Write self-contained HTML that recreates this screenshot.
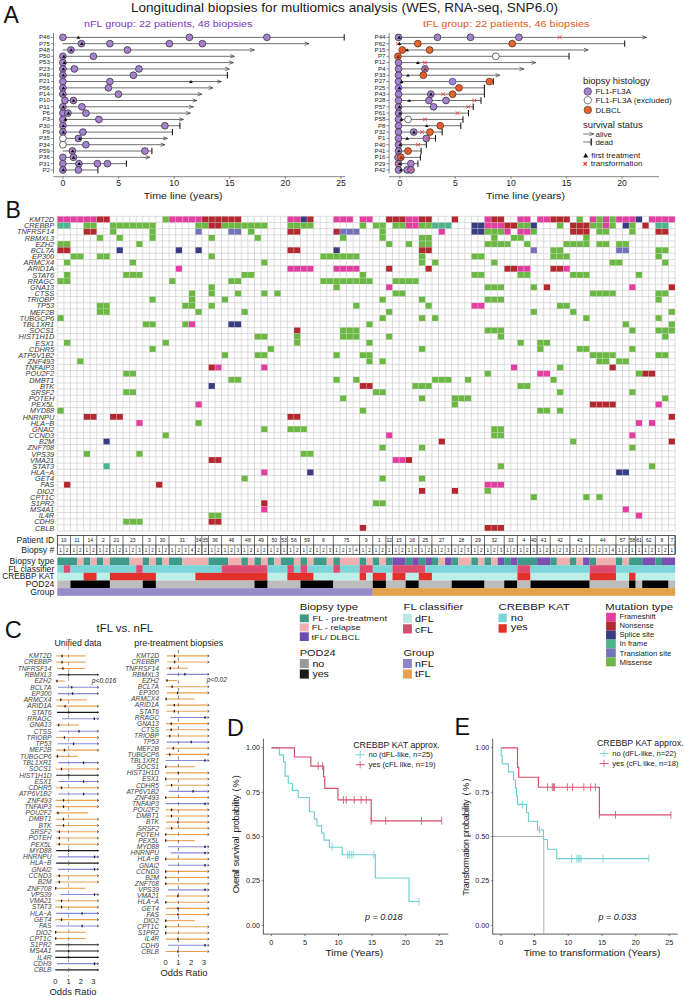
<!DOCTYPE html>
<html><head><meta charset="utf-8"><title>Figure</title>
<style>
html,body{margin:0;padding:0;background:#fff;}
body{width:685px;height:996px;overflow:hidden;font-family:"Liberation Sans",sans-serif;}
svg{display:block;font-family:"Liberation Sans",sans-serif;}
</style></head><body>
<svg width="685" height="996" viewBox="0 0 685 996">
<rect width="685" height="996" fill="#fff"/>
<text x="131" y="12" font-size="13.2" fill="#1a1a1a" textLength="427" lengthAdjust="spacingAndGlyphs">Longitudinal biopsies for multiomics analysis (WES, RNA-seq, SNP6.0)</text>
<text x="3.6" y="22.8" font-size="23" fill="#111">A</text>
<text x="5.4" y="218.3" font-size="23" fill="#111">B</text>
<text x="4.8" y="637.8" font-size="23.6" fill="#111">C</text>
<text x="226.9" y="735.8" font-size="23.4" fill="#111">D</text>
<text x="454.6" y="735.2" font-size="23.4" fill="#111">E</text>
<text x="84" y="26.6" font-size="9.6" fill="#7f36c0" textLength="168.5" lengthAdjust="spacingAndGlyphs">nFL group: 22 patients, 48 biopsies</text>
<text x="423" y="26.6" font-size="9.6" fill="#e4571e" textLength="166.5" lengthAdjust="spacingAndGlyphs">tFL group: 22 patients, 46 biopsies</text>
<line x1="53.5" y1="33" x2="53.5" y2="173.5" stroke="#333" stroke-width="0.6"/>
<line x1="50.8" y1="37.35" x2="53.5" y2="37.35" stroke="#333" stroke-width="0.55"/>
<text x="49.9" y="39.2" font-size="5.3" text-anchor="end" fill="#222" textLength="10.9" lengthAdjust="spacingAndGlyphs">P46</text>
<line x1="62.5" y1="37.35" x2="344.2" y2="37.35" stroke="#3c3c3c" stroke-width="0.75"/>
<line x1="344.2" y1="34.15" x2="344.2" y2="40.55" stroke="#111" stroke-width="1.05"/>
<line x1="50.8" y1="43.66" x2="53.5" y2="43.66" stroke="#333" stroke-width="0.55"/>
<text x="49.9" y="45.52" font-size="5.3" text-anchor="end" fill="#222" textLength="10.9" lengthAdjust="spacingAndGlyphs">P75</text>
<line x1="62.5" y1="43.66" x2="308.9" y2="43.66" stroke="#3c3c3c" stroke-width="0.75"/>
<path d="M304.6 41.96 L308.9 43.66 L304.6 45.37" fill="none" stroke="#3c3c3c" stroke-width="0.7"/>
<line x1="50.8" y1="49.98" x2="53.5" y2="49.98" stroke="#333" stroke-width="0.55"/>
<text x="49.9" y="51.83" font-size="5.3" text-anchor="end" fill="#222" textLength="10.9" lengthAdjust="spacingAndGlyphs">P48</text>
<line x1="62.5" y1="49.98" x2="254.4" y2="49.98" stroke="#3c3c3c" stroke-width="0.75"/>
<path d="M250.1 48.28 L254.4 49.98 L250.1 51.68" fill="none" stroke="#3c3c3c" stroke-width="0.7"/>
<line x1="50.8" y1="56.3" x2="53.5" y2="56.3" stroke="#333" stroke-width="0.55"/>
<text x="49.9" y="58.15" font-size="5.3" text-anchor="end" fill="#222" textLength="10.9" lengthAdjust="spacingAndGlyphs">P50</text>
<line x1="62.5" y1="56.3" x2="234.4" y2="56.3" stroke="#3c3c3c" stroke-width="0.75"/>
<path d="M230.1 54.59 L234.4 56.3 L230.1 58" fill="none" stroke="#3c3c3c" stroke-width="0.7"/>
<line x1="50.8" y1="62.61" x2="53.5" y2="62.61" stroke="#333" stroke-width="0.55"/>
<text x="49.9" y="64.46" font-size="5.3" text-anchor="end" fill="#222" textLength="10.9" lengthAdjust="spacingAndGlyphs">P53</text>
<line x1="62.5" y1="62.61" x2="233.4" y2="62.61" stroke="#3c3c3c" stroke-width="0.75"/>
<path d="M229.1 60.91 L233.4 62.61 L229.1 64.31" fill="none" stroke="#3c3c3c" stroke-width="0.7"/>
<line x1="50.8" y1="68.93" x2="53.5" y2="68.93" stroke="#333" stroke-width="0.55"/>
<text x="49.9" y="70.78" font-size="5.3" text-anchor="end" fill="#222" textLength="10.9" lengthAdjust="spacingAndGlyphs">P23</text>
<line x1="62.5" y1="68.93" x2="229.4" y2="68.93" stroke="#3c3c3c" stroke-width="0.75"/>
<path d="M225.1 67.23 L229.4 68.93 L225.1 70.63" fill="none" stroke="#3c3c3c" stroke-width="0.7"/>
<line x1="50.8" y1="75.24" x2="53.5" y2="75.24" stroke="#333" stroke-width="0.55"/>
<text x="49.9" y="77.09" font-size="5.3" text-anchor="end" fill="#222" textLength="10.9" lengthAdjust="spacingAndGlyphs">P49</text>
<line x1="62.5" y1="75.24" x2="227.4" y2="75.24" stroke="#3c3c3c" stroke-width="0.75"/>
<line x1="227.4" y1="72.04" x2="227.4" y2="78.44" stroke="#111" stroke-width="1.05"/>
<line x1="50.8" y1="81.56" x2="53.5" y2="81.56" stroke="#333" stroke-width="0.55"/>
<text x="49.9" y="83.41" font-size="5.3" text-anchor="end" fill="#222" textLength="10.9" lengthAdjust="spacingAndGlyphs">P21</text>
<line x1="62.5" y1="81.56" x2="221.4" y2="81.56" stroke="#3c3c3c" stroke-width="0.75"/>
<path d="M217.1 79.86 L221.4 81.56 L217.1 83.26" fill="none" stroke="#3c3c3c" stroke-width="0.7"/>
<line x1="50.8" y1="87.87" x2="53.5" y2="87.87" stroke="#333" stroke-width="0.55"/>
<text x="49.9" y="89.72" font-size="5.3" text-anchor="end" fill="#222" textLength="10.9" lengthAdjust="spacingAndGlyphs">P56</text>
<line x1="62.5" y1="87.87" x2="212.9" y2="87.87" stroke="#3c3c3c" stroke-width="0.75"/>
<path d="M208.6 86.17 L212.9 87.87 L208.6 89.57" fill="none" stroke="#3c3c3c" stroke-width="0.7"/>
<line x1="50.8" y1="94.19" x2="53.5" y2="94.19" stroke="#333" stroke-width="0.55"/>
<text x="49.9" y="96.03" font-size="5.3" text-anchor="end" fill="#222" textLength="10.9" lengthAdjust="spacingAndGlyphs">P14</text>
<line x1="62.5" y1="94.19" x2="201.9" y2="94.19" stroke="#3c3c3c" stroke-width="0.75"/>
<path d="M197.6 92.48 L201.9 94.19 L197.6 95.89" fill="none" stroke="#3c3c3c" stroke-width="0.7"/>
<line x1="50.8" y1="100.5" x2="53.5" y2="100.5" stroke="#333" stroke-width="0.55"/>
<text x="49.9" y="102.35" font-size="5.3" text-anchor="end" fill="#222" textLength="10.9" lengthAdjust="spacingAndGlyphs">P10</text>
<line x1="62.5" y1="100.5" x2="196.9" y2="100.5" stroke="#3c3c3c" stroke-width="0.75"/>
<path d="M192.6 98.8 L196.9 100.5 L192.6 102.2" fill="none" stroke="#3c3c3c" stroke-width="0.7"/>
<line x1="50.8" y1="106.81" x2="53.5" y2="106.81" stroke="#333" stroke-width="0.55"/>
<text x="49.9" y="108.66" font-size="5.3" text-anchor="end" fill="#222" textLength="10.9" lengthAdjust="spacingAndGlyphs">P11</text>
<line x1="62.5" y1="106.81" x2="193.4" y2="106.81" stroke="#3c3c3c" stroke-width="0.75"/>
<path d="M189.1 105.11 L193.4 106.81 L189.1 108.52" fill="none" stroke="#3c3c3c" stroke-width="0.7"/>
<line x1="50.8" y1="113.13" x2="53.5" y2="113.13" stroke="#333" stroke-width="0.55"/>
<text x="49.9" y="114.98" font-size="5.3" text-anchor="end" fill="#222" textLength="7.5" lengthAdjust="spacingAndGlyphs">P6</text>
<line x1="62.5" y1="113.13" x2="190.4" y2="113.13" stroke="#3c3c3c" stroke-width="0.75"/>
<path d="M186.1 111.43 L190.4 113.13 L186.1 114.83" fill="none" stroke="#3c3c3c" stroke-width="0.7"/>
<line x1="50.8" y1="119.44" x2="53.5" y2="119.44" stroke="#333" stroke-width="0.55"/>
<text x="49.9" y="121.29" font-size="5.3" text-anchor="end" fill="#222" textLength="7.5" lengthAdjust="spacingAndGlyphs">P3</text>
<line x1="62.5" y1="119.44" x2="183.4" y2="119.44" stroke="#3c3c3c" stroke-width="0.75"/>
<path d="M179.1 117.74 L183.4 119.44 L179.1 121.14" fill="none" stroke="#3c3c3c" stroke-width="0.7"/>
<line x1="50.8" y1="125.76" x2="53.5" y2="125.76" stroke="#333" stroke-width="0.55"/>
<text x="49.9" y="127.61" font-size="5.3" text-anchor="end" fill="#222" textLength="10.9" lengthAdjust="spacingAndGlyphs">P30</text>
<line x1="62.5" y1="125.76" x2="179.9" y2="125.76" stroke="#3c3c3c" stroke-width="0.75"/>
<line x1="179.9" y1="122.56" x2="179.9" y2="128.96" stroke="#111" stroke-width="1.05"/>
<line x1="50.8" y1="132.08" x2="53.5" y2="132.08" stroke="#333" stroke-width="0.55"/>
<text x="49.9" y="133.93" font-size="5.3" text-anchor="end" fill="#222" textLength="7.5" lengthAdjust="spacingAndGlyphs">P9</text>
<line x1="62.5" y1="132.08" x2="172.4" y2="132.08" stroke="#3c3c3c" stroke-width="0.75"/>
<line x1="172.4" y1="128.88" x2="172.4" y2="135.28" stroke="#111" stroke-width="1.05"/>
<line x1="50.8" y1="138.39" x2="53.5" y2="138.39" stroke="#333" stroke-width="0.55"/>
<text x="49.9" y="140.24" font-size="5.3" text-anchor="end" fill="#222" textLength="10.9" lengthAdjust="spacingAndGlyphs">P35</text>
<line x1="62.5" y1="138.39" x2="167.4" y2="138.39" stroke="#3c3c3c" stroke-width="0.75"/>
<path d="M163.1 136.69 L167.4 138.39 L163.1 140.09" fill="none" stroke="#3c3c3c" stroke-width="0.7"/>
<line x1="50.8" y1="144.71" x2="53.5" y2="144.71" stroke="#333" stroke-width="0.55"/>
<text x="49.9" y="146.56" font-size="5.3" text-anchor="end" fill="#222" textLength="10.9" lengthAdjust="spacingAndGlyphs">P34</text>
<line x1="62.5" y1="144.71" x2="164.9" y2="144.71" stroke="#3c3c3c" stroke-width="0.75"/>
<path d="M160.6 143.01 L164.9 144.71 L160.6 146.41" fill="none" stroke="#3c3c3c" stroke-width="0.7"/>
<line x1="50.8" y1="151.02" x2="53.5" y2="151.02" stroke="#333" stroke-width="0.55"/>
<text x="49.9" y="152.87" font-size="5.3" text-anchor="end" fill="#222" textLength="10.9" lengthAdjust="spacingAndGlyphs">P59</text>
<line x1="62.5" y1="151.02" x2="151.9" y2="151.02" stroke="#3c3c3c" stroke-width="0.75"/>
<line x1="151.9" y1="147.82" x2="151.9" y2="154.22" stroke="#111" stroke-width="1.05"/>
<line x1="50.8" y1="157.34" x2="53.5" y2="157.34" stroke="#333" stroke-width="0.55"/>
<text x="49.9" y="159.19" font-size="5.3" text-anchor="end" fill="#222" textLength="10.9" lengthAdjust="spacingAndGlyphs">P36</text>
<line x1="62.5" y1="157.34" x2="149.9" y2="157.34" stroke="#3c3c3c" stroke-width="0.75"/>
<path d="M145.6 155.64 L149.9 157.34 L145.6 159.03" fill="none" stroke="#3c3c3c" stroke-width="0.7"/>
<line x1="50.8" y1="163.65" x2="53.5" y2="163.65" stroke="#333" stroke-width="0.55"/>
<text x="49.9" y="165.5" font-size="5.3" text-anchor="end" fill="#222" textLength="10.9" lengthAdjust="spacingAndGlyphs">P31</text>
<line x1="62.5" y1="163.65" x2="126.4" y2="163.65" stroke="#3c3c3c" stroke-width="0.75"/>
<line x1="126.4" y1="160.45" x2="126.4" y2="166.85" stroke="#111" stroke-width="1.05"/>
<line x1="50.8" y1="169.97" x2="53.5" y2="169.97" stroke="#333" stroke-width="0.55"/>
<text x="49.9" y="171.81" font-size="5.3" text-anchor="end" fill="#222" textLength="7.5" lengthAdjust="spacingAndGlyphs">P2</text>
<line x1="62.5" y1="169.97" x2="97.9" y2="169.97" stroke="#3c3c3c" stroke-width="0.75"/>
<line x1="97.9" y1="166.77" x2="97.9" y2="173.16" stroke="#111" stroke-width="1.05"/>
<circle cx="62.9" cy="37.35" r="3.4" fill="#a781d1" stroke="#2a2a2a" stroke-width="0.7"/>
<circle cx="189.4" cy="37.35" r="3.4" fill="#a781d1" stroke="#2a2a2a" stroke-width="0.7"/>
<circle cx="266.9" cy="37.35" r="3.4" fill="#a781d1" stroke="#2a2a2a" stroke-width="0.7"/>
<path d="M76.45 38.7 L80.35 38.7 L78.4 35.75Z" fill="#111"/>
<circle cx="81.4" cy="43.66" r="3.4" fill="#a781d1" stroke="#2a2a2a" stroke-width="0.7"/>
<circle cx="109.9" cy="43.66" r="3.4" fill="#a781d1" stroke="#2a2a2a" stroke-width="0.7"/>
<circle cx="169.4" cy="43.66" r="3.4" fill="#a781d1" stroke="#2a2a2a" stroke-width="0.7"/>
<circle cx="202.4" cy="43.66" r="3.4" fill="#a781d1" stroke="#2a2a2a" stroke-width="0.7"/>
<path d="M79.95 45.02 L83.85 45.02 L81.9 42.06Z" fill="#111"/>
<circle cx="70.9" cy="49.98" r="3.4" fill="#a781d1" stroke="#2a2a2a" stroke-width="0.7"/>
<circle cx="127.4" cy="49.98" r="3.4" fill="#a781d1" stroke="#2a2a2a" stroke-width="0.7"/>
<path d="M69.25 51.33 L73.15 51.33 L71.2 48.38Z" fill="#111"/>
<circle cx="62.9" cy="56.3" r="3.4" fill="#a781d1" stroke="#2a2a2a" stroke-width="0.7"/>
<circle cx="93.4" cy="56.3" r="3.4" fill="#a781d1" stroke="#2a2a2a" stroke-width="0.7"/>
<path d="M61.95 57.65 L65.85 57.65 L63.9 54.7Z" fill="#111"/>
<circle cx="62.9" cy="62.61" r="3.4" fill="#a781d1" stroke="#2a2a2a" stroke-width="0.7"/>
<path d="M62.45 63.96 L66.35 63.96 L64.4 61.01Z" fill="#111"/>
<circle cx="62.9" cy="68.93" r="3.4" fill="#a781d1" stroke="#2a2a2a" stroke-width="0.7"/>
<circle cx="74.4" cy="68.93" r="3.4" fill="#a781d1" stroke="#2a2a2a" stroke-width="0.7"/>
<circle cx="138.9" cy="68.93" r="3.4" fill="#a781d1" stroke="#2a2a2a" stroke-width="0.7"/>
<path d="M61.45 70.28 L65.35 70.28 L63.4 67.33Z" fill="#111"/>
<circle cx="62.9" cy="75.24" r="3.4" fill="#a781d1" stroke="#2a2a2a" stroke-width="0.7"/>
<circle cx="133.4" cy="75.24" r="3.4" fill="#a781d1" stroke="#2a2a2a" stroke-width="0.7"/>
<path d="M61.45 76.59 L65.35 76.59 L63.4 73.64Z" fill="#111"/>
<circle cx="62.9" cy="81.56" r="3.4" fill="#a781d1" stroke="#2a2a2a" stroke-width="0.7"/>
<circle cx="109.9" cy="81.56" r="3.4" fill="#a781d1" stroke="#2a2a2a" stroke-width="0.7"/>
<path d="M188.95 82.91 L192.85 82.91 L190.9 79.96Z" fill="#111"/>
<circle cx="62.9" cy="87.87" r="3.4" fill="#a781d1" stroke="#2a2a2a" stroke-width="0.7"/>
<circle cx="108.4" cy="87.87" r="3.4" fill="#a781d1" stroke="#2a2a2a" stroke-width="0.7"/>
<path d="M61.45 89.22 L65.35 89.22 L63.4 86.27Z" fill="#111"/>
<circle cx="62.9" cy="94.19" r="3.4" fill="#a781d1" stroke="#2a2a2a" stroke-width="0.7"/>
<circle cx="118.4" cy="94.19" r="3.4" fill="#a781d1" stroke="#2a2a2a" stroke-width="0.7"/>
<path d="M61.45 95.53 L65.35 95.53 L63.4 92.59Z" fill="#111"/>
<circle cx="64.9" cy="100.5" r="3.4" fill="#a781d1" stroke="#2a2a2a" stroke-width="0.7"/>
<circle cx="73.4" cy="100.5" r="3.4" fill="#a781d1" stroke="#2a2a2a" stroke-width="0.7"/>
<path d="M71.65 101.85 L75.55 101.85 L73.6 98.9Z" fill="#111"/>
<circle cx="62.9" cy="106.81" r="3.4" fill="#a781d1" stroke="#2a2a2a" stroke-width="0.7"/>
<circle cx="81.9" cy="106.81" r="3.4" fill="#a781d1" stroke="#2a2a2a" stroke-width="0.7"/>
<path d="M61.45 108.16 L65.35 108.16 L63.4 105.22Z" fill="#111"/>
<circle cx="62.9" cy="113.13" r="3.4" fill="#a781d1" stroke="#2a2a2a" stroke-width="0.7"/>
<circle cx="67.9" cy="113.13" r="3.4" fill="#a781d1" stroke="#2a2a2a" stroke-width="0.7"/>
<circle cx="85.9" cy="113.13" r="3.4" fill="#a781d1" stroke="#2a2a2a" stroke-width="0.7"/>
<path d="M66.45 114.48 L70.35 114.48 L68.4 111.53Z" fill="#111"/>
<circle cx="62.9" cy="119.44" r="3.4" fill="#a781d1" stroke="#2a2a2a" stroke-width="0.7"/>
<circle cx="98.9" cy="119.44" r="3.4" fill="#a781d1" stroke="#2a2a2a" stroke-width="0.7"/>
<path d="M63.45 120.79 L67.35 120.79 L65.4 117.84Z" fill="#111"/>
<circle cx="62.9" cy="125.76" r="3.4" fill="#a781d1" stroke="#2a2a2a" stroke-width="0.7"/>
<circle cx="164.9" cy="125.76" r="3.4" fill="#a781d1" stroke="#2a2a2a" stroke-width="0.7"/>
<path d="M61.45 127.11 L65.35 127.11 L63.4 124.16Z" fill="#111"/>
<circle cx="62.9" cy="132.08" r="3.4" fill="#a781d1" stroke="#2a2a2a" stroke-width="0.7"/>
<circle cx="82.9" cy="132.08" r="3.4" fill="#a781d1" stroke="#2a2a2a" stroke-width="0.7"/>
<path d="M61.45 133.43 L65.35 133.43 L63.4 130.48Z" fill="#111"/>
<circle cx="62.9" cy="138.39" r="3.4" fill="#fff" stroke="#2a2a2a" stroke-width="0.7"/>
<circle cx="78.4" cy="138.39" r="3.4" fill="#a781d1" stroke="#2a2a2a" stroke-width="0.7"/>
<path d="M77.95 139.74 L81.85 139.74 L79.9 136.79Z" fill="#111"/>
<circle cx="62.9" cy="144.71" r="3.4" fill="#fff" stroke="#2a2a2a" stroke-width="0.7"/>
<circle cx="85.9" cy="144.71" r="3.4" fill="#a781d1" stroke="#2a2a2a" stroke-width="0.7"/>
<circle cx="72.4" cy="151.02" r="3.4" fill="#a781d1" stroke="#2a2a2a" stroke-width="0.7"/>
<circle cx="144.9" cy="151.02" r="3.4" fill="#a781d1" stroke="#2a2a2a" stroke-width="0.7"/>
<path d="M70.75 152.37 L74.65 152.37 L72.7 149.42Z" fill="#111"/>
<circle cx="62.9" cy="157.34" r="3.4" fill="#a781d1" stroke="#2a2a2a" stroke-width="0.7"/>
<circle cx="73.4" cy="157.34" r="3.4" fill="#a781d1" stroke="#2a2a2a" stroke-width="0.7"/>
<path d="M71.65 158.69 L75.55 158.69 L73.6 155.74Z" fill="#111"/>
<circle cx="62.9" cy="163.65" r="3.4" fill="#a781d1" stroke="#2a2a2a" stroke-width="0.7"/>
<circle cx="78.9" cy="163.65" r="3.4" fill="#a781d1" stroke="#2a2a2a" stroke-width="0.7"/>
<circle cx="97.4" cy="163.65" r="3.4" fill="#a781d1" stroke="#2a2a2a" stroke-width="0.7"/>
<circle cx="107.4" cy="163.65" r="3.4" fill="#a781d1" stroke="#2a2a2a" stroke-width="0.7"/>
<path d="M77.25 165 L81.15 165 L79.2 162.05Z" fill="#111"/>
<circle cx="62.9" cy="169.97" r="3.4" fill="#a781d1" stroke="#2a2a2a" stroke-width="0.7"/>
<circle cx="78.4" cy="169.97" r="3.4" fill="#a781d1" stroke="#2a2a2a" stroke-width="0.7"/>
<path d="M61.45 171.31 L65.35 171.31 L63.4 168.37Z" fill="#111"/>
<line x1="53.4" y1="176.7" x2="345" y2="176.7" stroke="#333" stroke-width="0.6"/>
<line x1="63" y1="176.7" x2="63" y2="178.6" stroke="#333" stroke-width="0.6"/>
<text x="63" y="186.4" font-size="8.7" text-anchor="middle" fill="#222">0</text>
<line x1="118.6" y1="176.7" x2="118.6" y2="178.6" stroke="#333" stroke-width="0.6"/>
<text x="118.6" y="186.4" font-size="8.7" text-anchor="middle" fill="#222">5</text>
<line x1="174.2" y1="176.7" x2="174.2" y2="178.6" stroke="#333" stroke-width="0.6"/>
<text x="174.2" y="186.4" font-size="8.7" text-anchor="middle" fill="#222">10</text>
<line x1="229.8" y1="176.7" x2="229.8" y2="178.6" stroke="#333" stroke-width="0.6"/>
<text x="229.8" y="186.4" font-size="8.7" text-anchor="middle" fill="#222">15</text>
<line x1="285.4" y1="176.7" x2="285.4" y2="178.6" stroke="#333" stroke-width="0.6"/>
<text x="285.4" y="186.4" font-size="8.7" text-anchor="middle" fill="#222">20</text>
<line x1="341" y1="176.7" x2="341" y2="178.6" stroke="#333" stroke-width="0.6"/>
<text x="341" y="186.4" font-size="8.7" text-anchor="middle" fill="#222">25</text>
<line x1="389.1" y1="33" x2="389.1" y2="173.5" stroke="#333" stroke-width="0.6"/>
<line x1="386.4" y1="37.35" x2="389.1" y2="37.35" stroke="#333" stroke-width="0.55"/>
<text x="385.5" y="39.2" font-size="5.3" text-anchor="end" fill="#222" textLength="10.9" lengthAdjust="spacingAndGlyphs">P44</text>
<line x1="398.5" y1="37.35" x2="646.5" y2="37.35" stroke="#3c3c3c" stroke-width="0.75"/>
<path d="M642.2 35.65 L646.5 37.35 L642.2 39.05" fill="none" stroke="#3c3c3c" stroke-width="0.7"/>
<line x1="386.4" y1="43.66" x2="389.1" y2="43.66" stroke="#333" stroke-width="0.55"/>
<text x="385.5" y="45.52" font-size="5.3" text-anchor="end" fill="#222" textLength="10.9" lengthAdjust="spacingAndGlyphs">P62</text>
<line x1="400.3" y1="43.66" x2="624.7" y2="43.66" stroke="#3c3c3c" stroke-width="0.75"/>
<line x1="624.7" y1="40.46" x2="624.7" y2="46.87" stroke="#111" stroke-width="1.05"/>
<line x1="386.4" y1="49.98" x2="389.1" y2="49.98" stroke="#333" stroke-width="0.55"/>
<text x="385.5" y="51.83" font-size="5.3" text-anchor="end" fill="#222" textLength="10.9" lengthAdjust="spacingAndGlyphs">P15</text>
<line x1="400.3" y1="49.98" x2="588.2" y2="49.98" stroke="#3c3c3c" stroke-width="0.75"/>
<path d="M583.9 48.28 L588.2 49.98 L583.9 51.68" fill="none" stroke="#3c3c3c" stroke-width="0.7"/>
<line x1="386.4" y1="56.3" x2="389.1" y2="56.3" stroke="#333" stroke-width="0.55"/>
<text x="385.5" y="58.15" font-size="5.3" text-anchor="end" fill="#222" textLength="7.5" lengthAdjust="spacingAndGlyphs">P7</text>
<line x1="398" y1="56.3" x2="569" y2="56.3" stroke="#3c3c3c" stroke-width="0.75"/>
<line x1="569" y1="53.09" x2="569" y2="59.5" stroke="#111" stroke-width="1.05"/>
<line x1="386.4" y1="62.61" x2="389.1" y2="62.61" stroke="#333" stroke-width="0.55"/>
<text x="385.5" y="64.46" font-size="5.3" text-anchor="end" fill="#222" textLength="10.9" lengthAdjust="spacingAndGlyphs">P12</text>
<line x1="398.5" y1="62.61" x2="535.8" y2="62.61" stroke="#3c3c3c" stroke-width="0.75"/>
<path d="M531.5 60.91 L535.8 62.61 L531.5 64.31" fill="none" stroke="#3c3c3c" stroke-width="0.7"/>
<line x1="386.4" y1="68.93" x2="389.1" y2="68.93" stroke="#333" stroke-width="0.55"/>
<text x="385.5" y="70.78" font-size="5.3" text-anchor="end" fill="#222" textLength="7.5" lengthAdjust="spacingAndGlyphs">P4</text>
<line x1="398.5" y1="68.93" x2="523.8" y2="68.93" stroke="#3c3c3c" stroke-width="0.75"/>
<path d="M519.5 67.23 L523.8 68.93 L519.5 70.63" fill="none" stroke="#3c3c3c" stroke-width="0.7"/>
<line x1="386.4" y1="75.24" x2="389.1" y2="75.24" stroke="#333" stroke-width="0.55"/>
<text x="385.5" y="77.09" font-size="5.3" text-anchor="end" fill="#222" textLength="10.9" lengthAdjust="spacingAndGlyphs">P33</text>
<line x1="398.5" y1="75.24" x2="499.8" y2="75.24" stroke="#3c3c3c" stroke-width="0.75"/>
<path d="M495.5 73.54 L499.8 75.24 L495.5 76.94" fill="none" stroke="#3c3c3c" stroke-width="0.7"/>
<line x1="386.4" y1="81.56" x2="389.1" y2="81.56" stroke="#333" stroke-width="0.55"/>
<text x="385.5" y="83.41" font-size="5.3" text-anchor="end" fill="#222" textLength="10.9" lengthAdjust="spacingAndGlyphs">P27</text>
<line x1="398.5" y1="81.56" x2="493.3" y2="81.56" stroke="#3c3c3c" stroke-width="0.75"/>
<line x1="493.3" y1="78.36" x2="493.3" y2="84.76" stroke="#111" stroke-width="1.05"/>
<line x1="386.4" y1="87.87" x2="389.1" y2="87.87" stroke="#333" stroke-width="0.55"/>
<text x="385.5" y="89.72" font-size="5.3" text-anchor="end" fill="#222" textLength="10.9" lengthAdjust="spacingAndGlyphs">P25</text>
<line x1="398.5" y1="87.87" x2="484.4" y2="87.87" stroke="#3c3c3c" stroke-width="0.75"/>
<line x1="484.4" y1="84.67" x2="484.4" y2="91.07" stroke="#111" stroke-width="1.05"/>
<line x1="386.4" y1="94.19" x2="389.1" y2="94.19" stroke="#333" stroke-width="0.55"/>
<text x="385.5" y="96.03" font-size="5.3" text-anchor="end" fill="#222" textLength="10.9" lengthAdjust="spacingAndGlyphs">P43</text>
<line x1="398.5" y1="94.19" x2="484.4" y2="94.19" stroke="#3c3c3c" stroke-width="0.75"/>
<line x1="484.4" y1="90.98" x2="484.4" y2="97.39" stroke="#111" stroke-width="1.05"/>
<line x1="386.4" y1="100.5" x2="389.1" y2="100.5" stroke="#333" stroke-width="0.55"/>
<text x="385.5" y="102.35" font-size="5.3" text-anchor="end" fill="#222" textLength="10.9" lengthAdjust="spacingAndGlyphs">P28</text>
<line x1="398.5" y1="100.5" x2="481" y2="100.5" stroke="#3c3c3c" stroke-width="0.75"/>
<line x1="481" y1="97.3" x2="481" y2="103.7" stroke="#111" stroke-width="1.05"/>
<line x1="386.4" y1="106.81" x2="389.1" y2="106.81" stroke="#333" stroke-width="0.55"/>
<text x="385.5" y="108.66" font-size="5.3" text-anchor="end" fill="#222" textLength="10.9" lengthAdjust="spacingAndGlyphs">P57</text>
<line x1="398.5" y1="106.81" x2="473.2" y2="106.81" stroke="#3c3c3c" stroke-width="0.75"/>
<line x1="473.2" y1="103.61" x2="473.2" y2="110.02" stroke="#111" stroke-width="1.05"/>
<line x1="386.4" y1="113.13" x2="389.1" y2="113.13" stroke="#333" stroke-width="0.55"/>
<text x="385.5" y="114.98" font-size="5.3" text-anchor="end" fill="#222" textLength="10.9" lengthAdjust="spacingAndGlyphs">P61</text>
<line x1="398.5" y1="113.13" x2="468.5" y2="113.13" stroke="#3c3c3c" stroke-width="0.75"/>
<line x1="468.5" y1="109.93" x2="468.5" y2="116.33" stroke="#111" stroke-width="1.05"/>
<line x1="386.4" y1="119.44" x2="389.1" y2="119.44" stroke="#333" stroke-width="0.55"/>
<text x="385.5" y="121.29" font-size="5.3" text-anchor="end" fill="#222" textLength="10.9" lengthAdjust="spacingAndGlyphs">P58</text>
<line x1="398.5" y1="119.44" x2="463" y2="119.44" stroke="#3c3c3c" stroke-width="0.75"/>
<line x1="463" y1="116.24" x2="463" y2="122.64" stroke="#111" stroke-width="1.05"/>
<line x1="386.4" y1="125.76" x2="389.1" y2="125.76" stroke="#333" stroke-width="0.55"/>
<text x="385.5" y="127.61" font-size="5.3" text-anchor="end" fill="#222" textLength="7.5" lengthAdjust="spacingAndGlyphs">P8</text>
<line x1="398.5" y1="125.76" x2="460.8" y2="125.76" stroke="#3c3c3c" stroke-width="0.75"/>
<line x1="460.8" y1="122.56" x2="460.8" y2="128.96" stroke="#111" stroke-width="1.05"/>
<line x1="386.4" y1="132.08" x2="389.1" y2="132.08" stroke="#333" stroke-width="0.55"/>
<text x="385.5" y="133.93" font-size="5.3" text-anchor="end" fill="#222" textLength="10.9" lengthAdjust="spacingAndGlyphs">P32</text>
<line x1="398.5" y1="132.08" x2="442.2" y2="132.08" stroke="#3c3c3c" stroke-width="0.75"/>
<line x1="442.2" y1="128.88" x2="442.2" y2="135.28" stroke="#111" stroke-width="1.05"/>
<line x1="386.4" y1="138.39" x2="389.1" y2="138.39" stroke="#333" stroke-width="0.55"/>
<text x="385.5" y="140.24" font-size="5.3" text-anchor="end" fill="#222" textLength="7.5" lengthAdjust="spacingAndGlyphs">P1</text>
<line x1="398.5" y1="138.39" x2="435.5" y2="138.39" stroke="#3c3c3c" stroke-width="0.75"/>
<line x1="435.5" y1="135.19" x2="435.5" y2="141.59" stroke="#111" stroke-width="1.05"/>
<line x1="386.4" y1="144.71" x2="389.1" y2="144.71" stroke="#333" stroke-width="0.55"/>
<text x="385.5" y="146.56" font-size="5.3" text-anchor="end" fill="#222" textLength="10.9" lengthAdjust="spacingAndGlyphs">P40</text>
<line x1="398.5" y1="144.71" x2="426.3" y2="144.71" stroke="#3c3c3c" stroke-width="0.75"/>
<line x1="426.3" y1="141.51" x2="426.3" y2="147.91" stroke="#111" stroke-width="1.05"/>
<line x1="386.4" y1="151.02" x2="389.1" y2="151.02" stroke="#333" stroke-width="0.55"/>
<text x="385.5" y="152.87" font-size="5.3" text-anchor="end" fill="#222" textLength="10.9" lengthAdjust="spacingAndGlyphs">P41</text>
<line x1="398.5" y1="151.02" x2="421.1" y2="151.02" stroke="#3c3c3c" stroke-width="0.75"/>
<line x1="421.1" y1="147.82" x2="421.1" y2="154.22" stroke="#111" stroke-width="1.05"/>
<line x1="386.4" y1="157.34" x2="389.1" y2="157.34" stroke="#333" stroke-width="0.55"/>
<text x="385.5" y="159.19" font-size="5.3" text-anchor="end" fill="#222" textLength="10.9" lengthAdjust="spacingAndGlyphs">P16</text>
<line x1="398" y1="157.34" x2="420.4" y2="157.34" stroke="#3c3c3c" stroke-width="0.75"/>
<line x1="420.4" y1="154.14" x2="420.4" y2="160.53" stroke="#111" stroke-width="1.05"/>
<line x1="386.4" y1="163.65" x2="389.1" y2="163.65" stroke="#333" stroke-width="0.55"/>
<text x="385.5" y="165.5" font-size="5.3" text-anchor="end" fill="#222" textLength="10.9" lengthAdjust="spacingAndGlyphs">P29</text>
<line x1="398.5" y1="163.65" x2="417.9" y2="163.65" stroke="#3c3c3c" stroke-width="0.75"/>
<line x1="417.9" y1="160.45" x2="417.9" y2="166.85" stroke="#111" stroke-width="1.05"/>
<line x1="386.4" y1="169.97" x2="389.1" y2="169.97" stroke="#333" stroke-width="0.55"/>
<text x="385.5" y="171.81" font-size="5.3" text-anchor="end" fill="#222" textLength="10.9" lengthAdjust="spacingAndGlyphs">P42</text>
<line x1="398.5" y1="169.97" x2="411" y2="169.97" stroke="#3c3c3c" stroke-width="0.75"/>
<line x1="411" y1="166.77" x2="411" y2="173.16" stroke="#111" stroke-width="1.05"/>
<circle cx="398.5" cy="37.35" r="3.4" fill="#a781d1" stroke="#2a2a2a" stroke-width="0.7"/>
<circle cx="437.5" cy="37.35" r="3.4" fill="#a781d1" stroke="#2a2a2a" stroke-width="0.7"/>
<circle cx="470.5" cy="37.35" r="3.4" fill="#a781d1" stroke="#2a2a2a" stroke-width="0.7"/>
<circle cx="518.9" cy="37.35" r="3.4" fill="#a781d1" stroke="#2a2a2a" stroke-width="0.7"/>
<path d="M397.35 38.7 L401.25 38.7 L399.3 35.75Z" fill="#111"/>
<path d="M557.7 35.6 L561.7 39.1 M557.7 39.1 L561.7 35.6" stroke="#ea4238" stroke-width="0.9" fill="none"/>
<circle cx="417.9" cy="43.66" r="3.4" fill="#e8672c" stroke="#4a2418" stroke-width="0.7"/>
<circle cx="512.2" cy="43.66" r="3.4" fill="#e8672c" stroke="#4a2418" stroke-width="0.7"/>
<path d="M396 41.91 L400 45.41 M396 45.41 L400 41.91" stroke="#ea4238" stroke-width="0.9" fill="none"/>
<path d="M397.55 45.02 L401.45 45.02 L399.5 42.06Z" fill="#111"/>
<circle cx="402.3" cy="49.98" r="3.4" fill="#e8672c" stroke="#4a2418" stroke-width="0.7"/>
<circle cx="429.6" cy="49.98" r="3.4" fill="#e8672c" stroke="#4a2418" stroke-width="0.7"/>
<path d="M400.3 48.23 L404.3 51.73 M400.3 51.73 L404.3 48.23" stroke="#ea4238" stroke-width="0.9" fill="none"/>
<path d="M405.25 51.33 L409.15 51.33 L407.2 48.38Z" fill="#111"/>
<circle cx="398" cy="56.3" r="3.4" fill="#e8672c" stroke="#4a2418" stroke-width="0.7"/>
<circle cx="495.8" cy="56.3" r="3.4" fill="#fff" stroke="#2a2a2a" stroke-width="0.7"/>
<path d="M396.35 57.65 L400.25 57.65 L398.3 54.7Z" fill="#111"/>
<path d="M396.3 54.55 L400.3 58.05 M396.3 58.05 L400.3 54.55" stroke="#ea4238" stroke-width="0.9" fill="none"/>
<circle cx="398.5" cy="62.61" r="3.4" fill="#a781d1" stroke="#2a2a2a" stroke-width="0.7"/>
<path d="M415.95 63.96 L419.85 63.96 L417.9 61.01Z" fill="#111"/>
<path d="M423 60.86 L427 64.36 M423 64.36 L427 60.86" stroke="#ea4238" stroke-width="0.9" fill="none"/>
<circle cx="398.5" cy="68.93" r="3.4" fill="#a781d1" stroke="#2a2a2a" stroke-width="0.7"/>
<circle cx="425" cy="68.93" r="3.4" fill="#a781d1" stroke="#2a2a2a" stroke-width="0.7"/>
<path d="M423.35 70.28 L427.25 70.28 L425.3 67.33Z" fill="#111"/>
<path d="M423.6 67.18 L427.6 70.68 M423.6 70.68 L427.6 67.18" stroke="#ea4238" stroke-width="0.9" fill="none"/>
<circle cx="398.5" cy="75.24" r="3.4" fill="#a781d1" stroke="#2a2a2a" stroke-width="0.7"/>
<circle cx="423.3" cy="75.24" r="3.4" fill="#e8672c" stroke="#4a2418" stroke-width="0.7"/>
<path d="M406.05 76.59 L409.95 76.59 L408 73.64Z" fill="#111"/>
<path d="M421.4 73.49 L425.4 76.99 M421.4 76.99 L425.4 73.49" stroke="#ea4238" stroke-width="0.9" fill="none"/>
<circle cx="398.5" cy="81.56" r="3.4" fill="#a781d1" stroke="#2a2a2a" stroke-width="0.7"/>
<circle cx="452.6" cy="81.56" r="3.4" fill="#a781d1" stroke="#3c3cb4" stroke-width="0.7"/>
<circle cx="489.4" cy="81.56" r="3.4" fill="#e8672c" stroke="#4a2418" stroke-width="0.7"/>
<path d="M399.55 82.91 L403.45 82.91 L401.5 79.96Z" fill="#111"/>
<path d="M487.6 79.81 L491.6 83.31 M487.6 83.31 L491.6 79.81" stroke="#ea4238" stroke-width="0.9" fill="none"/>
<circle cx="398.5" cy="87.87" r="3.4" fill="#a781d1" stroke="#3c3cb4" stroke-width="0.7"/>
<circle cx="459" cy="87.87" r="3.4" fill="#e8672c" stroke="#4a2418" stroke-width="0.7"/>
<path d="M397.55 89.22 L401.45 89.22 L399.5 86.27Z" fill="#111"/>
<path d="M457.2 86.12 L461.2 89.62 M457.2 89.62 L461.2 86.12" stroke="#ea4238" stroke-width="0.9" fill="none"/>
<circle cx="398.5" cy="94.19" r="3.4" fill="#a781d1" stroke="#2a2a2a" stroke-width="0.7"/>
<circle cx="430.8" cy="94.19" r="3.4" fill="#a781d1" stroke="#2a2a2a" stroke-width="0.7"/>
<circle cx="452.6" cy="94.19" r="3.4" fill="#e8672c" stroke="#4a2418" stroke-width="0.7"/>
<path d="M429.05 95.53 L432.95 95.53 L431 92.59Z" fill="#111"/>
<path d="M441.2 92.44 L445.2 95.94 M441.2 95.94 L445.2 92.44" stroke="#ea4238" stroke-width="0.9" fill="none"/>
<circle cx="398.5" cy="100.5" r="3.4" fill="#a781d1" stroke="#2a2a2a" stroke-width="0.7"/>
<circle cx="429" cy="100.5" r="3.4" fill="#a781d1" stroke="#2a2a2a" stroke-width="0.7"/>
<circle cx="446" cy="100.5" r="3.4" fill="#a781d1" stroke="#2a2a2a" stroke-width="0.7"/>
<path d="M407.25 101.85 L411.15 101.85 L409.2 98.9Z" fill="#111"/>
<path d="M472.2 98.75 L476.2 102.25 M472.2 102.25 L476.2 98.75" stroke="#ea4238" stroke-width="0.9" fill="none"/>
<circle cx="398.5" cy="106.81" r="3.4" fill="#a781d1" stroke="#2a2a2a" stroke-width="0.7"/>
<circle cx="433.5" cy="106.81" r="3.4" fill="#a781d1" stroke="#2a2a2a" stroke-width="0.7"/>
<path d="M397.55 108.16 L401.45 108.16 L399.5 105.22Z" fill="#111"/>
<path d="M466.3 105.06 L470.3 108.56 M466.3 108.56 L470.3 105.06" stroke="#ea4238" stroke-width="0.9" fill="none"/>
<circle cx="398.5" cy="113.13" r="3.4" fill="#a781d1" stroke="#2a2a2a" stroke-width="0.7"/>
<path d="M398.05 114.48 L401.95 114.48 L400 111.53Z" fill="#111"/>
<path d="M455.6 111.38 L459.6 114.88 M455.6 114.88 L459.6 111.38" stroke="#ea4238" stroke-width="0.9" fill="none"/>
<circle cx="398.5" cy="119.44" r="3.4" fill="#a781d1" stroke="#2a2a2a" stroke-width="0.7"/>
<circle cx="408" cy="119.44" r="3.4" fill="#fff" stroke="#2a2a2a" stroke-width="0.7"/>
<path d="M399.55 120.79 L403.45 120.79 L401.5 117.84Z" fill="#111"/>
<path d="M423 117.69 L427 121.19 M423 121.19 L427 117.69" stroke="#ea4238" stroke-width="0.9" fill="none"/>
<circle cx="398.5" cy="125.76" r="3.4" fill="#a781d1" stroke="#2a2a2a" stroke-width="0.7"/>
<circle cx="440.2" cy="125.76" r="3.4" fill="#e8672c" stroke="#4a2418" stroke-width="0.7"/>
<path d="M424.85 127.11 L428.75 127.11 L426.8 124.16Z" fill="#111"/>
<path d="M438.3 124.01 L442.3 127.51 M438.3 127.51 L442.3 124.01" stroke="#ea4238" stroke-width="0.9" fill="none"/>
<circle cx="398.5" cy="132.08" r="3.4" fill="#a781d1" stroke="#2a2a2a" stroke-width="0.7"/>
<circle cx="413.7" cy="132.08" r="3.4" fill="#a781d1" stroke="#2a2a2a" stroke-width="0.7"/>
<circle cx="430" cy="132.08" r="3.4" fill="#e8672c" stroke="#4a2418" stroke-width="0.7"/>
<path d="M412.05 133.43 L415.95 133.43 L414 130.48Z" fill="#111"/>
<path d="M419.9 130.33 L423.9 133.83 M419.9 133.83 L423.9 130.33" stroke="#ea4238" stroke-width="0.9" fill="none"/>
<circle cx="398.5" cy="138.39" r="3.4" fill="#a781d1" stroke="#2a2a2a" stroke-width="0.7"/>
<circle cx="426.3" cy="138.39" r="3.4" fill="#a781d1" stroke="#2a2a2a" stroke-width="0.7"/>
<path d="M405.25 139.74 L409.15 139.74 L407.2 136.79Z" fill="#111"/>
<path d="M425.8 136.64 L429.8 140.14 M425.8 140.14 L429.8 136.64" stroke="#ea4238" stroke-width="0.9" fill="none"/>
<circle cx="398.5" cy="144.71" r="3.4" fill="#a781d1" stroke="#2a2a2a" stroke-width="0.7"/>
<path d="M398.35 146.06 L402.25 146.06 L400.3 143.11Z" fill="#111"/>
<path d="M416.1 142.96 L420.1 146.46 M416.1 146.46 L420.1 142.96" stroke="#ea4238" stroke-width="0.9" fill="none"/>
<circle cx="398.5" cy="151.02" r="3.4" fill="#a781d1" stroke="#2a2a2a" stroke-width="0.7"/>
<circle cx="408" cy="151.02" r="3.4" fill="#e8672c" stroke="#4a2418" stroke-width="0.7"/>
<path d="M397.05 152.37 L400.95 152.37 L399 149.42Z" fill="#111"/>
<path d="M406.1 149.27 L410.1 152.77 M406.1 152.77 L410.1 149.27" stroke="#ea4238" stroke-width="0.9" fill="none"/>
<circle cx="398" cy="157.34" r="3.4" fill="#a781d1" stroke="#2a2a2a" stroke-width="0.7"/>
<circle cx="400.8" cy="157.34" r="3.4" fill="#e8672c" stroke="#4a2418" stroke-width="0.7"/>
<path d="M399.25 158.69 L403.15 158.69 L401.2 155.74Z" fill="#111"/>
<path d="M398.8 155.59 L402.8 159.09 M398.8 159.09 L402.8 155.59" stroke="#ea4238" stroke-width="0.9" fill="none"/>
<circle cx="398.5" cy="163.65" r="3.4" fill="#a781d1" stroke="#2a2a2a" stroke-width="0.7"/>
<circle cx="410.9" cy="163.65" r="3.4" fill="#a781d1" stroke="#2a2a2a" stroke-width="0.7"/>
<path d="M396.5 161.9 L400.5 165.4 M396.5 165.4 L400.5 161.9" stroke="#ea4238" stroke-width="0.9" fill="none"/>
<path d="M398.05 165 L401.95 165 L400 162.05Z" fill="#111"/>
<circle cx="398.5" cy="169.97" r="3.4" fill="#a781d1" stroke="#2a2a2a" stroke-width="0.7"/>
<circle cx="407.2" cy="169.97" r="3.4" fill="#a781d1" stroke="#2a2a2a" stroke-width="0.7"/>
<circle cx="411" cy="169.97" r="3.4" fill="#a781d1" stroke="#2a2a2a" stroke-width="0.7"/>
<path d="M399.05 171.31 L402.95 171.31 L401 168.37Z" fill="#111"/>
<path d="M409.2 168.22 L413.2 171.72 M409.2 171.72 L413.2 168.22" stroke="#ea4238" stroke-width="0.9" fill="none"/>
<line x1="389" y1="176.7" x2="659" y2="176.7" stroke="#333" stroke-width="0.6"/>
<line x1="399.9" y1="176.7" x2="399.9" y2="178.6" stroke="#333" stroke-width="0.6"/>
<text x="399.9" y="186.4" font-size="8.7" text-anchor="middle" fill="#222">0</text>
<line x1="455.4" y1="176.7" x2="455.4" y2="178.6" stroke="#333" stroke-width="0.6"/>
<text x="455.4" y="186.4" font-size="8.7" text-anchor="middle" fill="#222">5</text>
<line x1="511" y1="176.7" x2="511" y2="178.6" stroke="#333" stroke-width="0.6"/>
<text x="511" y="186.4" font-size="8.7" text-anchor="middle" fill="#222">10</text>
<line x1="566.5" y1="176.7" x2="566.5" y2="178.6" stroke="#333" stroke-width="0.6"/>
<text x="566.5" y="186.4" font-size="8.7" text-anchor="middle" fill="#222">15</text>
<line x1="622.1" y1="176.7" x2="622.1" y2="178.6" stroke="#333" stroke-width="0.6"/>
<text x="622.1" y="186.4" font-size="8.7" text-anchor="middle" fill="#222">20</text>
<text x="143.7" y="198.5" font-size="9.7" fill="#222" textLength="79" lengthAdjust="spacingAndGlyphs">Time line (years)</text>
<text x="486" y="198.5" font-size="9.7" fill="#222" textLength="79" lengthAdjust="spacingAndGlyphs">Time line (years)</text>
<text x="583" y="84.4" font-size="8.8" fill="#222" textLength="67" lengthAdjust="spacingAndGlyphs">biopsy histology</text>
<circle cx="587.8" cy="91.5" r="3.75" fill="#a781d1" stroke="#333" stroke-width="0.6"/>
<text x="595.6" y="94.1" font-size="7.5" fill="#222" textLength="35.5" lengthAdjust="spacingAndGlyphs">FL1-FL3A</text>
<circle cx="587.8" cy="100.2" r="3.75" fill="#fff" stroke="#333" stroke-width="0.6"/>
<text x="595.6" y="102.8" font-size="7.5" fill="#222" textLength="76.2" lengthAdjust="spacingAndGlyphs">FL1-FL3A (excluded)</text>
<circle cx="587.8" cy="109.9" r="3.75" fill="#e8672c" stroke="#333" stroke-width="0.6"/>
<text x="595.6" y="112.5" font-size="7.5" fill="#222" textLength="25.6" lengthAdjust="spacingAndGlyphs">DLBCL</text>
<text x="583" y="128.4" font-size="8.8" fill="#222" textLength="59.6" lengthAdjust="spacingAndGlyphs">survival status</text>
<line x1="583.2" y1="134" x2="593.6" y2="134" stroke="#444" stroke-width="0.7"/>
<path d="M589.4 132.2 L593.9 134.0 L589.4 135.8" fill="none" stroke="#444" stroke-width="0.65"/>
<text x="595.6" y="136.5" font-size="7.5" fill="#222" textLength="16.2" lengthAdjust="spacingAndGlyphs">alive</text>
<line x1="583.2" y1="142" x2="590.8" y2="142" stroke="#444" stroke-width="0.7"/>
<line x1="591.2" y1="138.4" x2="591.2" y2="145.6" stroke="#111" stroke-width="1.3"/>
<text x="595.4" y="144.5" font-size="7.5" fill="#222" textLength="17.6" lengthAdjust="spacingAndGlyphs">dead</text>
<path d="M583.2 157.6 L588.2 157.6 L585.7 153.0Z" fill="#111"/>
<text x="591.2" y="158.2" font-size="7.5" fill="#222" textLength="49" lengthAdjust="spacingAndGlyphs">first treatment</text>
<path d="M583.5 162.0 L586.9 165.6 M583.5 165.6 L586.9 162.0" stroke="#e8392f" stroke-width="1.2" fill="none"/>
<text x="590.8" y="166.2" font-size="7.5" fill="#222" textLength="51.6" lengthAdjust="spacingAndGlyphs">transformation</text>
<path d="M57.3 216.3V531M63.87 216.3V531M70.44 216.3V531M77.02 216.3V531M83.59 216.3V531M90.16 216.3V531M96.73 216.3V531M103.31 216.3V531M109.88 216.3V531M116.45 216.3V531M123.02 216.3V531M129.6 216.3V531M136.17 216.3V531M142.74 216.3V531M149.31 216.3V531M155.89 216.3V531M162.46 216.3V531M169.03 216.3V531M175.6 216.3V531M182.17 216.3V531M188.75 216.3V531M195.32 216.3V531M201.89 216.3V531M208.46 216.3V531M215.04 216.3V531M221.61 216.3V531M228.18 216.3V531M234.75 216.3V531M241.33 216.3V531M247.9 216.3V531M254.47 216.3V531M261.04 216.3V531M267.61 216.3V531M274.19 216.3V531M280.76 216.3V531M287.33 216.3V531M293.9 216.3V531M300.48 216.3V531M307.05 216.3V531M313.62 216.3V531M320.19 216.3V531M326.77 216.3V531M333.34 216.3V531M339.91 216.3V531M346.48 216.3V531M353.06 216.3V531M359.63 216.3V531M366.2 216.3V531M372.77 216.3V531M379.34 216.3V531M385.92 216.3V531M392.49 216.3V531M399.06 216.3V531M405.63 216.3V531M412.21 216.3V531M418.78 216.3V531M425.35 216.3V531M431.92 216.3V531M438.5 216.3V531M445.07 216.3V531M451.64 216.3V531M458.21 216.3V531M464.79 216.3V531M471.36 216.3V531M477.93 216.3V531M484.5 216.3V531M491.07 216.3V531M497.65 216.3V531M504.22 216.3V531M510.79 216.3V531M517.36 216.3V531M523.94 216.3V531M530.51 216.3V531M537.08 216.3V531M543.65 216.3V531M550.23 216.3V531M556.8 216.3V531M563.37 216.3V531M569.94 216.3V531M576.51 216.3V531M583.09 216.3V531M589.66 216.3V531M596.23 216.3V531M602.8 216.3V531M609.38 216.3V531M615.95 216.3V531M622.52 216.3V531M629.09 216.3V531M635.67 216.3V531M642.24 216.3V531M648.81 216.3V531M655.38 216.3V531M661.96 216.3V531M668.53 216.3V531M675.1 216.3V531M57.3 216.3H675.1M57.3 222.47H675.1M57.3 228.64H675.1M57.3 234.81H675.1M57.3 240.98H675.1M57.3 247.15H675.1M57.3 253.32H675.1M57.3 259.49H675.1M57.3 265.66H675.1M57.3 271.84H675.1M57.3 278.01H675.1M57.3 284.18H675.1M57.3 290.35H675.1M57.3 296.52H675.1M57.3 302.69H675.1M57.3 308.86H675.1M57.3 315.03H675.1M57.3 321.2H675.1M57.3 327.37H675.1M57.3 333.54H675.1M57.3 339.71H675.1M57.3 345.88H675.1M57.3 352.05H675.1M57.3 358.22H675.1M57.3 364.39H675.1M57.3 370.56H675.1M57.3 376.74H675.1M57.3 382.91H675.1M57.3 389.08H675.1M57.3 395.25H675.1M57.3 401.42H675.1M57.3 407.59H675.1M57.3 413.76H675.1M57.3 419.93H675.1M57.3 426.1H675.1M57.3 432.27H675.1M57.3 438.44H675.1M57.3 444.61H675.1M57.3 450.78H675.1M57.3 456.95H675.1M57.3 463.12H675.1M57.3 469.29H675.1M57.3 475.46H675.1M57.3 481.64H675.1M57.3 487.81H675.1M57.3 493.98H675.1M57.3 500.15H675.1M57.3 506.32H675.1M57.3 512.49H675.1M57.3 518.66H675.1M57.3 524.83H675.1M57.3 531H675.1" stroke="#c6c6c6" stroke-width="0.6" fill="none"/>
<rect x="57.48" y="216.48" width="6.21" height="5.81" fill="#e23fa0"/>
<rect x="64.05" y="216.48" width="6.21" height="5.81" fill="#e23fa0"/>
<rect x="70.62" y="216.48" width="6.21" height="5.81" fill="#e23fa0"/>
<rect x="77.2" y="216.48" width="6.21" height="5.81" fill="#e23fa0"/>
<rect x="83.77" y="216.48" width="6.21" height="5.81" fill="#e23fa0"/>
<rect x="90.34" y="216.48" width="6.21" height="5.81" fill="#e23fa0"/>
<rect x="96.91" y="216.48" width="6.21" height="5.81" fill="#b4282f"/>
<rect x="103.49" y="216.48" width="6.21" height="5.81" fill="#b4282f"/>
<rect x="162.64" y="216.48" width="6.21" height="5.81" fill="#6cb844"/>
<rect x="169.21" y="216.48" width="6.21" height="5.81" fill="#e23fa0"/>
<rect x="175.78" y="216.48" width="6.21" height="5.81" fill="#e23fa0"/>
<rect x="182.35" y="216.48" width="6.21" height="5.81" fill="#e23fa0"/>
<rect x="188.93" y="216.48" width="6.21" height="5.81" fill="#e23fa0"/>
<rect x="195.5" y="216.48" width="6.21" height="5.81" fill="#e23fa0"/>
<rect x="202.07" y="216.48" width="6.21" height="5.81" fill="#b4282f"/>
<rect x="208.64" y="216.48" width="6.21" height="5.81" fill="#b4282f"/>
<rect x="215.22" y="216.48" width="6.21" height="5.81" fill="#b4282f"/>
<rect x="221.79" y="216.48" width="6.21" height="5.81" fill="#b4282f"/>
<rect x="228.36" y="216.48" width="6.21" height="5.81" fill="#b4282f"/>
<rect x="234.93" y="216.48" width="6.21" height="5.81" fill="#b4282f"/>
<rect x="287.51" y="216.48" width="6.21" height="5.81" fill="#e23fa0"/>
<rect x="294.08" y="216.48" width="6.21" height="5.81" fill="#e23fa0"/>
<rect x="300.66" y="216.48" width="6.21" height="5.81" fill="#373d80"/>
<rect x="307.23" y="216.48" width="6.21" height="5.81" fill="#b4282f"/>
<rect x="333.52" y="216.48" width="6.21" height="5.81" fill="#e23fa0"/>
<rect x="340.09" y="216.48" width="6.21" height="5.81" fill="#e23fa0"/>
<rect x="346.66" y="216.48" width="6.21" height="5.81" fill="#e23fa0"/>
<rect x="359.81" y="216.48" width="6.21" height="5.81" fill="#e23fa0"/>
<rect x="366.38" y="216.48" width="6.21" height="5.81" fill="#e23fa0"/>
<rect x="386.1" y="216.48" width="6.21" height="5.81" fill="#b4282f"/>
<rect x="392.67" y="216.48" width="6.21" height="5.81" fill="#b4282f"/>
<rect x="399.24" y="216.48" width="6.21" height="5.81" fill="#b4282f"/>
<rect x="405.81" y="216.48" width="6.21" height="5.81" fill="#e23fa0"/>
<rect x="412.39" y="216.48" width="6.21" height="5.81" fill="#e23fa0"/>
<rect x="418.96" y="216.48" width="6.21" height="5.81" fill="#b4282f"/>
<rect x="425.53" y="216.48" width="6.21" height="5.81" fill="#b4282f"/>
<rect x="451.82" y="216.48" width="6.21" height="5.81" fill="#b4282f"/>
<rect x="484.68" y="216.48" width="6.21" height="5.81" fill="#e23fa0"/>
<rect x="491.25" y="216.48" width="6.21" height="5.81" fill="#b4282f"/>
<rect x="497.83" y="216.48" width="6.21" height="5.81" fill="#b4282f"/>
<rect x="517.54" y="216.48" width="6.21" height="5.81" fill="#e23fa0"/>
<rect x="524.12" y="216.48" width="6.21" height="5.81" fill="#e23fa0"/>
<rect x="537.26" y="216.48" width="6.21" height="5.81" fill="#e23fa0"/>
<rect x="543.83" y="216.48" width="6.21" height="5.81" fill="#e23fa0"/>
<rect x="550.41" y="216.48" width="6.21" height="5.81" fill="#b4282f"/>
<rect x="556.98" y="216.48" width="6.21" height="5.81" fill="#b4282f"/>
<rect x="563.55" y="216.48" width="6.21" height="5.81" fill="#b4282f"/>
<rect x="576.69" y="216.48" width="6.21" height="5.81" fill="#6cb844"/>
<rect x="589.84" y="216.48" width="6.21" height="5.81" fill="#e23fa0"/>
<rect x="596.41" y="216.48" width="6.21" height="5.81" fill="#6cb844"/>
<rect x="602.98" y="216.48" width="6.21" height="5.81" fill="#e23fa0"/>
<rect x="609.56" y="216.48" width="6.21" height="5.81" fill="#6cb844"/>
<rect x="616.13" y="216.48" width="6.21" height="5.81" fill="#e23fa0"/>
<rect x="622.7" y="216.48" width="6.21" height="5.81" fill="#e23fa0"/>
<rect x="629.27" y="216.48" width="6.21" height="5.81" fill="#e23fa0"/>
<rect x="635.85" y="216.48" width="6.21" height="5.81" fill="#373d80"/>
<rect x="648.99" y="216.48" width="6.21" height="5.81" fill="#e23fa0"/>
<rect x="655.56" y="216.48" width="6.21" height="5.81" fill="#e23fa0"/>
<rect x="662.14" y="216.48" width="6.21" height="5.81" fill="#e23fa0"/>
<rect x="668.71" y="216.48" width="6.21" height="5.81" fill="#e23fa0"/>
<rect x="57.48" y="222.65" width="6.21" height="5.81" fill="#4db48b"/>
<rect x="64.05" y="222.65" width="6.21" height="5.81" fill="#4db48b"/>
<rect x="83.77" y="222.65" width="6.21" height="5.81" fill="#6cb844"/>
<rect x="90.34" y="222.65" width="6.21" height="5.81" fill="#6cb844"/>
<rect x="110.06" y="222.65" width="6.21" height="5.81" fill="#6cb844"/>
<rect x="116.63" y="222.65" width="6.21" height="5.81" fill="#6cb844"/>
<rect x="123.2" y="222.65" width="6.21" height="5.81" fill="#6cb844"/>
<rect x="129.78" y="222.65" width="6.21" height="5.81" fill="#6cb844"/>
<rect x="136.35" y="222.65" width="6.21" height="5.81" fill="#6cb844"/>
<rect x="142.92" y="222.65" width="6.21" height="5.81" fill="#6cb844"/>
<rect x="149.49" y="222.65" width="6.21" height="5.81" fill="#6cb844"/>
<rect x="195.5" y="222.65" width="6.21" height="5.81" fill="#6cb844"/>
<rect x="202.07" y="222.65" width="6.21" height="5.81" fill="#6cb844"/>
<rect x="208.64" y="222.65" width="6.21" height="5.81" fill="#b4282f"/>
<rect x="215.22" y="222.65" width="6.21" height="5.81" fill="#b4282f"/>
<rect x="221.79" y="222.65" width="6.21" height="5.81" fill="#6cb844"/>
<rect x="228.36" y="222.65" width="6.21" height="5.81" fill="#6cb844"/>
<rect x="234.93" y="222.65" width="6.21" height="5.81" fill="#6cb844"/>
<rect x="241.51" y="222.65" width="6.21" height="5.81" fill="#6cb844"/>
<rect x="248.08" y="222.65" width="6.21" height="5.81" fill="#6cb844"/>
<rect x="254.65" y="222.65" width="6.21" height="5.81" fill="#6cb844"/>
<rect x="261.22" y="222.65" width="6.21" height="5.81" fill="#6cb844"/>
<rect x="287.51" y="222.65" width="6.21" height="5.81" fill="#6cb844"/>
<rect x="294.08" y="222.65" width="6.21" height="5.81" fill="#6cb844"/>
<rect x="300.66" y="222.65" width="6.21" height="5.81" fill="#6cb844"/>
<rect x="307.23" y="222.65" width="6.21" height="5.81" fill="#6cb844"/>
<rect x="359.81" y="222.65" width="6.21" height="5.81" fill="#6cb844"/>
<rect x="372.95" y="222.65" width="6.21" height="5.81" fill="#6cb844"/>
<rect x="379.52" y="222.65" width="6.21" height="5.81" fill="#6cb844"/>
<rect x="392.67" y="222.65" width="6.21" height="5.81" fill="#6cb844"/>
<rect x="399.24" y="222.65" width="6.21" height="5.81" fill="#6cb844"/>
<rect x="405.81" y="222.65" width="6.21" height="5.81" fill="#e23fa0"/>
<rect x="412.39" y="222.65" width="6.21" height="5.81" fill="#e23fa0"/>
<rect x="418.96" y="222.65" width="6.21" height="5.81" fill="#6cb844"/>
<rect x="425.53" y="222.65" width="6.21" height="5.81" fill="#6cb844"/>
<rect x="432.1" y="222.65" width="6.21" height="5.81" fill="#4db48b"/>
<rect x="438.68" y="222.65" width="6.21" height="5.81" fill="#4db48b"/>
<rect x="445.25" y="222.65" width="6.21" height="5.81" fill="#4db48b"/>
<rect x="471.54" y="222.65" width="6.21" height="5.81" fill="#373d80"/>
<rect x="478.11" y="222.65" width="6.21" height="5.81" fill="#373d80"/>
<rect x="484.68" y="222.65" width="6.21" height="5.81" fill="#e23fa0"/>
<rect x="491.25" y="222.65" width="6.21" height="5.81" fill="#e23fa0"/>
<rect x="497.83" y="222.65" width="6.21" height="5.81" fill="#e23fa0"/>
<rect x="504.4" y="222.65" width="6.21" height="5.81" fill="#b4282f"/>
<rect x="510.97" y="222.65" width="6.21" height="5.81" fill="#b4282f"/>
<rect x="517.54" y="222.65" width="6.21" height="5.81" fill="#6cb844"/>
<rect x="524.12" y="222.65" width="6.21" height="5.81" fill="#6cb844"/>
<rect x="530.69" y="222.65" width="6.21" height="5.81" fill="#373d80"/>
<rect x="556.98" y="222.65" width="6.21" height="5.81" fill="#6cb844"/>
<rect x="570.12" y="222.65" width="6.21" height="5.81" fill="#b4282f"/>
<rect x="576.69" y="222.65" width="6.21" height="5.81" fill="#b4282f"/>
<rect x="583.27" y="222.65" width="6.21" height="5.81" fill="#b4282f"/>
<rect x="589.84" y="222.65" width="6.21" height="5.81" fill="#6cb844"/>
<rect x="596.41" y="222.65" width="6.21" height="5.81" fill="#6cb844"/>
<rect x="602.98" y="222.65" width="6.21" height="5.81" fill="#e23fa0"/>
<rect x="609.56" y="222.65" width="6.21" height="5.81" fill="#6cb844"/>
<rect x="622.7" y="222.65" width="6.21" height="5.81" fill="#373d80"/>
<rect x="629.27" y="222.65" width="6.21" height="5.81" fill="#6cb844"/>
<rect x="642.42" y="222.65" width="6.21" height="5.81" fill="#b4282f"/>
<rect x="655.56" y="222.65" width="6.21" height="5.81" fill="#4db48b"/>
<rect x="662.14" y="222.65" width="6.21" height="5.81" fill="#4db48b"/>
<rect x="83.77" y="228.82" width="6.21" height="5.81" fill="#b4282f"/>
<rect x="90.34" y="228.82" width="6.21" height="5.81" fill="#b4282f"/>
<rect x="110.06" y="228.82" width="6.21" height="5.81" fill="#6cb844"/>
<rect x="149.49" y="228.82" width="6.21" height="5.81" fill="#6cb844"/>
<rect x="195.5" y="228.82" width="6.21" height="5.81" fill="#7373bb"/>
<rect x="228.36" y="228.82" width="6.21" height="5.81" fill="#7373bb"/>
<rect x="234.93" y="228.82" width="6.21" height="5.81" fill="#7373bb"/>
<rect x="248.08" y="228.82" width="6.21" height="5.81" fill="#6cb844"/>
<rect x="287.51" y="228.82" width="6.21" height="5.81" fill="#b4282f"/>
<rect x="294.08" y="228.82" width="6.21" height="5.81" fill="#b4282f"/>
<rect x="333.52" y="228.82" width="6.21" height="5.81" fill="#b4282f"/>
<rect x="340.09" y="228.82" width="6.21" height="5.81" fill="#7373bb"/>
<rect x="346.66" y="228.82" width="6.21" height="5.81" fill="#7373bb"/>
<rect x="353.24" y="228.82" width="6.21" height="5.81" fill="#7373bb"/>
<rect x="379.52" y="228.82" width="6.21" height="5.81" fill="#6cb844"/>
<rect x="438.68" y="228.82" width="6.21" height="5.81" fill="#e23fa0"/>
<rect x="471.54" y="228.82" width="6.21" height="5.81" fill="#373d80"/>
<rect x="478.11" y="228.82" width="6.21" height="5.81" fill="#373d80"/>
<rect x="484.68" y="228.82" width="6.21" height="5.81" fill="#6cb844"/>
<rect x="491.25" y="228.82" width="6.21" height="5.81" fill="#6cb844"/>
<rect x="497.83" y="228.82" width="6.21" height="5.81" fill="#6cb844"/>
<rect x="504.4" y="228.82" width="6.21" height="5.81" fill="#e23fa0"/>
<rect x="517.54" y="228.82" width="6.21" height="5.81" fill="#e23fa0"/>
<rect x="524.12" y="228.82" width="6.21" height="5.81" fill="#e23fa0"/>
<rect x="530.69" y="228.82" width="6.21" height="5.81" fill="#6cb844"/>
<rect x="570.12" y="228.82" width="6.21" height="5.81" fill="#b4282f"/>
<rect x="576.69" y="228.82" width="6.21" height="5.81" fill="#b4282f"/>
<rect x="583.27" y="228.82" width="6.21" height="5.81" fill="#b4282f"/>
<rect x="596.41" y="228.82" width="6.21" height="5.81" fill="#6cb844"/>
<rect x="602.98" y="228.82" width="6.21" height="5.81" fill="#6cb844"/>
<rect x="629.27" y="228.82" width="6.21" height="5.81" fill="#6cb844"/>
<rect x="655.56" y="228.82" width="6.21" height="5.81" fill="#b4282f"/>
<rect x="662.14" y="228.82" width="6.21" height="5.81" fill="#b4282f"/>
<rect x="96.91" y="234.99" width="6.21" height="5.81" fill="#6cb844"/>
<rect x="116.63" y="234.99" width="6.21" height="5.81" fill="#6cb844"/>
<rect x="149.49" y="234.99" width="6.21" height="5.81" fill="#6cb844"/>
<rect x="208.64" y="234.99" width="6.21" height="5.81" fill="#6cb844"/>
<rect x="254.65" y="234.99" width="6.21" height="5.81" fill="#6cb844"/>
<rect x="340.09" y="234.99" width="6.21" height="5.81" fill="#6cb844"/>
<rect x="379.52" y="234.99" width="6.21" height="5.81" fill="#6cb844"/>
<rect x="418.96" y="234.99" width="6.21" height="5.81" fill="#6cb844"/>
<rect x="425.53" y="234.99" width="6.21" height="5.81" fill="#6cb844"/>
<rect x="491.25" y="234.99" width="6.21" height="5.81" fill="#6cb844"/>
<rect x="510.97" y="234.99" width="6.21" height="5.81" fill="#6cb844"/>
<rect x="517.54" y="234.99" width="6.21" height="5.81" fill="#6cb844"/>
<rect x="583.27" y="234.99" width="6.21" height="5.81" fill="#6cb844"/>
<rect x="57.48" y="241.16" width="6.21" height="5.81" fill="#6cb844"/>
<rect x="64.05" y="241.16" width="6.21" height="5.81" fill="#6cb844"/>
<rect x="136.35" y="241.16" width="6.21" height="5.81" fill="#6cb844"/>
<rect x="386.1" y="241.16" width="6.21" height="5.81" fill="#6cb844"/>
<rect x="405.81" y="241.16" width="6.21" height="5.81" fill="#6cb844"/>
<rect x="418.96" y="241.16" width="6.21" height="5.81" fill="#6cb844"/>
<rect x="425.53" y="241.16" width="6.21" height="5.81" fill="#6cb844"/>
<rect x="484.68" y="241.16" width="6.21" height="5.81" fill="#6cb844"/>
<rect x="491.25" y="241.16" width="6.21" height="5.81" fill="#6cb844"/>
<rect x="497.83" y="241.16" width="6.21" height="5.81" fill="#6cb844"/>
<rect x="504.4" y="241.16" width="6.21" height="5.81" fill="#6cb844"/>
<rect x="524.12" y="241.16" width="6.21" height="5.81" fill="#6cb844"/>
<rect x="563.55" y="241.16" width="6.21" height="5.81" fill="#6cb844"/>
<rect x="570.12" y="241.16" width="6.21" height="5.81" fill="#6cb844"/>
<rect x="576.69" y="241.16" width="6.21" height="5.81" fill="#6cb844"/>
<rect x="583.27" y="241.16" width="6.21" height="5.81" fill="#6cb844"/>
<rect x="596.41" y="241.16" width="6.21" height="5.81" fill="#6cb844"/>
<rect x="602.98" y="241.16" width="6.21" height="5.81" fill="#6cb844"/>
<rect x="616.13" y="241.16" width="6.21" height="5.81" fill="#6cb844"/>
<rect x="622.7" y="241.16" width="6.21" height="5.81" fill="#6cb844"/>
<rect x="57.48" y="247.33" width="6.21" height="5.81" fill="#b4282f"/>
<rect x="64.05" y="247.33" width="6.21" height="5.81" fill="#b4282f"/>
<rect x="116.63" y="247.33" width="6.21" height="5.81" fill="#373d80"/>
<rect x="175.78" y="247.33" width="6.21" height="5.81" fill="#373d80"/>
<rect x="195.5" y="247.33" width="6.21" height="5.81" fill="#373d80"/>
<rect x="287.51" y="247.33" width="6.21" height="5.81" fill="#b4282f"/>
<rect x="294.08" y="247.33" width="6.21" height="5.81" fill="#b4282f"/>
<rect x="333.52" y="247.33" width="6.21" height="5.81" fill="#373d80"/>
<rect x="418.96" y="247.33" width="6.21" height="5.81" fill="#b4282f"/>
<rect x="425.53" y="247.33" width="6.21" height="5.81" fill="#b4282f"/>
<rect x="530.69" y="247.33" width="6.21" height="5.81" fill="#7373bb"/>
<rect x="550.41" y="247.33" width="6.21" height="5.81" fill="#6cb844"/>
<rect x="556.98" y="247.33" width="6.21" height="5.81" fill="#6cb844"/>
<rect x="616.13" y="247.33" width="6.21" height="5.81" fill="#7373bb"/>
<rect x="622.7" y="247.33" width="6.21" height="5.81" fill="#7373bb"/>
<rect x="655.56" y="247.33" width="6.21" height="5.81" fill="#6cb844"/>
<rect x="662.14" y="247.33" width="6.21" height="5.81" fill="#6cb844"/>
<rect x="70.62" y="253.5" width="6.21" height="5.81" fill="#6cb844"/>
<rect x="77.2" y="253.5" width="6.21" height="5.81" fill="#6cb844"/>
<rect x="96.91" y="253.5" width="6.21" height="5.81" fill="#6cb844"/>
<rect x="103.49" y="253.5" width="6.21" height="5.81" fill="#6cb844"/>
<rect x="208.64" y="253.5" width="6.21" height="5.81" fill="#6cb844"/>
<rect x="320.37" y="253.5" width="6.21" height="5.81" fill="#6cb844"/>
<rect x="326.95" y="253.5" width="6.21" height="5.81" fill="#6cb844"/>
<rect x="333.52" y="253.5" width="6.21" height="5.81" fill="#6cb844"/>
<rect x="340.09" y="253.5" width="6.21" height="5.81" fill="#6cb844"/>
<rect x="346.66" y="253.5" width="6.21" height="5.81" fill="#6cb844"/>
<rect x="353.24" y="253.5" width="6.21" height="5.81" fill="#6cb844"/>
<rect x="418.96" y="253.5" width="6.21" height="5.81" fill="#6cb844"/>
<rect x="471.54" y="253.5" width="6.21" height="5.81" fill="#6cb844"/>
<rect x="478.11" y="253.5" width="6.21" height="5.81" fill="#6cb844"/>
<rect x="550.41" y="253.5" width="6.21" height="5.81" fill="#6cb844"/>
<rect x="556.98" y="253.5" width="6.21" height="5.81" fill="#6cb844"/>
<rect x="563.55" y="253.5" width="6.21" height="5.81" fill="#6cb844"/>
<rect x="655.56" y="253.5" width="6.21" height="5.81" fill="#6cb844"/>
<rect x="64.05" y="259.67" width="6.21" height="5.81" fill="#6cb844"/>
<rect x="129.78" y="259.67" width="6.21" height="5.81" fill="#6cb844"/>
<rect x="261.22" y="259.67" width="6.21" height="5.81" fill="#6cb844"/>
<rect x="418.96" y="259.67" width="6.21" height="5.81" fill="#6cb844"/>
<rect x="432.1" y="259.67" width="6.21" height="5.81" fill="#6cb844"/>
<rect x="491.25" y="259.67" width="6.21" height="5.81" fill="#6cb844"/>
<rect x="609.56" y="259.67" width="6.21" height="5.81" fill="#6cb844"/>
<rect x="616.13" y="259.67" width="6.21" height="5.81" fill="#6cb844"/>
<rect x="662.14" y="259.67" width="6.21" height="5.81" fill="#6cb844"/>
<rect x="175.78" y="265.84" width="6.21" height="5.81" fill="#e23fa0"/>
<rect x="287.51" y="265.84" width="6.21" height="5.81" fill="#e23fa0"/>
<rect x="294.08" y="265.84" width="6.21" height="5.81" fill="#e23fa0"/>
<rect x="300.66" y="265.84" width="6.21" height="5.81" fill="#e23fa0"/>
<rect x="307.23" y="265.84" width="6.21" height="5.81" fill="#e23fa0"/>
<rect x="333.52" y="265.84" width="6.21" height="5.81" fill="#e23fa0"/>
<rect x="340.09" y="265.84" width="6.21" height="5.81" fill="#e23fa0"/>
<rect x="346.66" y="265.84" width="6.21" height="5.81" fill="#e23fa0"/>
<rect x="353.24" y="265.84" width="6.21" height="5.81" fill="#e23fa0"/>
<rect x="386.1" y="265.84" width="6.21" height="5.81" fill="#b4282f"/>
<rect x="425.53" y="265.84" width="6.21" height="5.81" fill="#b4282f"/>
<rect x="504.4" y="265.84" width="6.21" height="5.81" fill="#b4282f"/>
<rect x="510.97" y="265.84" width="6.21" height="5.81" fill="#b4282f"/>
<rect x="517.54" y="265.84" width="6.21" height="5.81" fill="#e23fa0"/>
<rect x="524.12" y="265.84" width="6.21" height="5.81" fill="#e23fa0"/>
<rect x="550.41" y="265.84" width="6.21" height="5.81" fill="#b4282f"/>
<rect x="556.98" y="265.84" width="6.21" height="5.81" fill="#b4282f"/>
<rect x="563.55" y="265.84" width="6.21" height="5.81" fill="#e23fa0"/>
<rect x="64.05" y="272.02" width="6.21" height="5.81" fill="#6cb844"/>
<rect x="123.2" y="272.02" width="6.21" height="5.81" fill="#6cb844"/>
<rect x="129.78" y="272.02" width="6.21" height="5.81" fill="#6cb844"/>
<rect x="136.35" y="272.02" width="6.21" height="5.81" fill="#6cb844"/>
<rect x="241.51" y="272.02" width="6.21" height="5.81" fill="#6cb844"/>
<rect x="248.08" y="272.02" width="6.21" height="5.81" fill="#6cb844"/>
<rect x="359.81" y="272.02" width="6.21" height="5.81" fill="#6cb844"/>
<rect x="471.54" y="272.02" width="6.21" height="5.81" fill="#6cb844"/>
<rect x="478.11" y="272.02" width="6.21" height="5.81" fill="#6cb844"/>
<rect x="517.54" y="272.02" width="6.21" height="5.81" fill="#6cb844"/>
<rect x="524.12" y="272.02" width="6.21" height="5.81" fill="#6cb844"/>
<rect x="570.12" y="272.02" width="6.21" height="5.81" fill="#6cb844"/>
<rect x="576.69" y="272.02" width="6.21" height="5.81" fill="#6cb844"/>
<rect x="583.27" y="272.02" width="6.21" height="5.81" fill="#6cb844"/>
<rect x="635.85" y="272.02" width="6.21" height="5.81" fill="#6cb844"/>
<rect x="57.48" y="278.19" width="6.21" height="5.81" fill="#6cb844"/>
<rect x="64.05" y="278.19" width="6.21" height="5.81" fill="#6cb844"/>
<rect x="169.21" y="278.19" width="6.21" height="5.81" fill="#6cb844"/>
<rect x="228.36" y="278.19" width="6.21" height="5.81" fill="#6cb844"/>
<rect x="234.93" y="278.19" width="6.21" height="5.81" fill="#6cb844"/>
<rect x="320.37" y="278.19" width="6.21" height="5.81" fill="#6cb844"/>
<rect x="326.95" y="278.19" width="6.21" height="5.81" fill="#6cb844"/>
<rect x="333.52" y="278.19" width="6.21" height="5.81" fill="#6cb844"/>
<rect x="340.09" y="278.19" width="6.21" height="5.81" fill="#6cb844"/>
<rect x="346.66" y="278.19" width="6.21" height="5.81" fill="#6cb844"/>
<rect x="353.24" y="278.19" width="6.21" height="5.81" fill="#6cb844"/>
<rect x="359.81" y="278.19" width="6.21" height="5.81" fill="#6cb844"/>
<rect x="366.38" y="278.19" width="6.21" height="5.81" fill="#6cb844"/>
<rect x="392.67" y="278.19" width="6.21" height="5.81" fill="#6cb844"/>
<rect x="399.24" y="278.19" width="6.21" height="5.81" fill="#6cb844"/>
<rect x="405.81" y="278.19" width="6.21" height="5.81" fill="#6cb844"/>
<rect x="412.39" y="278.19" width="6.21" height="5.81" fill="#6cb844"/>
<rect x="208.64" y="284.36" width="6.21" height="5.81" fill="#6cb844"/>
<rect x="333.52" y="284.36" width="6.21" height="5.81" fill="#6cb844"/>
<rect x="386.1" y="284.36" width="6.21" height="5.81" fill="#e23fa0"/>
<rect x="484.68" y="284.36" width="6.21" height="5.81" fill="#6cb844"/>
<rect x="491.25" y="284.36" width="6.21" height="5.81" fill="#6cb844"/>
<rect x="497.83" y="284.36" width="6.21" height="5.81" fill="#6cb844"/>
<rect x="530.69" y="284.36" width="6.21" height="5.81" fill="#6cb844"/>
<rect x="543.83" y="284.36" width="6.21" height="5.81" fill="#b4282f"/>
<rect x="629.27" y="284.36" width="6.21" height="5.81" fill="#e23fa0"/>
<rect x="668.71" y="284.36" width="6.21" height="5.81" fill="#b4282f"/>
<rect x="188.93" y="290.53" width="6.21" height="5.81" fill="#6cb844"/>
<rect x="208.64" y="290.53" width="6.21" height="5.81" fill="#6cb844"/>
<rect x="234.93" y="290.53" width="6.21" height="5.81" fill="#6cb844"/>
<rect x="261.22" y="290.53" width="6.21" height="5.81" fill="#6cb844"/>
<rect x="274.37" y="290.53" width="6.21" height="5.81" fill="#6cb844"/>
<rect x="392.67" y="290.53" width="6.21" height="5.81" fill="#6cb844"/>
<rect x="399.24" y="290.53" width="6.21" height="5.81" fill="#6cb844"/>
<rect x="589.84" y="290.53" width="6.21" height="5.81" fill="#6cb844"/>
<rect x="596.41" y="290.53" width="6.21" height="5.81" fill="#6cb844"/>
<rect x="602.98" y="290.53" width="6.21" height="5.81" fill="#6cb844"/>
<rect x="609.56" y="290.53" width="6.21" height="5.81" fill="#6cb844"/>
<rect x="655.56" y="290.53" width="6.21" height="5.81" fill="#6cb844"/>
<rect x="662.14" y="290.53" width="6.21" height="5.81" fill="#6cb844"/>
<rect x="149.49" y="296.7" width="6.21" height="5.81" fill="#6cb844"/>
<rect x="188.93" y="296.7" width="6.21" height="5.81" fill="#6cb844"/>
<rect x="221.79" y="296.7" width="6.21" height="5.81" fill="#6cb844"/>
<rect x="379.52" y="296.7" width="6.21" height="5.81" fill="#6cb844"/>
<rect x="418.96" y="296.7" width="6.21" height="5.81" fill="#6cb844"/>
<rect x="484.68" y="296.7" width="6.21" height="5.81" fill="#6cb844"/>
<rect x="491.25" y="296.7" width="6.21" height="5.81" fill="#6cb844"/>
<rect x="497.83" y="296.7" width="6.21" height="5.81" fill="#6cb844"/>
<rect x="655.56" y="296.7" width="6.21" height="5.81" fill="#6cb844"/>
<rect x="96.91" y="302.87" width="6.21" height="5.81" fill="#6cb844"/>
<rect x="103.49" y="302.87" width="6.21" height="5.81" fill="#6cb844"/>
<rect x="182.35" y="302.87" width="6.21" height="5.81" fill="#6cb844"/>
<rect x="188.93" y="302.87" width="6.21" height="5.81" fill="#6cb844"/>
<rect x="208.64" y="302.87" width="6.21" height="5.81" fill="#6cb844"/>
<rect x="353.24" y="302.87" width="6.21" height="5.81" fill="#6cb844"/>
<rect x="425.53" y="302.87" width="6.21" height="5.81" fill="#6cb844"/>
<rect x="471.54" y="302.87" width="6.21" height="5.81" fill="#e23fa0"/>
<rect x="478.11" y="302.87" width="6.21" height="5.81" fill="#e23fa0"/>
<rect x="556.98" y="302.87" width="6.21" height="5.81" fill="#6cb844"/>
<rect x="563.55" y="302.87" width="6.21" height="5.81" fill="#6cb844"/>
<rect x="96.91" y="309.04" width="6.21" height="5.81" fill="#6cb844"/>
<rect x="103.49" y="309.04" width="6.21" height="5.81" fill="#6cb844"/>
<rect x="195.5" y="309.04" width="6.21" height="5.81" fill="#6cb844"/>
<rect x="241.51" y="309.04" width="6.21" height="5.81" fill="#6cb844"/>
<rect x="386.1" y="309.04" width="6.21" height="5.81" fill="#6cb844"/>
<rect x="530.69" y="309.04" width="6.21" height="5.81" fill="#6cb844"/>
<rect x="570.12" y="309.04" width="6.21" height="5.81" fill="#6cb844"/>
<rect x="668.71" y="309.04" width="6.21" height="5.81" fill="#6cb844"/>
<rect x="57.48" y="315.21" width="6.21" height="5.81" fill="#6cb844"/>
<rect x="379.52" y="315.21" width="6.21" height="5.81" fill="#6cb844"/>
<rect x="418.96" y="315.21" width="6.21" height="5.81" fill="#6cb844"/>
<rect x="432.1" y="315.21" width="6.21" height="5.81" fill="#6cb844"/>
<rect x="583.27" y="315.21" width="6.21" height="5.81" fill="#6cb844"/>
<rect x="655.56" y="315.21" width="6.21" height="5.81" fill="#6cb844"/>
<rect x="142.92" y="321.38" width="6.21" height="5.81" fill="#6cb844"/>
<rect x="149.49" y="321.38" width="6.21" height="5.81" fill="#6cb844"/>
<rect x="182.35" y="321.38" width="6.21" height="5.81" fill="#6cb844"/>
<rect x="188.93" y="321.38" width="6.21" height="5.81" fill="#e23fa0"/>
<rect x="228.36" y="321.38" width="6.21" height="5.81" fill="#373d80"/>
<rect x="234.93" y="321.38" width="6.21" height="5.81" fill="#373d80"/>
<rect x="366.38" y="321.38" width="6.21" height="5.81" fill="#6cb844"/>
<rect x="622.7" y="321.38" width="6.21" height="5.81" fill="#6cb844"/>
<rect x="668.71" y="321.38" width="6.21" height="5.81" fill="#6cb844"/>
<rect x="294.08" y="327.55" width="6.21" height="5.81" fill="#b4282f"/>
<rect x="340.09" y="327.55" width="6.21" height="5.81" fill="#6cb844"/>
<rect x="346.66" y="327.55" width="6.21" height="5.81" fill="#6cb844"/>
<rect x="353.24" y="327.55" width="6.21" height="5.81" fill="#6cb844"/>
<rect x="484.68" y="327.55" width="6.21" height="5.81" fill="#6cb844"/>
<rect x="491.25" y="327.55" width="6.21" height="5.81" fill="#6cb844"/>
<rect x="497.83" y="327.55" width="6.21" height="5.81" fill="#6cb844"/>
<rect x="629.27" y="327.55" width="6.21" height="5.81" fill="#6cb844"/>
<rect x="655.56" y="327.55" width="6.21" height="5.81" fill="#6cb844"/>
<rect x="662.14" y="327.55" width="6.21" height="5.81" fill="#6cb844"/>
<rect x="668.71" y="327.55" width="6.21" height="5.81" fill="#6cb844"/>
<rect x="254.65" y="333.72" width="6.21" height="5.81" fill="#6cb844"/>
<rect x="261.22" y="333.72" width="6.21" height="5.81" fill="#6cb844"/>
<rect x="294.08" y="333.72" width="6.21" height="5.81" fill="#6cb844"/>
<rect x="340.09" y="333.72" width="6.21" height="5.81" fill="#6cb844"/>
<rect x="346.66" y="333.72" width="6.21" height="5.81" fill="#6cb844"/>
<rect x="353.24" y="333.72" width="6.21" height="5.81" fill="#6cb844"/>
<rect x="386.1" y="333.72" width="6.21" height="5.81" fill="#6cb844"/>
<rect x="497.83" y="333.72" width="6.21" height="5.81" fill="#6cb844"/>
<rect x="662.14" y="333.72" width="6.21" height="5.81" fill="#6cb844"/>
<rect x="64.05" y="339.89" width="6.21" height="5.81" fill="#6cb844"/>
<rect x="162.64" y="339.89" width="6.21" height="5.81" fill="#6cb844"/>
<rect x="294.08" y="339.89" width="6.21" height="5.81" fill="#6cb844"/>
<rect x="366.38" y="339.89" width="6.21" height="5.81" fill="#6cb844"/>
<rect x="517.54" y="339.89" width="6.21" height="5.81" fill="#6cb844"/>
<rect x="537.26" y="339.89" width="6.21" height="5.81" fill="#6cb844"/>
<rect x="543.83" y="339.89" width="6.21" height="5.81" fill="#6cb844"/>
<rect x="149.49" y="346.06" width="6.21" height="5.81" fill="#6cb844"/>
<rect x="267.79" y="346.06" width="6.21" height="5.81" fill="#6cb844"/>
<rect x="418.96" y="346.06" width="6.21" height="5.81" fill="#6cb844"/>
<rect x="537.26" y="346.06" width="6.21" height="5.81" fill="#6cb844"/>
<rect x="576.69" y="346.06" width="6.21" height="5.81" fill="#6cb844"/>
<rect x="583.27" y="346.06" width="6.21" height="5.81" fill="#6cb844"/>
<rect x="629.27" y="346.06" width="6.21" height="5.81" fill="#6cb844"/>
<rect x="221.79" y="352.23" width="6.21" height="5.81" fill="#6cb844"/>
<rect x="254.65" y="352.23" width="6.21" height="5.81" fill="#6cb844"/>
<rect x="261.22" y="352.23" width="6.21" height="5.81" fill="#6cb844"/>
<rect x="333.52" y="352.23" width="6.21" height="5.81" fill="#6cb844"/>
<rect x="359.81" y="352.23" width="6.21" height="5.81" fill="#6cb844"/>
<rect x="366.38" y="352.23" width="6.21" height="5.81" fill="#6cb844"/>
<rect x="589.84" y="352.23" width="6.21" height="5.81" fill="#6cb844"/>
<rect x="596.41" y="352.23" width="6.21" height="5.81" fill="#6cb844"/>
<rect x="602.98" y="352.23" width="6.21" height="5.81" fill="#6cb844"/>
<rect x="609.56" y="352.23" width="6.21" height="5.81" fill="#6cb844"/>
<rect x="655.56" y="352.23" width="6.21" height="5.81" fill="#6cb844"/>
<rect x="662.14" y="352.23" width="6.21" height="5.81" fill="#6cb844"/>
<rect x="77.2" y="358.4" width="6.21" height="5.81" fill="#6cb844"/>
<rect x="366.38" y="358.4" width="6.21" height="5.81" fill="#6cb844"/>
<rect x="379.52" y="358.4" width="6.21" height="5.81" fill="#6cb844"/>
<rect x="596.41" y="358.4" width="6.21" height="5.81" fill="#6cb844"/>
<rect x="602.98" y="358.4" width="6.21" height="5.81" fill="#6cb844"/>
<rect x="616.13" y="358.4" width="6.21" height="5.81" fill="#6cb844"/>
<rect x="622.7" y="358.4" width="6.21" height="5.81" fill="#6cb844"/>
<rect x="208.64" y="364.57" width="6.21" height="5.81" fill="#b4282f"/>
<rect x="215.22" y="364.57" width="6.21" height="5.81" fill="#e23fa0"/>
<rect x="261.22" y="364.57" width="6.21" height="5.81" fill="#e23fa0"/>
<rect x="510.97" y="364.57" width="6.21" height="5.81" fill="#e23fa0"/>
<rect x="556.98" y="364.57" width="6.21" height="5.81" fill="#6cb844"/>
<rect x="609.56" y="364.57" width="6.21" height="5.81" fill="#b4282f"/>
<rect x="123.2" y="370.74" width="6.21" height="5.81" fill="#6cb844"/>
<rect x="129.78" y="370.74" width="6.21" height="5.81" fill="#6cb844"/>
<rect x="484.68" y="370.74" width="6.21" height="5.81" fill="#6cb844"/>
<rect x="537.26" y="370.74" width="6.21" height="5.81" fill="#e23fa0"/>
<rect x="543.83" y="370.74" width="6.21" height="5.81" fill="#e23fa0"/>
<rect x="635.85" y="370.74" width="6.21" height="5.81" fill="#6cb844"/>
<rect x="642.42" y="370.74" width="6.21" height="5.81" fill="#b4282f"/>
<rect x="648.99" y="370.74" width="6.21" height="5.81" fill="#b4282f"/>
<rect x="228.36" y="376.92" width="6.21" height="5.81" fill="#6cb844"/>
<rect x="234.93" y="376.92" width="6.21" height="5.81" fill="#6cb844"/>
<rect x="333.52" y="376.92" width="6.21" height="5.81" fill="#6cb844"/>
<rect x="353.24" y="376.92" width="6.21" height="5.81" fill="#6cb844"/>
<rect x="432.1" y="376.92" width="6.21" height="5.81" fill="#6cb844"/>
<rect x="438.68" y="376.92" width="6.21" height="5.81" fill="#6cb844"/>
<rect x="445.25" y="376.92" width="6.21" height="5.81" fill="#6cb844"/>
<rect x="464.97" y="376.92" width="6.21" height="5.81" fill="#6cb844"/>
<rect x="550.41" y="376.92" width="6.21" height="5.81" fill="#6cb844"/>
<rect x="208.64" y="383.09" width="6.21" height="5.81" fill="#373d80"/>
<rect x="359.81" y="383.09" width="6.21" height="5.81" fill="#b4282f"/>
<rect x="366.38" y="383.09" width="6.21" height="5.81" fill="#b4282f"/>
<rect x="412.39" y="383.09" width="6.21" height="5.81" fill="#6cb844"/>
<rect x="418.96" y="383.09" width="6.21" height="5.81" fill="#6cb844"/>
<rect x="425.53" y="383.09" width="6.21" height="5.81" fill="#6cb844"/>
<rect x="517.54" y="383.09" width="6.21" height="5.81" fill="#6cb844"/>
<rect x="524.12" y="383.09" width="6.21" height="5.81" fill="#6cb844"/>
<rect x="123.2" y="389.26" width="6.21" height="5.81" fill="#6cb844"/>
<rect x="129.78" y="389.26" width="6.21" height="5.81" fill="#6cb844"/>
<rect x="372.95" y="389.26" width="6.21" height="5.81" fill="#6cb844"/>
<rect x="379.52" y="389.26" width="6.21" height="5.81" fill="#6cb844"/>
<rect x="556.98" y="389.26" width="6.21" height="5.81" fill="#6cb844"/>
<rect x="629.27" y="389.26" width="6.21" height="5.81" fill="#6cb844"/>
<rect x="340.09" y="395.43" width="6.21" height="5.81" fill="#6cb844"/>
<rect x="418.96" y="395.43" width="6.21" height="5.81" fill="#6cb844"/>
<rect x="451.82" y="395.43" width="6.21" height="5.81" fill="#6cb844"/>
<rect x="458.39" y="395.43" width="6.21" height="5.81" fill="#6cb844"/>
<rect x="464.97" y="395.43" width="6.21" height="5.81" fill="#6cb844"/>
<rect x="662.14" y="395.43" width="6.21" height="5.81" fill="#6cb844"/>
<rect x="195.5" y="401.6" width="6.21" height="5.81" fill="#e23fa0"/>
<rect x="451.82" y="401.6" width="6.21" height="5.81" fill="#6cb844"/>
<rect x="589.84" y="401.6" width="6.21" height="5.81" fill="#b4282f"/>
<rect x="596.41" y="401.6" width="6.21" height="5.81" fill="#b4282f"/>
<rect x="602.98" y="401.6" width="6.21" height="5.81" fill="#b4282f"/>
<rect x="609.56" y="401.6" width="6.21" height="5.81" fill="#b4282f"/>
<rect x="655.56" y="401.6" width="6.21" height="5.81" fill="#e23fa0"/>
<rect x="57.48" y="407.77" width="6.21" height="5.81" fill="#6cb844"/>
<rect x="359.81" y="407.77" width="6.21" height="5.81" fill="#6cb844"/>
<rect x="537.26" y="407.77" width="6.21" height="5.81" fill="#6cb844"/>
<rect x="543.83" y="407.77" width="6.21" height="5.81" fill="#6cb844"/>
<rect x="556.98" y="407.77" width="6.21" height="5.81" fill="#6cb844"/>
<rect x="83.77" y="413.94" width="6.21" height="5.81" fill="#b4282f"/>
<rect x="90.34" y="413.94" width="6.21" height="5.81" fill="#b4282f"/>
<rect x="110.06" y="413.94" width="6.21" height="5.81" fill="#b4282f"/>
<rect x="116.63" y="413.94" width="6.21" height="5.81" fill="#b4282f"/>
<rect x="287.51" y="413.94" width="6.21" height="5.81" fill="#b4282f"/>
<rect x="294.08" y="413.94" width="6.21" height="5.81" fill="#b4282f"/>
<rect x="668.71" y="413.94" width="6.21" height="5.81" fill="#b4282f"/>
<rect x="136.35" y="420.11" width="6.21" height="5.81" fill="#e23fa0"/>
<rect x="195.5" y="420.11" width="6.21" height="5.81" fill="#6cb844"/>
<rect x="635.85" y="420.11" width="6.21" height="5.81" fill="#e23fa0"/>
<rect x="648.99" y="420.11" width="6.21" height="5.81" fill="#e23fa0"/>
<rect x="261.22" y="426.28" width="6.21" height="5.81" fill="#6cb844"/>
<rect x="287.51" y="426.28" width="6.21" height="5.81" fill="#6cb844"/>
<rect x="294.08" y="426.28" width="6.21" height="5.81" fill="#6cb844"/>
<rect x="300.66" y="426.28" width="6.21" height="5.81" fill="#6cb844"/>
<rect x="491.25" y="426.28" width="6.21" height="5.81" fill="#6cb844"/>
<rect x="497.83" y="426.28" width="6.21" height="5.81" fill="#6cb844"/>
<rect x="162.64" y="432.45" width="6.21" height="5.81" fill="#6cb844"/>
<rect x="386.1" y="432.45" width="6.21" height="5.81" fill="#e23fa0"/>
<rect x="491.25" y="432.45" width="6.21" height="5.81" fill="#6cb844"/>
<rect x="497.83" y="432.45" width="6.21" height="5.81" fill="#6cb844"/>
<rect x="629.27" y="432.45" width="6.21" height="5.81" fill="#e23fa0"/>
<rect x="103.49" y="438.62" width="6.21" height="5.81" fill="#373d80"/>
<rect x="438.68" y="438.62" width="6.21" height="5.81" fill="#b4282f"/>
<rect x="570.12" y="438.62" width="6.21" height="5.81" fill="#6cb844"/>
<rect x="668.71" y="438.62" width="6.21" height="5.81" fill="#b4282f"/>
<rect x="379.52" y="444.79" width="6.21" height="5.81" fill="#6cb844"/>
<rect x="418.96" y="444.79" width="6.21" height="5.81" fill="#6cb844"/>
<rect x="629.27" y="444.79" width="6.21" height="5.81" fill="#6cb844"/>
<rect x="83.77" y="450.96" width="6.21" height="5.81" fill="#6cb844"/>
<rect x="136.35" y="450.96" width="6.21" height="5.81" fill="#6cb844"/>
<rect x="300.66" y="450.96" width="6.21" height="5.81" fill="#6cb844"/>
<rect x="307.23" y="450.96" width="6.21" height="5.81" fill="#6cb844"/>
<rect x="208.64" y="457.13" width="6.21" height="5.81" fill="#b4282f"/>
<rect x="215.22" y="457.13" width="6.21" height="5.81" fill="#b4282f"/>
<rect x="392.67" y="457.13" width="6.21" height="5.81" fill="#e23fa0"/>
<rect x="399.24" y="457.13" width="6.21" height="5.81" fill="#e23fa0"/>
<rect x="405.81" y="457.13" width="6.21" height="5.81" fill="#b4282f"/>
<rect x="103.49" y="463.3" width="6.21" height="5.81" fill="#4db48b"/>
<rect x="497.83" y="463.3" width="6.21" height="5.81" fill="#6cb844"/>
<rect x="648.99" y="463.3" width="6.21" height="5.81" fill="#6cb844"/>
<rect x="261.22" y="469.47" width="6.21" height="5.81" fill="#e23fa0"/>
<rect x="307.23" y="469.47" width="6.21" height="5.81" fill="#373d80"/>
<rect x="616.13" y="469.47" width="6.21" height="5.81" fill="#373d80"/>
<rect x="622.7" y="469.47" width="6.21" height="5.81" fill="#373d80"/>
<rect x="241.51" y="475.64" width="6.21" height="5.81" fill="#6cb844"/>
<rect x="379.52" y="475.64" width="6.21" height="5.81" fill="#6cb844"/>
<rect x="418.96" y="475.64" width="6.21" height="5.81" fill="#6cb844"/>
<rect x="64.05" y="481.82" width="6.21" height="5.81" fill="#b4282f"/>
<rect x="156.07" y="481.82" width="6.21" height="5.81" fill="#b4282f"/>
<rect x="484.68" y="481.82" width="6.21" height="5.81" fill="#e23fa0"/>
<rect x="491.25" y="481.82" width="6.21" height="5.81" fill="#e23fa0"/>
<rect x="497.83" y="481.82" width="6.21" height="5.81" fill="#e23fa0"/>
<rect x="418.96" y="487.99" width="6.21" height="5.81" fill="#b4282f"/>
<rect x="451.82" y="487.99" width="6.21" height="5.81" fill="#b4282f"/>
<rect x="484.68" y="487.99" width="6.21" height="5.81" fill="#6cb844"/>
<rect x="530.69" y="494.16" width="6.21" height="5.81" fill="#6cb844"/>
<rect x="583.27" y="494.16" width="6.21" height="5.81" fill="#6cb844"/>
<rect x="596.41" y="494.16" width="6.21" height="5.81" fill="#6cb844"/>
<rect x="261.22" y="500.33" width="6.21" height="5.81" fill="#b4282f"/>
<rect x="372.95" y="500.33" width="6.21" height="5.81" fill="#6cb844"/>
<rect x="379.52" y="500.33" width="6.21" height="5.81" fill="#6cb844"/>
<rect x="261.22" y="506.5" width="6.21" height="5.81" fill="#e23fa0"/>
<rect x="622.7" y="506.5" width="6.21" height="5.81" fill="#e23fa0"/>
<rect x="208.64" y="512.67" width="6.21" height="5.81" fill="#6cb844"/>
<rect x="215.22" y="512.67" width="6.21" height="5.81" fill="#6cb844"/>
<rect x="635.85" y="512.67" width="6.21" height="5.81" fill="#e23fa0"/>
<rect x="123.2" y="518.84" width="6.21" height="5.81" fill="#6cb844"/>
<rect x="129.78" y="518.84" width="6.21" height="5.81" fill="#6cb844"/>
<rect x="136.35" y="518.84" width="6.21" height="5.81" fill="#6cb844"/>
<rect x="208.64" y="518.84" width="6.21" height="5.81" fill="#b4282f"/>
<rect x="215.22" y="518.84" width="6.21" height="5.81" fill="#b4282f"/>
<rect x="359.81" y="525.01" width="6.21" height="5.81" fill="#b4282f"/>
<rect x="484.68" y="525.01" width="6.21" height="5.81" fill="#b4282f"/>
<rect x="491.25" y="525.01" width="6.21" height="5.81" fill="#b4282f"/>
<rect x="497.83" y="525.01" width="6.21" height="5.81" fill="#b4282f"/>
<text transform="translate(54.2 222.1) scale(1.07 1)" font-size="6.9" text-anchor="end" fill="#383838" font-style="italic">KMT2D</text>
<text transform="translate(54.2 228.27) scale(1.07 1)" font-size="6.9" text-anchor="end" fill="#383838" font-style="italic">CREBBP</text>
<text transform="translate(54.2 234.44) scale(1.07 1)" font-size="6.9" text-anchor="end" fill="#383838" font-style="italic">TNFRSF14</text>
<text transform="translate(54.2 240.61) scale(1.07 1)" font-size="6.9" text-anchor="end" fill="#383838" font-style="italic">RBMXL3</text>
<text transform="translate(54.2 246.78) scale(1.07 1)" font-size="6.9" text-anchor="end" fill="#383838" font-style="italic">EZH2</text>
<text transform="translate(54.2 252.95) scale(1.07 1)" font-size="6.9" text-anchor="end" fill="#383838" font-style="italic">BCL7A</text>
<text transform="translate(54.2 259.12) scale(1.07 1)" font-size="6.9" text-anchor="end" fill="#383838" font-style="italic">EP300</text>
<text transform="translate(54.2 265.29) scale(1.07 1)" font-size="6.9" text-anchor="end" fill="#383838" font-style="italic">ARMCX4</text>
<text transform="translate(54.2 271.46) scale(1.07 1)" font-size="6.9" text-anchor="end" fill="#383838" font-style="italic">ARID1A</text>
<text transform="translate(54.2 277.64) scale(1.07 1)" font-size="6.9" text-anchor="end" fill="#383838" font-style="italic">STAT6</text>
<text transform="translate(54.2 283.81) scale(1.07 1)" font-size="6.9" text-anchor="end" fill="#383838" font-style="italic">RRAGC</text>
<text transform="translate(54.2 289.98) scale(1.07 1)" font-size="6.9" text-anchor="end" fill="#383838" font-style="italic">GNA13</text>
<text transform="translate(54.2 296.15) scale(1.07 1)" font-size="6.9" text-anchor="end" fill="#383838" font-style="italic">CTSS</text>
<text transform="translate(54.2 302.32) scale(1.07 1)" font-size="6.9" text-anchor="end" fill="#383838" font-style="italic">TRIOBP</text>
<text transform="translate(54.2 308.49) scale(1.07 1)" font-size="6.9" text-anchor="end" fill="#383838" font-style="italic">TP53</text>
<text transform="translate(54.2 314.66) scale(1.07 1)" font-size="6.9" text-anchor="end" fill="#383838" font-style="italic">MEF2B</text>
<text transform="translate(54.2 320.83) scale(1.07 1)" font-size="6.9" text-anchor="end" fill="#383838" font-style="italic">TUBGCP6</text>
<text transform="translate(54.2 327) scale(1.07 1)" font-size="6.9" text-anchor="end" fill="#383838" font-style="italic">TBL1XR1</text>
<text transform="translate(54.2 333.17) scale(1.07 1)" font-size="6.9" text-anchor="end" fill="#383838" font-style="italic">SOCS1</text>
<text transform="translate(54.2 339.34) scale(1.07 1)" font-size="6.9" text-anchor="end" fill="#383838" font-style="italic">HIST1H1D</text>
<text transform="translate(54.2 345.51) scale(1.07 1)" font-size="6.9" text-anchor="end" fill="#383838" font-style="italic">ESX1</text>
<text transform="translate(54.2 351.68) scale(1.07 1)" font-size="6.9" text-anchor="end" fill="#383838" font-style="italic">CDHR5</text>
<text transform="translate(54.2 357.85) scale(1.07 1)" font-size="6.9" text-anchor="end" fill="#383838" font-style="italic">ATP6V1B2</text>
<text transform="translate(54.2 364.02) scale(1.07 1)" font-size="6.9" text-anchor="end" fill="#383838" font-style="italic">ZNF493</text>
<text transform="translate(54.2 370.19) scale(1.07 1)" font-size="6.9" text-anchor="end" fill="#383838" font-style="italic">TNFAIP3</text>
<text transform="translate(54.2 376.36) scale(1.07 1)" font-size="6.9" text-anchor="end" fill="#383838" font-style="italic">POU2F2</text>
<text transform="translate(54.2 382.54) scale(1.07 1)" font-size="6.9" text-anchor="end" fill="#383838" font-style="italic">DMBT1</text>
<text transform="translate(54.2 388.71) scale(1.07 1)" font-size="6.9" text-anchor="end" fill="#383838" font-style="italic">BTK</text>
<text transform="translate(54.2 394.88) scale(1.07 1)" font-size="6.9" text-anchor="end" fill="#383838" font-style="italic">SRSF2</text>
<text transform="translate(54.2 401.05) scale(1.07 1)" font-size="6.9" text-anchor="end" fill="#383838" font-style="italic">POTEH</text>
<text transform="translate(54.2 407.22) scale(1.07 1)" font-size="6.9" text-anchor="end" fill="#383838" font-style="italic">PEX5L</text>
<text transform="translate(54.2 413.39) scale(1.07 1)" font-size="6.9" text-anchor="end" fill="#383838" font-style="italic">MYD88</text>
<text transform="translate(54.2 419.56) scale(1.07 1)" font-size="6.9" text-anchor="end" fill="#383838" font-style="italic">HNRNPU</text>
<text transform="translate(54.2 425.73) scale(1.07 1)" font-size="6.9" text-anchor="end" fill="#383838" font-style="italic">HLA−B</text>
<text transform="translate(54.2 431.9) scale(1.07 1)" font-size="6.9" text-anchor="end" fill="#383838" font-style="italic">GNAI2</text>
<text transform="translate(54.2 438.07) scale(1.07 1)" font-size="6.9" text-anchor="end" fill="#383838" font-style="italic">CCND3</text>
<text transform="translate(54.2 444.24) scale(1.07 1)" font-size="6.9" text-anchor="end" fill="#383838" font-style="italic">B2M</text>
<text transform="translate(54.2 450.41) scale(1.07 1)" font-size="6.9" text-anchor="end" fill="#383838" font-style="italic">ZNF708</text>
<text transform="translate(54.2 456.58) scale(1.07 1)" font-size="6.9" text-anchor="end" fill="#383838" font-style="italic">VPS39</text>
<text transform="translate(54.2 462.75) scale(1.07 1)" font-size="6.9" text-anchor="end" fill="#383838" font-style="italic">VMA21</text>
<text transform="translate(54.2 468.92) scale(1.07 1)" font-size="6.9" text-anchor="end" fill="#383838" font-style="italic">STAT3</text>
<text transform="translate(54.2 475.09) scale(1.07 1)" font-size="6.9" text-anchor="end" fill="#383838" font-style="italic">HLA−A</text>
<text transform="translate(54.2 481.26) scale(1.07 1)" font-size="6.9" text-anchor="end" fill="#383838" font-style="italic">GET4</text>
<text transform="translate(54.2 487.44) scale(1.07 1)" font-size="6.9" text-anchor="end" fill="#383838" font-style="italic">FAS</text>
<text transform="translate(54.2 493.61) scale(1.07 1)" font-size="6.9" text-anchor="end" fill="#383838" font-style="italic">DIO2</text>
<text transform="translate(54.2 499.78) scale(1.07 1)" font-size="6.9" text-anchor="end" fill="#383838" font-style="italic">CPT1C</text>
<text transform="translate(54.2 505.95) scale(1.07 1)" font-size="6.9" text-anchor="end" fill="#383838" font-style="italic">S1PR2</text>
<text transform="translate(54.2 512.12) scale(1.07 1)" font-size="6.9" text-anchor="end" fill="#383838" font-style="italic">MS4A1</text>
<text transform="translate(54.2 518.29) scale(1.07 1)" font-size="6.9" text-anchor="end" fill="#383838" font-style="italic">IL4R</text>
<text transform="translate(54.2 524.46) scale(1.07 1)" font-size="6.9" text-anchor="end" fill="#383838" font-style="italic">CDH9</text>
<text transform="translate(54.2 530.63) scale(1.07 1)" font-size="6.9" text-anchor="end" fill="#383838" font-style="italic">CBLB</text>
<rect x="57.3" y="535.6" width="617.8" height="18.7" fill="#fff" stroke="#111" stroke-width="0.7"/>
<line x1="57.3" y1="545" x2="675.1" y2="545" stroke="#111" stroke-width="0.6"/>
<line x1="70.44" y1="535.6" x2="70.44" y2="554.3" stroke="#111" stroke-width="0.6"/>
<text x="63.87" y="542.4" font-size="5" text-anchor="middle" fill="#111">10</text>
<line x1="83.59" y1="535.6" x2="83.59" y2="554.3" stroke="#111" stroke-width="0.6"/>
<text x="77.02" y="542.4" font-size="5" text-anchor="middle" fill="#111">11</text>
<line x1="96.73" y1="535.6" x2="96.73" y2="554.3" stroke="#111" stroke-width="0.6"/>
<text x="90.16" y="542.4" font-size="5" text-anchor="middle" fill="#111">14</text>
<line x1="109.88" y1="535.6" x2="109.88" y2="554.3" stroke="#111" stroke-width="0.6"/>
<text x="103.31" y="542.4" font-size="5" text-anchor="middle" fill="#111">2</text>
<line x1="123.02" y1="535.6" x2="123.02" y2="554.3" stroke="#111" stroke-width="0.6"/>
<text x="116.45" y="542.4" font-size="5" text-anchor="middle" fill="#111">21</text>
<line x1="142.74" y1="535.6" x2="142.74" y2="554.3" stroke="#111" stroke-width="0.6"/>
<text x="132.88" y="542.4" font-size="5" text-anchor="middle" fill="#111">23</text>
<line x1="155.89" y1="535.6" x2="155.89" y2="554.3" stroke="#111" stroke-width="0.6"/>
<text x="149.31" y="542.4" font-size="5" text-anchor="middle" fill="#111">3</text>
<line x1="169.03" y1="535.6" x2="169.03" y2="554.3" stroke="#111" stroke-width="0.6"/>
<text x="162.46" y="542.4" font-size="5" text-anchor="middle" fill="#111">30</text>
<line x1="195.32" y1="535.6" x2="195.32" y2="554.3" stroke="#111" stroke-width="0.6"/>
<text x="182.17" y="542.4" font-size="5" text-anchor="middle" fill="#111">31</text>
<line x1="201.89" y1="535.6" x2="201.89" y2="554.3" stroke="#111" stroke-width="0.6"/>
<text x="198.61" y="542.4" font-size="5" text-anchor="middle" fill="#111">34</text>
<line x1="208.46" y1="535.6" x2="208.46" y2="554.3" stroke="#111" stroke-width="0.6"/>
<text x="205.18" y="542.4" font-size="5" text-anchor="middle" fill="#111">35</text>
<line x1="221.61" y1="535.6" x2="221.61" y2="554.3" stroke="#111" stroke-width="0.6"/>
<text x="215.04" y="542.4" font-size="5" text-anchor="middle" fill="#111">36</text>
<line x1="241.33" y1="535.6" x2="241.33" y2="554.3" stroke="#111" stroke-width="0.6"/>
<text x="231.47" y="542.4" font-size="5" text-anchor="middle" fill="#111">46</text>
<line x1="254.47" y1="535.6" x2="254.47" y2="554.3" stroke="#111" stroke-width="0.6"/>
<text x="247.9" y="542.4" font-size="5" text-anchor="middle" fill="#111">48</text>
<line x1="267.61" y1="535.6" x2="267.61" y2="554.3" stroke="#111" stroke-width="0.6"/>
<text x="261.04" y="542.4" font-size="5" text-anchor="middle" fill="#111">49</text>
<line x1="280.76" y1="535.6" x2="280.76" y2="554.3" stroke="#111" stroke-width="0.6"/>
<text x="274.19" y="542.4" font-size="5" text-anchor="middle" fill="#111">50</text>
<line x1="287.33" y1="535.6" x2="287.33" y2="554.3" stroke="#111" stroke-width="0.6"/>
<text x="284.05" y="542.4" font-size="5" text-anchor="middle" fill="#111">53</text>
<line x1="300.48" y1="535.6" x2="300.48" y2="554.3" stroke="#111" stroke-width="0.6"/>
<text x="293.9" y="542.4" font-size="5" text-anchor="middle" fill="#111">56</text>
<line x1="313.62" y1="535.6" x2="313.62" y2="554.3" stroke="#111" stroke-width="0.6"/>
<text x="307.05" y="542.4" font-size="5" text-anchor="middle" fill="#111">59</text>
<line x1="333.34" y1="535.6" x2="333.34" y2="554.3" stroke="#111" stroke-width="0.6"/>
<text x="323.48" y="542.4" font-size="5" text-anchor="middle" fill="#111">6</text>
<line x1="359.63" y1="535.6" x2="359.63" y2="554.3" stroke="#111" stroke-width="0.6"/>
<text x="346.48" y="542.4" font-size="5" text-anchor="middle" fill="#111">75</text>
<line x1="372.77" y1="535.6" x2="372.77" y2="554.3" stroke="#111" stroke-width="0.6"/>
<text x="366.2" y="542.4" font-size="5" text-anchor="middle" fill="#111">9</text>
<line x1="385.92" y1="535.6" x2="385.92" y2="554.3" stroke="#111" stroke-width="0.6"/>
<text x="379.34" y="542.4" font-size="5" text-anchor="middle" fill="#111">1</text>
<line x1="392.49" y1="535.6" x2="392.49" y2="554.3" stroke="#111" stroke-width="0.6"/>
<text x="389.2" y="542.4" font-size="5" text-anchor="middle" fill="#111">12</text>
<line x1="405.63" y1="535.6" x2="405.63" y2="554.3" stroke="#111" stroke-width="0.6"/>
<text x="399.06" y="542.4" font-size="5" text-anchor="middle" fill="#111">15</text>
<line x1="418.78" y1="535.6" x2="418.78" y2="554.3" stroke="#111" stroke-width="0.6"/>
<text x="412.21" y="542.4" font-size="5" text-anchor="middle" fill="#111">16</text>
<line x1="431.92" y1="535.6" x2="431.92" y2="554.3" stroke="#111" stroke-width="0.6"/>
<text x="425.35" y="542.4" font-size="5" text-anchor="middle" fill="#111">25</text>
<line x1="451.64" y1="535.6" x2="451.64" y2="554.3" stroke="#111" stroke-width="0.6"/>
<text x="441.78" y="542.4" font-size="5" text-anchor="middle" fill="#111">27</text>
<line x1="471.36" y1="535.6" x2="471.36" y2="554.3" stroke="#111" stroke-width="0.6"/>
<text x="461.5" y="542.4" font-size="5" text-anchor="middle" fill="#111">28</text>
<line x1="484.5" y1="535.6" x2="484.5" y2="554.3" stroke="#111" stroke-width="0.6"/>
<text x="477.93" y="542.4" font-size="5" text-anchor="middle" fill="#111">29</text>
<line x1="504.22" y1="535.6" x2="504.22" y2="554.3" stroke="#111" stroke-width="0.6"/>
<text x="494.36" y="542.4" font-size="5" text-anchor="middle" fill="#111">32</text>
<line x1="517.36" y1="535.6" x2="517.36" y2="554.3" stroke="#111" stroke-width="0.6"/>
<text x="510.79" y="542.4" font-size="5" text-anchor="middle" fill="#111">33</text>
<line x1="530.51" y1="535.6" x2="530.51" y2="554.3" stroke="#111" stroke-width="0.6"/>
<text x="523.94" y="542.4" font-size="5" text-anchor="middle" fill="#111">4</text>
<line x1="537.08" y1="535.6" x2="537.08" y2="554.3" stroke="#111" stroke-width="0.6"/>
<text x="533.79" y="542.4" font-size="5" text-anchor="middle" fill="#111">40</text>
<line x1="550.23" y1="535.6" x2="550.23" y2="554.3" stroke="#111" stroke-width="0.6"/>
<text x="543.65" y="542.4" font-size="5" text-anchor="middle" fill="#111">41</text>
<line x1="569.94" y1="535.6" x2="569.94" y2="554.3" stroke="#111" stroke-width="0.6"/>
<text x="560.08" y="542.4" font-size="5" text-anchor="middle" fill="#111">42</text>
<line x1="589.66" y1="535.6" x2="589.66" y2="554.3" stroke="#111" stroke-width="0.6"/>
<text x="579.8" y="542.4" font-size="5" text-anchor="middle" fill="#111">43</text>
<line x1="615.95" y1="535.6" x2="615.95" y2="554.3" stroke="#111" stroke-width="0.6"/>
<text x="602.8" y="542.4" font-size="5" text-anchor="middle" fill="#111">44</text>
<line x1="629.09" y1="535.6" x2="629.09" y2="554.3" stroke="#111" stroke-width="0.6"/>
<text x="622.52" y="542.4" font-size="5" text-anchor="middle" fill="#111">57</text>
<line x1="635.67" y1="535.6" x2="635.67" y2="554.3" stroke="#111" stroke-width="0.6"/>
<text x="632.38" y="542.4" font-size="5" text-anchor="middle" fill="#111">58</text>
<line x1="642.24" y1="535.6" x2="642.24" y2="554.3" stroke="#111" stroke-width="0.6"/>
<text x="638.95" y="542.4" font-size="5" text-anchor="middle" fill="#111">61</text>
<line x1="655.38" y1="535.6" x2="655.38" y2="554.3" stroke="#111" stroke-width="0.6"/>
<text x="648.81" y="542.4" font-size="5" text-anchor="middle" fill="#111">62</text>
<line x1="668.53" y1="535.6" x2="668.53" y2="554.3" stroke="#111" stroke-width="0.6"/>
<text x="661.96" y="542.4" font-size="5" text-anchor="middle" fill="#111">8</text>
<line x1="675.1" y1="535.6" x2="675.1" y2="554.3" stroke="#111" stroke-width="0.6"/>
<text x="671.81" y="542.4" font-size="5" text-anchor="middle" fill="#111">7</text>
<text x="60.59" y="551.5" font-size="4.5" text-anchor="middle" fill="#222">1</text>
<line x1="63.87" y1="545" x2="63.87" y2="554.3" stroke="#111" stroke-width="0.45"/>
<text x="67.16" y="551.5" font-size="4.5" text-anchor="middle" fill="#222">2</text>
<line x1="70.44" y1="545" x2="70.44" y2="554.3" stroke="#111" stroke-width="0.45"/>
<text x="73.73" y="551.5" font-size="4.5" text-anchor="middle" fill="#222">1</text>
<line x1="77.02" y1="545" x2="77.02" y2="554.3" stroke="#111" stroke-width="0.45"/>
<text x="80.3" y="551.5" font-size="4.5" text-anchor="middle" fill="#222">2</text>
<line x1="83.59" y1="545" x2="83.59" y2="554.3" stroke="#111" stroke-width="0.45"/>
<text x="86.88" y="551.5" font-size="4.5" text-anchor="middle" fill="#222">1</text>
<line x1="90.16" y1="545" x2="90.16" y2="554.3" stroke="#111" stroke-width="0.45"/>
<text x="93.45" y="551.5" font-size="4.5" text-anchor="middle" fill="#222">2</text>
<line x1="96.73" y1="545" x2="96.73" y2="554.3" stroke="#111" stroke-width="0.45"/>
<text x="100.02" y="551.5" font-size="4.5" text-anchor="middle" fill="#222">1</text>
<line x1="103.31" y1="545" x2="103.31" y2="554.3" stroke="#111" stroke-width="0.45"/>
<text x="106.59" y="551.5" font-size="4.5" text-anchor="middle" fill="#222">2</text>
<line x1="109.88" y1="545" x2="109.88" y2="554.3" stroke="#111" stroke-width="0.45"/>
<text x="113.16" y="551.5" font-size="4.5" text-anchor="middle" fill="#222">1</text>
<line x1="116.45" y1="545" x2="116.45" y2="554.3" stroke="#111" stroke-width="0.45"/>
<text x="119.74" y="551.5" font-size="4.5" text-anchor="middle" fill="#222">2</text>
<line x1="123.02" y1="545" x2="123.02" y2="554.3" stroke="#111" stroke-width="0.45"/>
<text x="126.31" y="551.5" font-size="4.5" text-anchor="middle" fill="#222">1</text>
<line x1="129.6" y1="545" x2="129.6" y2="554.3" stroke="#111" stroke-width="0.45"/>
<text x="132.88" y="551.5" font-size="4.5" text-anchor="middle" fill="#222">2</text>
<line x1="136.17" y1="545" x2="136.17" y2="554.3" stroke="#111" stroke-width="0.45"/>
<text x="139.45" y="551.5" font-size="4.5" text-anchor="middle" fill="#222">3</text>
<line x1="142.74" y1="545" x2="142.74" y2="554.3" stroke="#111" stroke-width="0.45"/>
<text x="146.03" y="551.5" font-size="4.5" text-anchor="middle" fill="#222">1</text>
<line x1="149.31" y1="545" x2="149.31" y2="554.3" stroke="#111" stroke-width="0.45"/>
<text x="152.6" y="551.5" font-size="4.5" text-anchor="middle" fill="#222">2</text>
<line x1="155.89" y1="545" x2="155.89" y2="554.3" stroke="#111" stroke-width="0.45"/>
<text x="159.17" y="551.5" font-size="4.5" text-anchor="middle" fill="#222">1</text>
<line x1="162.46" y1="545" x2="162.46" y2="554.3" stroke="#111" stroke-width="0.45"/>
<text x="165.74" y="551.5" font-size="4.5" text-anchor="middle" fill="#222">2</text>
<line x1="169.03" y1="545" x2="169.03" y2="554.3" stroke="#111" stroke-width="0.45"/>
<text x="172.32" y="551.5" font-size="4.5" text-anchor="middle" fill="#222">1</text>
<line x1="175.6" y1="545" x2="175.6" y2="554.3" stroke="#111" stroke-width="0.45"/>
<text x="178.89" y="551.5" font-size="4.5" text-anchor="middle" fill="#222">2</text>
<line x1="182.17" y1="545" x2="182.17" y2="554.3" stroke="#111" stroke-width="0.45"/>
<text x="185.46" y="551.5" font-size="4.5" text-anchor="middle" fill="#222">3</text>
<line x1="188.75" y1="545" x2="188.75" y2="554.3" stroke="#111" stroke-width="0.45"/>
<text x="192.03" y="551.5" font-size="4.5" text-anchor="middle" fill="#222">4</text>
<line x1="195.32" y1="545" x2="195.32" y2="554.3" stroke="#111" stroke-width="0.45"/>
<text x="198.61" y="551.5" font-size="4.5" text-anchor="middle" fill="#222">2</text>
<line x1="201.89" y1="545" x2="201.89" y2="554.3" stroke="#111" stroke-width="0.45"/>
<text x="205.18" y="551.5" font-size="4.5" text-anchor="middle" fill="#222">2</text>
<line x1="208.46" y1="545" x2="208.46" y2="554.3" stroke="#111" stroke-width="0.45"/>
<text x="211.75" y="551.5" font-size="4.5" text-anchor="middle" fill="#222">1</text>
<line x1="215.04" y1="545" x2="215.04" y2="554.3" stroke="#111" stroke-width="0.45"/>
<text x="218.32" y="551.5" font-size="4.5" text-anchor="middle" fill="#222">2</text>
<line x1="221.61" y1="545" x2="221.61" y2="554.3" stroke="#111" stroke-width="0.45"/>
<text x="224.89" y="551.5" font-size="4.5" text-anchor="middle" fill="#222">1</text>
<line x1="228.18" y1="545" x2="228.18" y2="554.3" stroke="#111" stroke-width="0.45"/>
<text x="231.47" y="551.5" font-size="4.5" text-anchor="middle" fill="#222">2</text>
<line x1="234.75" y1="545" x2="234.75" y2="554.3" stroke="#111" stroke-width="0.45"/>
<text x="238.04" y="551.5" font-size="4.5" text-anchor="middle" fill="#222">3</text>
<line x1="241.33" y1="545" x2="241.33" y2="554.3" stroke="#111" stroke-width="0.45"/>
<text x="244.61" y="551.5" font-size="4.5" text-anchor="middle" fill="#222">1</text>
<line x1="247.9" y1="545" x2="247.9" y2="554.3" stroke="#111" stroke-width="0.45"/>
<text x="251.18" y="551.5" font-size="4.5" text-anchor="middle" fill="#222">2</text>
<line x1="254.47" y1="545" x2="254.47" y2="554.3" stroke="#111" stroke-width="0.45"/>
<text x="257.76" y="551.5" font-size="4.5" text-anchor="middle" fill="#222">1</text>
<line x1="261.04" y1="545" x2="261.04" y2="554.3" stroke="#111" stroke-width="0.45"/>
<text x="264.33" y="551.5" font-size="4.5" text-anchor="middle" fill="#222">2</text>
<line x1="267.61" y1="545" x2="267.61" y2="554.3" stroke="#111" stroke-width="0.45"/>
<text x="270.9" y="551.5" font-size="4.5" text-anchor="middle" fill="#222">1</text>
<line x1="274.19" y1="545" x2="274.19" y2="554.3" stroke="#111" stroke-width="0.45"/>
<text x="277.47" y="551.5" font-size="4.5" text-anchor="middle" fill="#222">2</text>
<line x1="280.76" y1="545" x2="280.76" y2="554.3" stroke="#111" stroke-width="0.45"/>
<text x="284.05" y="551.5" font-size="4.5" text-anchor="middle" fill="#222">1</text>
<line x1="287.33" y1="545" x2="287.33" y2="554.3" stroke="#111" stroke-width="0.45"/>
<text x="290.62" y="551.5" font-size="4.5" text-anchor="middle" fill="#222">1</text>
<line x1="293.9" y1="545" x2="293.9" y2="554.3" stroke="#111" stroke-width="0.45"/>
<text x="297.19" y="551.5" font-size="4.5" text-anchor="middle" fill="#222">2</text>
<line x1="300.48" y1="545" x2="300.48" y2="554.3" stroke="#111" stroke-width="0.45"/>
<text x="303.76" y="551.5" font-size="4.5" text-anchor="middle" fill="#222">1</text>
<line x1="307.05" y1="545" x2="307.05" y2="554.3" stroke="#111" stroke-width="0.45"/>
<text x="310.34" y="551.5" font-size="4.5" text-anchor="middle" fill="#222">2</text>
<line x1="313.62" y1="545" x2="313.62" y2="554.3" stroke="#111" stroke-width="0.45"/>
<text x="316.91" y="551.5" font-size="4.5" text-anchor="middle" fill="#222">1</text>
<line x1="320.19" y1="545" x2="320.19" y2="554.3" stroke="#111" stroke-width="0.45"/>
<text x="323.48" y="551.5" font-size="4.5" text-anchor="middle" fill="#222">2</text>
<line x1="326.77" y1="545" x2="326.77" y2="554.3" stroke="#111" stroke-width="0.45"/>
<text x="330.05" y="551.5" font-size="4.5" text-anchor="middle" fill="#222">3</text>
<line x1="333.34" y1="545" x2="333.34" y2="554.3" stroke="#111" stroke-width="0.45"/>
<text x="336.62" y="551.5" font-size="4.5" text-anchor="middle" fill="#222">1</text>
<line x1="339.91" y1="545" x2="339.91" y2="554.3" stroke="#111" stroke-width="0.45"/>
<text x="343.2" y="551.5" font-size="4.5" text-anchor="middle" fill="#222">2</text>
<line x1="346.48" y1="545" x2="346.48" y2="554.3" stroke="#111" stroke-width="0.45"/>
<text x="349.77" y="551.5" font-size="4.5" text-anchor="middle" fill="#222">3</text>
<line x1="353.06" y1="545" x2="353.06" y2="554.3" stroke="#111" stroke-width="0.45"/>
<text x="356.34" y="551.5" font-size="4.5" text-anchor="middle" fill="#222">4</text>
<line x1="359.63" y1="545" x2="359.63" y2="554.3" stroke="#111" stroke-width="0.45"/>
<text x="362.91" y="551.5" font-size="4.5" text-anchor="middle" fill="#222">1</text>
<line x1="366.2" y1="545" x2="366.2" y2="554.3" stroke="#111" stroke-width="0.45"/>
<text x="369.49" y="551.5" font-size="4.5" text-anchor="middle" fill="#222">2</text>
<line x1="372.77" y1="545" x2="372.77" y2="554.3" stroke="#111" stroke-width="0.45"/>
<text x="376.06" y="551.5" font-size="4.5" text-anchor="middle" fill="#222">1</text>
<line x1="379.34" y1="545" x2="379.34" y2="554.3" stroke="#111" stroke-width="0.45"/>
<text x="382.63" y="551.5" font-size="4.5" text-anchor="middle" fill="#222">2</text>
<line x1="385.92" y1="545" x2="385.92" y2="554.3" stroke="#111" stroke-width="0.45"/>
<text x="389.2" y="551.5" font-size="4.5" text-anchor="middle" fill="#222">1</text>
<line x1="392.49" y1="545" x2="392.49" y2="554.3" stroke="#111" stroke-width="0.45"/>
<text x="395.78" y="551.5" font-size="4.5" text-anchor="middle" fill="#222">1</text>
<line x1="399.06" y1="545" x2="399.06" y2="554.3" stroke="#111" stroke-width="0.45"/>
<text x="402.35" y="551.5" font-size="4.5" text-anchor="middle" fill="#222">2</text>
<line x1="405.63" y1="545" x2="405.63" y2="554.3" stroke="#111" stroke-width="0.45"/>
<text x="408.92" y="551.5" font-size="4.5" text-anchor="middle" fill="#222">1</text>
<line x1="412.21" y1="545" x2="412.21" y2="554.3" stroke="#111" stroke-width="0.45"/>
<text x="415.49" y="551.5" font-size="4.5" text-anchor="middle" fill="#222">2</text>
<line x1="418.78" y1="545" x2="418.78" y2="554.3" stroke="#111" stroke-width="0.45"/>
<text x="422.06" y="551.5" font-size="4.5" text-anchor="middle" fill="#222">1</text>
<line x1="425.35" y1="545" x2="425.35" y2="554.3" stroke="#111" stroke-width="0.45"/>
<text x="428.64" y="551.5" font-size="4.5" text-anchor="middle" fill="#222">2</text>
<line x1="431.92" y1="545" x2="431.92" y2="554.3" stroke="#111" stroke-width="0.45"/>
<text x="435.21" y="551.5" font-size="4.5" text-anchor="middle" fill="#222">1</text>
<line x1="438.5" y1="545" x2="438.5" y2="554.3" stroke="#111" stroke-width="0.45"/>
<text x="441.78" y="551.5" font-size="4.5" text-anchor="middle" fill="#222">2</text>
<line x1="445.07" y1="545" x2="445.07" y2="554.3" stroke="#111" stroke-width="0.45"/>
<text x="448.35" y="551.5" font-size="4.5" text-anchor="middle" fill="#222">3</text>
<line x1="451.64" y1="545" x2="451.64" y2="554.3" stroke="#111" stroke-width="0.45"/>
<text x="454.93" y="551.5" font-size="4.5" text-anchor="middle" fill="#222">1</text>
<line x1="458.21" y1="545" x2="458.21" y2="554.3" stroke="#111" stroke-width="0.45"/>
<text x="461.5" y="551.5" font-size="4.5" text-anchor="middle" fill="#222">2</text>
<line x1="464.79" y1="545" x2="464.79" y2="554.3" stroke="#111" stroke-width="0.45"/>
<text x="468.07" y="551.5" font-size="4.5" text-anchor="middle" fill="#222">3</text>
<line x1="471.36" y1="545" x2="471.36" y2="554.3" stroke="#111" stroke-width="0.45"/>
<text x="474.64" y="551.5" font-size="4.5" text-anchor="middle" fill="#222">1</text>
<line x1="477.93" y1="545" x2="477.93" y2="554.3" stroke="#111" stroke-width="0.45"/>
<text x="481.22" y="551.5" font-size="4.5" text-anchor="middle" fill="#222">2</text>
<line x1="484.5" y1="545" x2="484.5" y2="554.3" stroke="#111" stroke-width="0.45"/>
<text x="487.79" y="551.5" font-size="4.5" text-anchor="middle" fill="#222">1</text>
<line x1="491.07" y1="545" x2="491.07" y2="554.3" stroke="#111" stroke-width="0.45"/>
<text x="494.36" y="551.5" font-size="4.5" text-anchor="middle" fill="#222">2</text>
<line x1="497.65" y1="545" x2="497.65" y2="554.3" stroke="#111" stroke-width="0.45"/>
<text x="500.93" y="551.5" font-size="4.5" text-anchor="middle" fill="#222">3</text>
<line x1="504.22" y1="545" x2="504.22" y2="554.3" stroke="#111" stroke-width="0.45"/>
<text x="507.51" y="551.5" font-size="4.5" text-anchor="middle" fill="#222">1</text>
<line x1="510.79" y1="545" x2="510.79" y2="554.3" stroke="#111" stroke-width="0.45"/>
<text x="514.08" y="551.5" font-size="4.5" text-anchor="middle" fill="#222">2</text>
<line x1="517.36" y1="545" x2="517.36" y2="554.3" stroke="#111" stroke-width="0.45"/>
<text x="520.65" y="551.5" font-size="4.5" text-anchor="middle" fill="#222">1</text>
<line x1="523.94" y1="545" x2="523.94" y2="554.3" stroke="#111" stroke-width="0.45"/>
<text x="527.22" y="551.5" font-size="4.5" text-anchor="middle" fill="#222">2</text>
<line x1="530.51" y1="545" x2="530.51" y2="554.3" stroke="#111" stroke-width="0.45"/>
<text x="533.79" y="551.5" font-size="4.5" text-anchor="middle" fill="#222">1</text>
<line x1="537.08" y1="545" x2="537.08" y2="554.3" stroke="#111" stroke-width="0.45"/>
<text x="540.37" y="551.5" font-size="4.5" text-anchor="middle" fill="#222">1</text>
<line x1="543.65" y1="545" x2="543.65" y2="554.3" stroke="#111" stroke-width="0.45"/>
<text x="546.94" y="551.5" font-size="4.5" text-anchor="middle" fill="#222">2</text>
<line x1="550.23" y1="545" x2="550.23" y2="554.3" stroke="#111" stroke-width="0.45"/>
<text x="553.51" y="551.5" font-size="4.5" text-anchor="middle" fill="#222">1</text>
<line x1="556.8" y1="545" x2="556.8" y2="554.3" stroke="#111" stroke-width="0.45"/>
<text x="560.08" y="551.5" font-size="4.5" text-anchor="middle" fill="#222">2</text>
<line x1="563.37" y1="545" x2="563.37" y2="554.3" stroke="#111" stroke-width="0.45"/>
<text x="566.66" y="551.5" font-size="4.5" text-anchor="middle" fill="#222">3</text>
<line x1="569.94" y1="545" x2="569.94" y2="554.3" stroke="#111" stroke-width="0.45"/>
<text x="573.23" y="551.5" font-size="4.5" text-anchor="middle" fill="#222">1</text>
<line x1="576.51" y1="545" x2="576.51" y2="554.3" stroke="#111" stroke-width="0.45"/>
<text x="579.8" y="551.5" font-size="4.5" text-anchor="middle" fill="#222">2</text>
<line x1="583.09" y1="545" x2="583.09" y2="554.3" stroke="#111" stroke-width="0.45"/>
<text x="586.37" y="551.5" font-size="4.5" text-anchor="middle" fill="#222">3</text>
<line x1="589.66" y1="545" x2="589.66" y2="554.3" stroke="#111" stroke-width="0.45"/>
<text x="592.95" y="551.5" font-size="4.5" text-anchor="middle" fill="#222">1</text>
<line x1="596.23" y1="545" x2="596.23" y2="554.3" stroke="#111" stroke-width="0.45"/>
<text x="599.52" y="551.5" font-size="4.5" text-anchor="middle" fill="#222">2</text>
<line x1="602.8" y1="545" x2="602.8" y2="554.3" stroke="#111" stroke-width="0.45"/>
<text x="606.09" y="551.5" font-size="4.5" text-anchor="middle" fill="#222">3</text>
<line x1="609.38" y1="545" x2="609.38" y2="554.3" stroke="#111" stroke-width="0.45"/>
<text x="612.66" y="551.5" font-size="4.5" text-anchor="middle" fill="#222">4</text>
<line x1="615.95" y1="545" x2="615.95" y2="554.3" stroke="#111" stroke-width="0.45"/>
<text x="619.24" y="551.5" font-size="4.5" text-anchor="middle" fill="#222">1</text>
<line x1="622.52" y1="545" x2="622.52" y2="554.3" stroke="#111" stroke-width="0.45"/>
<text x="625.81" y="551.5" font-size="4.5" text-anchor="middle" fill="#222">2</text>
<line x1="629.09" y1="545" x2="629.09" y2="554.3" stroke="#111" stroke-width="0.45"/>
<text x="632.38" y="551.5" font-size="4.5" text-anchor="middle" fill="#222">1</text>
<line x1="635.67" y1="545" x2="635.67" y2="554.3" stroke="#111" stroke-width="0.45"/>
<text x="638.95" y="551.5" font-size="4.5" text-anchor="middle" fill="#222">1</text>
<line x1="642.24" y1="545" x2="642.24" y2="554.3" stroke="#111" stroke-width="0.45"/>
<text x="645.52" y="551.5" font-size="4.5" text-anchor="middle" fill="#222">1</text>
<line x1="648.81" y1="545" x2="648.81" y2="554.3" stroke="#111" stroke-width="0.45"/>
<text x="652.1" y="551.5" font-size="4.5" text-anchor="middle" fill="#222">2</text>
<line x1="655.38" y1="545" x2="655.38" y2="554.3" stroke="#111" stroke-width="0.45"/>
<text x="658.67" y="551.5" font-size="4.5" text-anchor="middle" fill="#222">1</text>
<line x1="661.96" y1="545" x2="661.96" y2="554.3" stroke="#111" stroke-width="0.45"/>
<text x="665.24" y="551.5" font-size="4.5" text-anchor="middle" fill="#222">2</text>
<line x1="668.53" y1="545" x2="668.53" y2="554.3" stroke="#111" stroke-width="0.45"/>
<text x="671.81" y="551.5" font-size="4.5" text-anchor="middle" fill="#222">1</text>
<text transform="translate(54.3 543.4) scale(1.05 1)" font-size="8.2" text-anchor="end" fill="#222">Patient ID</text>
<text transform="translate(54.3 552.8) scale(1.05 1)" font-size="8.2" text-anchor="end" fill="#222">Biopsy #</text>
<rect x="57.3" y="557.5" width="19.77" height="7.71" fill="#3f9a89"/>
<rect x="77.02" y="557.5" width="6.62" height="7.71" fill="#efb0b0"/>
<rect x="83.59" y="557.5" width="6.62" height="7.71" fill="#3f9a89"/>
<rect x="90.16" y="557.5" width="6.62" height="7.71" fill="#efb0b0"/>
<rect x="96.73" y="557.5" width="6.62" height="7.71" fill="#3f9a89"/>
<rect x="103.31" y="557.5" width="6.62" height="7.71" fill="#efb0b0"/>
<rect x="109.88" y="557.5" width="19.77" height="7.71" fill="#3f9a89"/>
<rect x="129.6" y="557.5" width="13.19" height="7.71" fill="#efb0b0"/>
<rect x="142.74" y="557.5" width="6.62" height="7.71" fill="#3f9a89"/>
<rect x="149.31" y="557.5" width="6.62" height="7.71" fill="#efb0b0"/>
<rect x="155.89" y="557.5" width="6.62" height="7.71" fill="#3f9a89"/>
<rect x="162.46" y="557.5" width="6.62" height="7.71" fill="#efb0b0"/>
<rect x="169.03" y="557.5" width="13.19" height="7.71" fill="#3f9a89"/>
<rect x="182.17" y="557.5" width="26.34" height="7.71" fill="#efb0b0"/>
<rect x="208.46" y="557.5" width="19.77" height="7.71" fill="#3f9a89"/>
<rect x="228.18" y="557.5" width="13.19" height="7.71" fill="#efb0b0"/>
<rect x="241.33" y="557.5" width="6.62" height="7.71" fill="#3f9a89"/>
<rect x="247.9" y="557.5" width="6.62" height="7.71" fill="#efb0b0"/>
<rect x="254.47" y="557.5" width="6.62" height="7.71" fill="#3f9a89"/>
<rect x="261.04" y="557.5" width="6.62" height="7.71" fill="#efb0b0"/>
<rect x="267.61" y="557.5" width="6.62" height="7.71" fill="#3f9a89"/>
<rect x="274.19" y="557.5" width="6.62" height="7.71" fill="#efb0b0"/>
<rect x="280.76" y="557.5" width="13.19" height="7.71" fill="#3f9a89"/>
<rect x="293.9" y="557.5" width="6.62" height="7.71" fill="#efb0b0"/>
<rect x="300.48" y="557.5" width="6.62" height="7.71" fill="#3f9a89"/>
<rect x="307.05" y="557.5" width="6.62" height="7.71" fill="#efb0b0"/>
<rect x="313.62" y="557.5" width="13.19" height="7.71" fill="#3f9a89"/>
<rect x="326.77" y="557.5" width="6.62" height="7.71" fill="#efb0b0"/>
<rect x="333.34" y="557.5" width="6.62" height="7.71" fill="#3f9a89"/>
<rect x="339.91" y="557.5" width="19.77" height="7.71" fill="#efb0b0"/>
<rect x="359.63" y="557.5" width="6.62" height="7.71" fill="#3f9a89"/>
<rect x="366.2" y="557.5" width="6.62" height="7.71" fill="#efb0b0"/>
<rect x="372.77" y="557.5" width="6.62" height="7.71" fill="#3f9a89"/>
<rect x="379.34" y="557.5" width="6.62" height="7.71" fill="#efb0b0"/>
<rect x="385.92" y="557.5" width="6.62" height="7.71" fill="#3f9a89"/>
<rect x="392.49" y="557.5" width="13.19" height="7.71" fill="#7c50b2"/>
<rect x="405.63" y="557.5" width="6.62" height="7.71" fill="#3f9a89"/>
<rect x="412.21" y="557.5" width="6.62" height="7.71" fill="#7c50b2"/>
<rect x="418.78" y="557.5" width="6.62" height="7.71" fill="#3f9a89"/>
<rect x="425.35" y="557.5" width="6.62" height="7.71" fill="#7c50b2"/>
<rect x="431.92" y="557.5" width="6.62" height="7.71" fill="#3f9a89"/>
<rect x="438.5" y="557.5" width="6.62" height="7.71" fill="#efb0b0"/>
<rect x="445.07" y="557.5" width="6.62" height="7.71" fill="#7c50b2"/>
<rect x="451.64" y="557.5" width="6.62" height="7.71" fill="#3f9a89"/>
<rect x="458.21" y="557.5" width="13.19" height="7.71" fill="#efb0b0"/>
<rect x="471.36" y="557.5" width="6.62" height="7.71" fill="#3f9a89"/>
<rect x="477.93" y="557.5" width="6.62" height="7.71" fill="#efb0b0"/>
<rect x="484.5" y="557.5" width="6.62" height="7.71" fill="#3f9a89"/>
<rect x="491.07" y="557.5" width="6.62" height="7.71" fill="#efb0b0"/>
<rect x="497.65" y="557.5" width="6.62" height="7.71" fill="#7c50b2"/>
<rect x="504.22" y="557.5" width="6.62" height="7.71" fill="#3f9a89"/>
<rect x="510.79" y="557.5" width="6.62" height="7.71" fill="#7c50b2"/>
<rect x="517.36" y="557.5" width="19.77" height="7.71" fill="#3f9a89"/>
<rect x="537.08" y="557.5" width="13.19" height="7.71" fill="#7c50b2"/>
<rect x="550.23" y="557.5" width="6.62" height="7.71" fill="#3f9a89"/>
<rect x="556.8" y="557.5" width="13.19" height="7.71" fill="#efb0b0"/>
<rect x="569.94" y="557.5" width="6.62" height="7.71" fill="#3f9a89"/>
<rect x="576.51" y="557.5" width="6.62" height="7.71" fill="#efb0b0"/>
<rect x="583.09" y="557.5" width="6.62" height="7.71" fill="#7c50b2"/>
<rect x="589.66" y="557.5" width="6.62" height="7.71" fill="#3f9a89"/>
<rect x="596.23" y="557.5" width="19.77" height="7.71" fill="#efb0b0"/>
<rect x="615.95" y="557.5" width="6.62" height="7.71" fill="#3f9a89"/>
<rect x="622.52" y="557.5" width="6.62" height="7.71" fill="#efb0b0"/>
<rect x="629.09" y="557.5" width="13.19" height="7.71" fill="#3f9a89"/>
<rect x="642.24" y="557.5" width="13.19" height="7.71" fill="#7c50b2"/>
<rect x="655.38" y="557.5" width="6.62" height="7.71" fill="#3f9a89"/>
<rect x="661.96" y="557.5" width="13.19" height="7.71" fill="#7c50b2"/>
<rect x="57.3" y="565.16" width="6.62" height="7.71" fill="#7cd5d7"/>
<rect x="63.87" y="565.16" width="6.62" height="7.71" fill="#dd4b70"/>
<rect x="70.44" y="565.16" width="65.77" height="7.71" fill="#7cd5d7"/>
<rect x="136.17" y="565.16" width="6.62" height="7.71" fill="#dd4b70"/>
<rect x="142.74" y="565.16" width="78.92" height="7.71" fill="#7cd5d7"/>
<rect x="221.61" y="565.16" width="46.06" height="7.71" fill="#dd4b70"/>
<rect x="267.61" y="565.16" width="19.77" height="7.71" fill="#7cd5d7"/>
<rect x="287.33" y="565.16" width="6.62" height="7.71" fill="#dd4b70"/>
<rect x="293.9" y="565.16" width="6.62" height="7.71" fill="#7cd5d7"/>
<rect x="300.48" y="565.16" width="6.62" height="7.71" fill="#dd4b70"/>
<rect x="307.05" y="565.16" width="26.34" height="7.71" fill="#7cd5d7"/>
<rect x="333.34" y="565.16" width="6.62" height="7.71" fill="#dd4b70"/>
<rect x="339.91" y="565.16" width="19.77" height="7.71" fill="#7cd5d7"/>
<rect x="359.63" y="565.16" width="13.19" height="7.71" fill="#dd4b70"/>
<rect x="372.77" y="565.16" width="19.77" height="7.71" fill="#7cd5d7"/>
<rect x="392.49" y="565.16" width="32.91" height="7.71" fill="#dd4b70"/>
<rect x="425.35" y="565.16" width="92.06" height="7.71" fill="#7cd5d7"/>
<rect x="517.36" y="565.16" width="13.19" height="7.71" fill="#dd4b70"/>
<rect x="530.51" y="565.16" width="59.2" height="7.71" fill="#7cd5d7"/>
<rect x="589.66" y="565.16" width="26.34" height="7.71" fill="#dd4b70"/>
<rect x="615.95" y="565.16" width="59.2" height="7.71" fill="#7cd5d7"/>
<rect x="57.3" y="572.82" width="26.34" height="7.71" fill="#bdeee8"/>
<rect x="83.59" y="572.82" width="13.19" height="7.71" fill="#e3302b"/>
<rect x="96.73" y="572.82" width="13.19" height="7.71" fill="#bdeee8"/>
<rect x="109.88" y="572.82" width="46.06" height="7.71" fill="#e3302b"/>
<rect x="155.89" y="572.82" width="39.48" height="7.71" fill="#bdeee8"/>
<rect x="195.32" y="572.82" width="72.35" height="7.71" fill="#e3302b"/>
<rect x="267.61" y="572.82" width="19.77" height="7.71" fill="#bdeee8"/>
<rect x="287.33" y="572.82" width="26.34" height="7.71" fill="#e3302b"/>
<rect x="313.62" y="572.82" width="46.06" height="7.71" fill="#bdeee8"/>
<rect x="359.63" y="572.82" width="6.62" height="7.71" fill="#e3302b"/>
<rect x="366.2" y="572.82" width="6.62" height="7.71" fill="#bdeee8"/>
<rect x="372.77" y="572.82" width="13.19" height="7.71" fill="#e3302b"/>
<rect x="385.92" y="572.82" width="6.62" height="7.71" fill="#bdeee8"/>
<rect x="392.49" y="572.82" width="13.19" height="7.71" fill="#e3302b"/>
<rect x="405.63" y="572.82" width="13.19" height="7.71" fill="#bdeee8"/>
<rect x="418.78" y="572.82" width="13.19" height="7.71" fill="#e3302b"/>
<rect x="431.92" y="572.82" width="85.49" height="7.71" fill="#bdeee8"/>
<rect x="517.36" y="572.82" width="13.19" height="7.71" fill="#e3302b"/>
<rect x="530.51" y="572.82" width="59.2" height="7.71" fill="#bdeee8"/>
<rect x="589.66" y="572.82" width="26.34" height="7.71" fill="#e3302b"/>
<rect x="615.95" y="572.82" width="13.19" height="7.71" fill="#bdeee8"/>
<rect x="629.09" y="572.82" width="6.62" height="7.71" fill="#e3302b"/>
<rect x="635.67" y="572.82" width="39.48" height="7.71" fill="#bdeee8"/>
<rect x="57.3" y="580.48" width="13.19" height="7.71" fill="#bdbdbd"/>
<rect x="70.44" y="580.48" width="39.48" height="7.71" fill="#000"/>
<rect x="109.88" y="580.48" width="32.91" height="7.71" fill="#bdbdbd"/>
<rect x="142.74" y="580.48" width="13.19" height="7.71" fill="#000"/>
<rect x="155.89" y="580.48" width="98.64" height="7.71" fill="#bdbdbd"/>
<rect x="254.47" y="580.48" width="13.19" height="7.71" fill="#000"/>
<rect x="267.61" y="580.48" width="32.91" height="7.71" fill="#bdbdbd"/>
<rect x="300.48" y="580.48" width="32.91" height="7.71" fill="#000"/>
<rect x="333.34" y="580.48" width="39.48" height="7.71" fill="#bdbdbd"/>
<rect x="372.77" y="580.48" width="13.19" height="7.71" fill="#000"/>
<rect x="385.92" y="580.48" width="19.77" height="7.71" fill="#bdbdbd"/>
<rect x="405.63" y="580.48" width="13.19" height="7.71" fill="#000"/>
<rect x="418.78" y="580.48" width="32.91" height="7.71" fill="#bdbdbd"/>
<rect x="451.64" y="580.48" width="32.91" height="7.71" fill="#000"/>
<rect x="484.5" y="580.48" width="19.77" height="7.71" fill="#bdbdbd"/>
<rect x="504.22" y="580.48" width="13.19" height="7.71" fill="#000"/>
<rect x="517.36" y="580.48" width="13.19" height="7.71" fill="#bdbdbd"/>
<rect x="530.51" y="580.48" width="59.2" height="7.71" fill="#000"/>
<rect x="589.66" y="580.48" width="39.48" height="7.71" fill="#bdbdbd"/>
<rect x="629.09" y="580.48" width="6.62" height="7.71" fill="#000"/>
<rect x="635.67" y="580.48" width="6.62" height="7.71" fill="#bdbdbd"/>
<rect x="642.24" y="580.48" width="26.34" height="7.71" fill="#000"/>
<rect x="668.53" y="580.48" width="6.62" height="7.71" fill="#bdbdbd"/>
<rect x="57.3" y="588.14" width="315.52" height="7.71" fill="#978bcb"/>
<rect x="372.77" y="588.14" width="302.38" height="7.71" fill="#e5a14b"/>
<text transform="translate(54.3 564.1) scale(1.06 1)" font-size="8.2" text-anchor="end" fill="#222">Biopsy type</text>
<text transform="translate(54.3 571.76) scale(1.06 1)" font-size="8.2" text-anchor="end" fill="#222">FL classifier</text>
<text transform="translate(54.3 579.42) scale(1.02 1)" font-size="8.2" text-anchor="end" fill="#222">CREBBP KAT</text>
<text transform="translate(54.3 587.08) scale(1.06 1)" font-size="8.2" text-anchor="end" fill="#222">POD24</text>
<text transform="translate(54.3 594.74) scale(1.06 1)" font-size="8.2" text-anchor="end" fill="#222">Group</text>
<text x="299.8" y="610.2" font-size="9.6" fill="#222" textLength="58.3" lengthAdjust="spacingAndGlyphs">Biopsy type</text>
<rect x="299.8" y="614.4" width="9" height="7.8" fill="#3f9a89"/>
<text x="312.5" y="620.9" font-size="7.9" fill="#222" textLength="74.5" lengthAdjust="spacingAndGlyphs">FL - pre-treatment</text>
<rect x="299.8" y="623.4" width="9" height="8" fill="#efb0b0"/>
<text x="311.8" y="630.1" font-size="7.9" fill="#222" textLength="48.9" lengthAdjust="spacingAndGlyphs">FL - relapse</text>
<rect x="299.8" y="632.3" width="9" height="8.7" fill="#6c4bb0"/>
<text x="311.5" y="640.3" font-size="7.9" fill="#222" textLength="48" lengthAdjust="spacingAndGlyphs">tFL/ DLBCL</text>
<text x="299.8" y="655.9" font-size="9.6" fill="#222" textLength="35.8" lengthAdjust="spacingAndGlyphs">POD24</text>
<rect x="299.8" y="659" width="9" height="9.1" fill="#999"/>
<text x="312.4" y="666.6" font-size="9" fill="#111" textLength="11.9" lengthAdjust="spacingAndGlyphs">no</text>
<rect x="299.8" y="669.5" width="9" height="9.1" fill="#1a1a1a"/>
<text x="312.4" y="677.2" font-size="9" fill="#111" textLength="16.5" lengthAdjust="spacingAndGlyphs">yes</text>
<text x="403.5" y="610" font-size="9.6" fill="#222" textLength="59.7" lengthAdjust="spacingAndGlyphs">FL classifier</text>
<rect x="403" y="613.8" width="8.9" height="9" fill="#b8e9e4"/>
<text x="415.1" y="621.6" font-size="9" fill="#111" textLength="18.6" lengthAdjust="spacingAndGlyphs">dFL</text>
<rect x="403" y="624.3" width="8.9" height="9.2" fill="#dd4b70"/>
<text x="415.1" y="632.6" font-size="9" fill="#111" textLength="17.9" lengthAdjust="spacingAndGlyphs">cFL</text>
<text x="403.5" y="656.2" font-size="9.6" fill="#222" textLength="30.6" lengthAdjust="spacingAndGlyphs">Group</text>
<rect x="403" y="659" width="8.9" height="9.1" fill="#8f84c8"/>
<text x="415.1" y="666.6" font-size="9" fill="#111" textLength="18.6" lengthAdjust="spacingAndGlyphs">nFL</text>
<rect x="403" y="669.5" width="8.9" height="9.1" fill="#e5a14b"/>
<text x="415.1" y="677.3" font-size="9" fill="#111" textLength="15.4" lengthAdjust="spacingAndGlyphs">tFL</text>
<text x="498.5" y="610" font-size="9.6" fill="#222" textLength="71.2" lengthAdjust="spacingAndGlyphs">CREBBP KAT</text>
<rect x="498.5" y="613.7" width="8.2" height="8.5" fill="#7cd5d7"/>
<text x="510.8" y="620.8" font-size="9" fill="#111" textLength="12.4" lengthAdjust="spacingAndGlyphs">no</text>
<rect x="498.5" y="624.2" width="8.2" height="8.5" fill="#e3302b"/>
<text x="510.8" y="630.3" font-size="9" fill="#111" textLength="17" lengthAdjust="spacingAndGlyphs">yes</text>
<text x="605.3" y="610" font-size="9.6" fill="#222" textLength="67.7" lengthAdjust="spacingAndGlyphs">Mutation type</text>
<rect x="606.1" y="612.8" width="9.7" height="8.95" fill="#e23fa0"/>
<text x="619.5" y="619.3" font-size="7.2" fill="#222" textLength="36.2" lengthAdjust="spacingAndGlyphs">Frameshift</text>
<rect x="606.1" y="621.72" width="9.7" height="8.95" fill="#b4282f"/>
<text x="619.5" y="628.36" font-size="7.2" fill="#222" textLength="34.2" lengthAdjust="spacingAndGlyphs">Nonsense</text>
<rect x="606.1" y="630.64" width="9.7" height="8.95" fill="#373d80"/>
<text x="619.5" y="637.42" font-size="7.2" fill="#222" textLength="34.7" lengthAdjust="spacingAndGlyphs">Splice site</text>
<rect x="606.1" y="639.56" width="9.7" height="8.95" fill="#4db48b"/>
<text x="619.5" y="646.48" font-size="7.2" fill="#222" textLength="27.9" lengthAdjust="spacingAndGlyphs">In frame</text>
<rect x="606.1" y="648.48" width="9.7" height="8.95" fill="#7373bb"/>
<text x="619.5" y="655.54" font-size="7.2" fill="#222" textLength="51.8" lengthAdjust="spacingAndGlyphs">Translation site</text>
<rect x="606.1" y="657.4" width="9.7" height="8.95" fill="#6cb844"/>
<text x="619.5" y="664.6" font-size="7.2" fill="#222" textLength="32.8" lengthAdjust="spacingAndGlyphs">Missense</text>
<text x="96.6" y="631.8" font-size="10.7" fill="#222" textLength="56.6" lengthAdjust="spacingAndGlyphs">tFL vs. nFL</text>
<text x="54.4" y="646" font-size="8.6" fill="#222" textLength="47" lengthAdjust="spacingAndGlyphs">Unified data</text>
<text x="134.2" y="646" font-size="8.6" fill="#222" textLength="89" lengthAdjust="spacingAndGlyphs">pre-treatment biopsies</text>
<line x1="56.2" y1="655.9" x2="85.77" y2="655.9" stroke="#e9a052" stroke-width="1.1"/>
<line x1="62.04" y1="654.65" x2="62.04" y2="657.15" stroke="#1c1c1c" stroke-width="1.25"/>
<text x="51.5" y="658.2" font-size="6.7" text-anchor="end" fill="#444" font-style="italic">KMT2D</text>
<line x1="56.2" y1="662.18" x2="85.77" y2="662.18" stroke="#e9a052" stroke-width="1.1"/>
<line x1="62.04" y1="660.93" x2="62.04" y2="663.43" stroke="#1c1c1c" stroke-width="1.25"/>
<text x="51.5" y="664.48" font-size="6.7" text-anchor="end" fill="#444" font-style="italic">CREBBP</text>
<line x1="56.93" y1="668.46" x2="84.85" y2="668.46" stroke="#e9a052" stroke-width="1.1"/>
<line x1="62.96" y1="667.21" x2="62.96" y2="669.71" stroke="#1c1c1c" stroke-width="1.25"/>
<text x="51.5" y="670.76" font-size="6.7" text-anchor="end" fill="#444" font-style="italic">TNFRSF14</text>
<line x1="58.03" y1="674.74" x2="98.54" y2="674.74" stroke="#1a1a1a" stroke-width="1.1"/>
<path d="M97.04 673.59 L98.74 674.74 L97.04 675.89" fill="none" stroke="#2a2a2a" stroke-width="0.6"/>
<line x1="68.61" y1="673.49" x2="68.61" y2="675.99" stroke="#1c1c1c" stroke-width="1.25"/>
<text x="51.5" y="677.04" font-size="6.7" text-anchor="end" fill="#444" font-style="italic">RBMXL3</text>
<line x1="55.66" y1="681.02" x2="64.78" y2="681.02" stroke="#e9a052" stroke-width="1.1"/>
<line x1="56.93" y1="679.77" x2="56.93" y2="682.27" stroke="#1c1c1c" stroke-width="1.25"/>
<text x="51.5" y="683.32" font-size="6.7" text-anchor="end" fill="#444" font-style="italic">EZH2</text>
<line x1="58.03" y1="687.3" x2="98.54" y2="687.3" stroke="#8888d8" stroke-width="1.1"/>
<path d="M97.04 686.15 L98.74 687.3 L97.04 688.45" fill="none" stroke="#2a2a2a" stroke-width="0.6"/>
<line x1="71.72" y1="686.05" x2="71.72" y2="688.55" stroke="#1c1c1c" stroke-width="1.25"/>
<text x="51.5" y="689.6" font-size="6.7" text-anchor="end" fill="#444" font-style="italic">BCL7A</text>
<line x1="58.03" y1="693.58" x2="98.54" y2="693.58" stroke="#8888d8" stroke-width="1.1"/>
<path d="M97.04 692.43 L98.74 693.58 L97.04 694.73" fill="none" stroke="#2a2a2a" stroke-width="0.6"/>
<line x1="72.45" y1="692.33" x2="72.45" y2="694.83" stroke="#1c1c1c" stroke-width="1.25"/>
<text x="51.5" y="695.88" font-size="6.7" text-anchor="end" fill="#444" font-style="italic">EP300</text>
<line x1="56.2" y1="699.86" x2="87.04" y2="699.86" stroke="#e9a052" stroke-width="1.1"/>
<line x1="60.77" y1="698.61" x2="60.77" y2="701.11" stroke="#1c1c1c" stroke-width="1.25"/>
<text x="51.5" y="702.16" font-size="6.7" text-anchor="end" fill="#444" font-style="italic">ARMCX4</text>
<line x1="56.57" y1="706.14" x2="98.54" y2="706.14" stroke="#e9a052" stroke-width="1.1"/>
<path d="M97.04 704.99 L98.74 706.14 L97.04 707.29" fill="none" stroke="#2a2a2a" stroke-width="0.6"/>
<line x1="65.15" y1="704.89" x2="65.15" y2="707.39" stroke="#1c1c1c" stroke-width="1.25"/>
<text x="51.5" y="708.44" font-size="6.7" text-anchor="end" fill="#444" font-style="italic">ARID1A</text>
<line x1="56.93" y1="712.42" x2="98.54" y2="712.42" stroke="#1a1a1a" stroke-width="1.1"/>
<path d="M97.04 711.27 L98.74 712.42 L97.04 713.57" fill="none" stroke="#2a2a2a" stroke-width="0.6"/>
<line x1="68.61" y1="711.17" x2="68.61" y2="713.67" stroke="#1c1c1c" stroke-width="1.25"/>
<text x="51.5" y="714.72" font-size="6.7" text-anchor="end" fill="#444" font-style="italic">STAT6</text>
<line x1="62.04" y1="718.7" x2="98.54" y2="718.7" stroke="#8888d8" stroke-width="1.1"/>
<path d="M97.04 717.55 L98.74 718.7 L97.04 719.85" fill="none" stroke="#2a2a2a" stroke-width="0.6"/>
<line x1="94.34" y1="717.45" x2="94.34" y2="719.95" stroke="#1c1c1c" stroke-width="1.25"/>
<text x="51.5" y="721" font-size="6.7" text-anchor="end" fill="#444" font-style="italic">RRAGC</text>
<line x1="55.66" y1="724.98" x2="79.01" y2="724.98" stroke="#e9a052" stroke-width="1.1"/>
<line x1="58.76" y1="723.73" x2="58.76" y2="726.23" stroke="#1c1c1c" stroke-width="1.25"/>
<text x="51.5" y="727.28" font-size="6.7" text-anchor="end" fill="#444" font-style="italic">GNA13</text>
<line x1="58.76" y1="731.26" x2="98.54" y2="731.26" stroke="#8888d8" stroke-width="1.1"/>
<path d="M97.04 730.11 L98.74 731.26 L97.04 732.41" fill="none" stroke="#2a2a2a" stroke-width="0.6"/>
<line x1="79.01" y1="730.01" x2="79.01" y2="732.51" stroke="#1c1c1c" stroke-width="1.25"/>
<text x="51.5" y="733.56" font-size="6.7" text-anchor="end" fill="#444" font-style="italic">CTSS</text>
<line x1="56.2" y1="737.54" x2="98.54" y2="737.54" stroke="#e9a052" stroke-width="1.1"/>
<path d="M97.04 736.39 L98.74 737.54 L97.04 738.69" fill="none" stroke="#2a2a2a" stroke-width="0.6"/>
<line x1="64.42" y1="736.29" x2="64.42" y2="738.79" stroke="#1c1c1c" stroke-width="1.25"/>
<text x="51.5" y="739.84" font-size="6.7" text-anchor="end" fill="#444" font-style="italic">TRIOBP</text>
<line x1="57.48" y1="743.82" x2="98.54" y2="743.82" stroke="#8888d8" stroke-width="1.1"/>
<path d="M97.04 742.67 L98.74 743.82 L97.04 744.97" fill="none" stroke="#2a2a2a" stroke-width="0.6"/>
<line x1="73.54" y1="742.57" x2="73.54" y2="745.07" stroke="#1c1c1c" stroke-width="1.25"/>
<text x="51.5" y="746.12" font-size="6.7" text-anchor="end" fill="#444" font-style="italic">TP53</text>
<line x1="56.2" y1="750.1" x2="98.54" y2="750.1" stroke="#e9a052" stroke-width="1.1"/>
<path d="M97.04 748.95 L98.74 750.1 L97.04 751.25" fill="none" stroke="#2a2a2a" stroke-width="0.6"/>
<line x1="64.42" y1="748.85" x2="64.42" y2="751.35" stroke="#1c1c1c" stroke-width="1.25"/>
<text x="51.5" y="752.4" font-size="6.7" text-anchor="end" fill="#444" font-style="italic">MEF2B</text>
<line x1="55.66" y1="756.38" x2="77.92" y2="756.38" stroke="#e9a052" stroke-width="1.1"/>
<line x1="57.48" y1="755.13" x2="57.48" y2="757.63" stroke="#1c1c1c" stroke-width="1.25"/>
<text x="51.5" y="758.68" font-size="6.7" text-anchor="end" fill="#444" font-style="italic">TUBGCP6</text>
<line x1="58.39" y1="762.66" x2="98.54" y2="762.66" stroke="#8888d8" stroke-width="1.1"/>
<path d="M97.04 761.51 L98.74 762.66 L97.04 763.81" fill="none" stroke="#2a2a2a" stroke-width="0.6"/>
<line x1="83.58" y1="761.41" x2="83.58" y2="763.91" stroke="#1c1c1c" stroke-width="1.25"/>
<text x="51.5" y="764.96" font-size="6.7" text-anchor="end" fill="#444" font-style="italic">TBL1XR1</text>
<line x1="55.66" y1="768.94" x2="98.54" y2="768.94" stroke="#e9a052" stroke-width="1.1"/>
<path d="M97.04 767.79 L98.74 768.94 L97.04 770.09" fill="none" stroke="#2a2a2a" stroke-width="0.6"/>
<line x1="61.5" y1="767.69" x2="61.5" y2="770.19" stroke="#1c1c1c" stroke-width="1.25"/>
<text x="51.5" y="771.24" font-size="6.7" text-anchor="end" fill="#444" font-style="italic">SOCS1</text>
<line x1="56.2" y1="775.22" x2="98.54" y2="775.22" stroke="#1a1a1a" stroke-width="1.1"/>
<path d="M97.04 774.07 L98.74 775.22 L97.04 776.37" fill="none" stroke="#2a2a2a" stroke-width="0.6"/>
<line x1="68.61" y1="773.97" x2="68.61" y2="776.47" stroke="#1c1c1c" stroke-width="1.25"/>
<text x="51.5" y="777.52" font-size="6.7" text-anchor="end" fill="#444" font-style="italic">HIST1H1D</text>
<line x1="58.39" y1="781.5" x2="98.54" y2="781.5" stroke="#8888d8" stroke-width="1.1"/>
<path d="M97.04 780.35 L98.74 781.5 L97.04 782.65" fill="none" stroke="#2a2a2a" stroke-width="0.6"/>
<line x1="83.58" y1="780.25" x2="83.58" y2="782.75" stroke="#1c1c1c" stroke-width="1.25"/>
<text x="51.5" y="783.8" font-size="6.7" text-anchor="end" fill="#444" font-style="italic">ESX1</text>
<line x1="55.66" y1="787.78" x2="98.54" y2="787.78" stroke="#e9a052" stroke-width="1.1"/>
<path d="M97.04 786.63 L98.74 787.78 L97.04 788.93" fill="none" stroke="#2a2a2a" stroke-width="0.6"/>
<line x1="61.5" y1="786.53" x2="61.5" y2="789.03" stroke="#1c1c1c" stroke-width="1.25"/>
<text x="51.5" y="790.08" font-size="6.7" text-anchor="end" fill="#444" font-style="italic">CDHR5</text>
<line x1="58.39" y1="794.06" x2="98.54" y2="794.06" stroke="#8888d8" stroke-width="1.1"/>
<path d="M97.04 792.91 L98.74 794.06 L97.04 795.21" fill="none" stroke="#2a2a2a" stroke-width="0.6"/>
<line x1="83.58" y1="792.81" x2="83.58" y2="795.31" stroke="#1c1c1c" stroke-width="1.25"/>
<text x="51.5" y="796.36" font-size="6.7" text-anchor="end" fill="#444" font-style="italic">ATP6V1B2</text>
<line x1="55.66" y1="800.34" x2="98.54" y2="800.34" stroke="#e9a052" stroke-width="1.1"/>
<path d="M97.04 799.19 L98.74 800.34 L97.04 801.49" fill="none" stroke="#2a2a2a" stroke-width="0.6"/>
<line x1="63.5" y1="799.09" x2="63.5" y2="801.59" stroke="#1c1c1c" stroke-width="1.25"/>
<text x="51.5" y="802.64" font-size="6.7" text-anchor="end" fill="#444" font-style="italic">ZNF493</text>
<line x1="55.66" y1="806.62" x2="98.54" y2="806.62" stroke="#e9a052" stroke-width="1.1"/>
<path d="M97.04 805.47 L98.74 806.62 L97.04 807.77" fill="none" stroke="#2a2a2a" stroke-width="0.6"/>
<line x1="63.5" y1="805.37" x2="63.5" y2="807.87" stroke="#1c1c1c" stroke-width="1.25"/>
<text x="51.5" y="808.92" font-size="6.7" text-anchor="end" fill="#444" font-style="italic">TNFAIP3</text>
<line x1="55.66" y1="812.9" x2="88.14" y2="812.9" stroke="#e9a052" stroke-width="1.1"/>
<line x1="58.03" y1="811.65" x2="58.03" y2="814.15" stroke="#1c1c1c" stroke-width="1.25"/>
<text x="51.5" y="815.2" font-size="6.7" text-anchor="end" fill="#444" font-style="italic">POU2F2</text>
<line x1="55.66" y1="819.18" x2="98.54" y2="819.18" stroke="#e9a052" stroke-width="1.1"/>
<path d="M97.04 818.03 L98.74 819.18 L97.04 820.33" fill="none" stroke="#2a2a2a" stroke-width="0.6"/>
<line x1="63.5" y1="817.93" x2="63.5" y2="820.43" stroke="#1c1c1c" stroke-width="1.25"/>
<text x="51.5" y="821.48" font-size="6.7" text-anchor="end" fill="#444" font-style="italic">DMBT1</text>
<line x1="55.66" y1="825.46" x2="98.54" y2="825.46" stroke="#e9a052" stroke-width="1.1"/>
<path d="M97.04 824.31 L98.74 825.46 L97.04 826.61" fill="none" stroke="#2a2a2a" stroke-width="0.6"/>
<line x1="63.5" y1="824.21" x2="63.5" y2="826.71" stroke="#1c1c1c" stroke-width="1.25"/>
<text x="51.5" y="827.76" font-size="6.7" text-anchor="end" fill="#444" font-style="italic">BTK</text>
<line x1="55.66" y1="831.74" x2="98.54" y2="831.74" stroke="#e9a052" stroke-width="1.1"/>
<path d="M97.04 830.59 L98.74 831.74 L97.04 832.89" fill="none" stroke="#2a2a2a" stroke-width="0.6"/>
<line x1="59.31" y1="830.49" x2="59.31" y2="832.99" stroke="#1c1c1c" stroke-width="1.25"/>
<text x="51.5" y="834.04" font-size="6.7" text-anchor="end" fill="#444" font-style="italic">SRSF2</text>
<line x1="55.66" y1="838.02" x2="98.54" y2="838.02" stroke="#e9a052" stroke-width="1.1"/>
<path d="M97.04 836.87 L98.74 838.02 L97.04 839.17" fill="none" stroke="#2a2a2a" stroke-width="0.6"/>
<line x1="59.31" y1="836.77" x2="59.31" y2="839.27" stroke="#1c1c1c" stroke-width="1.25"/>
<text x="51.5" y="840.32" font-size="6.7" text-anchor="end" fill="#444" font-style="italic">POTEH</text>
<line x1="55.66" y1="844.3" x2="98.54" y2="844.3" stroke="#e9a052" stroke-width="1.1"/>
<path d="M97.04 843.15 L98.74 844.3 L97.04 845.45" fill="none" stroke="#2a2a2a" stroke-width="0.6"/>
<line x1="59.31" y1="843.05" x2="59.31" y2="845.55" stroke="#1c1c1c" stroke-width="1.25"/>
<text x="51.5" y="846.6" font-size="6.7" text-anchor="end" fill="#444" font-style="italic">PEX5L</text>
<line x1="56.2" y1="850.58" x2="98.54" y2="850.58" stroke="#1a1a1a" stroke-width="1.1"/>
<path d="M97.04 849.43 L98.74 850.58 L97.04 851.73" fill="none" stroke="#2a2a2a" stroke-width="0.6"/>
<line x1="68.61" y1="849.33" x2="68.61" y2="851.83" stroke="#1c1c1c" stroke-width="1.25"/>
<text x="51.5" y="852.88" font-size="6.7" text-anchor="end" fill="#444" font-style="italic">MYD88</text>
<line x1="58.03" y1="856.86" x2="98.54" y2="856.86" stroke="#8888d8" stroke-width="1.1"/>
<path d="M97.04 855.71 L98.74 856.86 L97.04 858.01" fill="none" stroke="#2a2a2a" stroke-width="0.6"/>
<line x1="94.53" y1="855.61" x2="94.53" y2="858.11" stroke="#1c1c1c" stroke-width="1.25"/>
<text x="51.5" y="859.16" font-size="6.7" text-anchor="end" fill="#444" font-style="italic">HNRNPU</text>
<line x1="56.2" y1="863.14" x2="98.54" y2="863.14" stroke="#1a1a1a" stroke-width="1.1"/>
<path d="M97.04 861.99 L98.74 863.14 L97.04 864.29" fill="none" stroke="#2a2a2a" stroke-width="0.6"/>
<line x1="68.61" y1="861.89" x2="68.61" y2="864.39" stroke="#1c1c1c" stroke-width="1.25"/>
<text x="51.5" y="865.44" font-size="6.7" text-anchor="end" fill="#444" font-style="italic">HLA−B</text>
<line x1="58.03" y1="869.42" x2="98.54" y2="869.42" stroke="#8888d8" stroke-width="1.1"/>
<path d="M97.04 868.27 L98.74 869.42 L97.04 870.57" fill="none" stroke="#2a2a2a" stroke-width="0.6"/>
<line x1="94.53" y1="868.17" x2="94.53" y2="870.67" stroke="#1c1c1c" stroke-width="1.25"/>
<text x="51.5" y="871.72" font-size="6.7" text-anchor="end" fill="#444" font-style="italic">GNAI2</text>
<line x1="55.29" y1="875.7" x2="98.54" y2="875.7" stroke="#e9a052" stroke-width="1.1"/>
<path d="M97.04 874.55 L98.74 875.7 L97.04 876.85" fill="none" stroke="#2a2a2a" stroke-width="0.6"/>
<line x1="59.31" y1="874.45" x2="59.31" y2="876.95" stroke="#1c1c1c" stroke-width="1.25"/>
<text x="51.5" y="878" font-size="6.7" text-anchor="end" fill="#444" font-style="italic">CCND3</text>
<line x1="55.29" y1="881.98" x2="98.54" y2="881.98" stroke="#e9a052" stroke-width="1.1"/>
<path d="M97.04 880.83 L98.74 881.98 L97.04 883.13" fill="none" stroke="#2a2a2a" stroke-width="0.6"/>
<line x1="59.31" y1="880.73" x2="59.31" y2="883.23" stroke="#1c1c1c" stroke-width="1.25"/>
<text x="51.5" y="884.28" font-size="6.7" text-anchor="end" fill="#444" font-style="italic">B2M</text>
<line x1="55.29" y1="888.26" x2="85.77" y2="888.26" stroke="#e9a052" stroke-width="1.1"/>
<line x1="55.66" y1="887.01" x2="55.66" y2="889.51" stroke="#1c1c1c" stroke-width="1.25"/>
<text x="51.5" y="890.56" font-size="6.7" text-anchor="end" fill="#444" font-style="italic">ZNF708</text>
<line x1="60.22" y1="894.54" x2="98.54" y2="894.54" stroke="#8888d8" stroke-width="1.1"/>
<path d="M97.04 893.39 L98.74 894.54 L97.04 895.69" fill="none" stroke="#2a2a2a" stroke-width="0.6"/>
<line x1="94.53" y1="893.29" x2="94.53" y2="895.79" stroke="#1c1c1c" stroke-width="1.25"/>
<text x="51.5" y="896.84" font-size="6.7" text-anchor="end" fill="#444" font-style="italic">VPS39</text>
<line x1="55.29" y1="900.82" x2="98.54" y2="900.82" stroke="#e9a052" stroke-width="1.1"/>
<path d="M97.04 899.67 L98.74 900.82 L97.04 901.97" fill="none" stroke="#2a2a2a" stroke-width="0.6"/>
<line x1="61.5" y1="899.57" x2="61.5" y2="902.07" stroke="#1c1c1c" stroke-width="1.25"/>
<text x="51.5" y="903.12" font-size="6.7" text-anchor="end" fill="#444" font-style="italic">VMA21</text>
<line x1="55.29" y1="907.1" x2="98.54" y2="907.1" stroke="#e9a052" stroke-width="1.1"/>
<path d="M97.04 905.95 L98.74 907.1 L97.04 908.25" fill="none" stroke="#2a2a2a" stroke-width="0.6"/>
<line x1="61.5" y1="905.85" x2="61.5" y2="908.35" stroke="#1c1c1c" stroke-width="1.25"/>
<text x="51.5" y="909.4" font-size="6.7" text-anchor="end" fill="#444" font-style="italic">STAT3</text>
<line x1="56.2" y1="913.38" x2="98.54" y2="913.38" stroke="#8888d8" stroke-width="1.1"/>
<path d="M97.04 912.23 L98.74 913.38 L97.04 914.53" fill="none" stroke="#2a2a2a" stroke-width="0.6"/>
<line x1="82.12" y1="912.13" x2="82.12" y2="914.63" stroke="#1c1c1c" stroke-width="1.25"/>
<text x="51.5" y="915.68" font-size="6.7" text-anchor="end" fill="#444" font-style="italic">HLA−A</text>
<line x1="55.29" y1="919.66" x2="98.54" y2="919.66" stroke="#e9a052" stroke-width="1.1"/>
<path d="M97.04 918.51 L98.74 919.66 L97.04 920.81" fill="none" stroke="#2a2a2a" stroke-width="0.6"/>
<line x1="61.5" y1="918.41" x2="61.5" y2="920.91" stroke="#1c1c1c" stroke-width="1.25"/>
<text x="51.5" y="921.96" font-size="6.7" text-anchor="end" fill="#444" font-style="italic">GET4</text>
<line x1="56.2" y1="925.94" x2="98.54" y2="925.94" stroke="#8888d8" stroke-width="1.1"/>
<path d="M97.04 924.79 L98.74 925.94 L97.04 927.09" fill="none" stroke="#2a2a2a" stroke-width="0.6"/>
<line x1="82.12" y1="924.69" x2="82.12" y2="927.19" stroke="#1c1c1c" stroke-width="1.25"/>
<text x="51.5" y="928.24" font-size="6.7" text-anchor="end" fill="#444" font-style="italic">FAS</text>
<line x1="55.29" y1="932.22" x2="85.77" y2="932.22" stroke="#e9a052" stroke-width="1.1"/>
<line x1="55.66" y1="930.97" x2="55.66" y2="933.47" stroke="#1c1c1c" stroke-width="1.25"/>
<text x="51.5" y="934.52" font-size="6.7" text-anchor="end" fill="#444" font-style="italic">DIO2</text>
<line x1="55.29" y1="938.5" x2="85.77" y2="938.5" stroke="#e9a052" stroke-width="1.1"/>
<line x1="55.66" y1="937.25" x2="55.66" y2="939.75" stroke="#1c1c1c" stroke-width="1.25"/>
<text x="51.5" y="940.8" font-size="6.7" text-anchor="end" fill="#444" font-style="italic">CPT1C</text>
<line x1="55.29" y1="944.78" x2="98.54" y2="944.78" stroke="#1a1a1a" stroke-width="1.1"/>
<path d="M97.04 943.63 L98.74 944.78 L97.04 945.93" fill="none" stroke="#2a2a2a" stroke-width="0.6"/>
<line x1="68.61" y1="943.53" x2="68.61" y2="946.03" stroke="#1c1c1c" stroke-width="1.25"/>
<text x="51.5" y="947.08" font-size="6.7" text-anchor="end" fill="#444" font-style="italic">S1PR2</text>
<line x1="55.29" y1="951.06" x2="98.54" y2="951.06" stroke="#1a1a1a" stroke-width="1.1"/>
<path d="M97.04 949.91 L98.74 951.06 L97.04 952.21" fill="none" stroke="#2a2a2a" stroke-width="0.6"/>
<line x1="68.61" y1="949.81" x2="68.61" y2="952.31" stroke="#1c1c1c" stroke-width="1.25"/>
<text x="51.5" y="953.36" font-size="6.7" text-anchor="end" fill="#444" font-style="italic">MS4A1</text>
<line x1="55.29" y1="957.34" x2="98.54" y2="957.34" stroke="#1a1a1a" stroke-width="1.1"/>
<path d="M97.04 956.19 L98.74 957.34 L97.04 958.49" fill="none" stroke="#2a2a2a" stroke-width="0.6"/>
<line x1="68.61" y1="956.09" x2="68.61" y2="958.59" stroke="#1c1c1c" stroke-width="1.25"/>
<text x="51.5" y="959.64" font-size="6.7" text-anchor="end" fill="#444" font-style="italic">IL4R</text>
<line x1="57.12" y1="963.62" x2="98.54" y2="963.62" stroke="#8888d8" stroke-width="1.1"/>
<path d="M97.04 962.47 L98.74 963.62 L97.04 964.77" fill="none" stroke="#2a2a2a" stroke-width="0.6"/>
<line x1="94.53" y1="962.37" x2="94.53" y2="964.87" stroke="#1c1c1c" stroke-width="1.25"/>
<text x="51.5" y="965.92" font-size="6.7" text-anchor="end" fill="#444" font-style="italic">CDH9</text>
<line x1="55.29" y1="969.9" x2="98.54" y2="969.9" stroke="#1a1a1a" stroke-width="1.1"/>
<path d="M97.04 968.75 L98.74 969.9 L97.04 971.05" fill="none" stroke="#2a2a2a" stroke-width="0.6"/>
<line x1="68.61" y1="968.65" x2="68.61" y2="971.15" stroke="#1c1c1c" stroke-width="1.25"/>
<text x="51.5" y="972.2" font-size="6.7" text-anchor="end" fill="#444" font-style="italic">CBLB</text>
<line x1="68.6" y1="638.5" x2="68.6" y2="977" stroke="#8c8c8c" stroke-width="0.75" stroke-dasharray="4 3.65"/>
<text x="55.3" y="984.2" font-size="7.6" text-anchor="middle" fill="#222">0</text>
<text x="68.6" y="984.2" font-size="7.6" text-anchor="middle" fill="#222">1</text>
<text x="80.9" y="984.2" font-size="7.6" text-anchor="middle" fill="#222">2</text>
<text x="93.4" y="984.2" font-size="7.6" text-anchor="middle" fill="#222">3</text>
<text x="73" y="994.8" font-size="9.4" text-anchor="middle" fill="#222">Odds Ratio</text>
<line x1="167.01" y1="655.9" x2="208.98" y2="655.9" stroke="#e9a052" stroke-width="1.1"/>
<path d="M207.48 654.75 L209.18 655.9 L207.48 657.05" fill="none" stroke="#2a2a2a" stroke-width="0.6"/>
<line x1="174.67" y1="654.65" x2="174.67" y2="657.15" stroke="#1c1c1c" stroke-width="1.25"/>
<text x="159" y="658.2" font-size="6.7" text-anchor="end" fill="#444" font-style="italic">KMT2D</text>
<line x1="167.01" y1="662.06" x2="208.98" y2="662.06" stroke="#e9a052" stroke-width="1.1"/>
<path d="M207.48 660.91 L209.18 662.06 L207.48 663.21" fill="none" stroke="#2a2a2a" stroke-width="0.6"/>
<line x1="174.67" y1="660.81" x2="174.67" y2="663.31" stroke="#1c1c1c" stroke-width="1.25"/>
<text x="159" y="664.36" font-size="6.7" text-anchor="end" fill="#444" font-style="italic">CREBBP</text>
<line x1="166.09" y1="668.21" x2="187.99" y2="668.21" stroke="#e9a052" stroke-width="1.1"/>
<line x1="170.29" y1="666.96" x2="170.29" y2="669.46" stroke="#1c1c1c" stroke-width="1.25"/>
<text x="159" y="670.51" font-size="6.7" text-anchor="end" fill="#444" font-style="italic">TNFRSF14</text>
<line x1="167.01" y1="674.37" x2="208.98" y2="674.37" stroke="#8888d8" stroke-width="1.1"/>
<path d="M207.48 673.22 L209.18 674.37 L207.48 675.52" fill="none" stroke="#2a2a2a" stroke-width="0.6"/>
<line x1="184.89" y1="673.12" x2="184.89" y2="675.62" stroke="#1c1c1c" stroke-width="1.25"/>
<text x="159" y="676.67" font-size="6.7" text-anchor="end" fill="#444" font-style="italic">RBMXL3</text>
<line x1="165.73" y1="680.53" x2="177.04" y2="680.53" stroke="#e9a052" stroke-width="1.1"/>
<line x1="167.01" y1="679.28" x2="167.01" y2="681.78" stroke="#1c1c1c" stroke-width="1.25"/>
<text x="159" y="682.83" font-size="6.7" text-anchor="end" fill="#444" font-style="italic">EZH2</text>
<line x1="166.09" y1="686.68" x2="208.98" y2="686.68" stroke="#e9a052" stroke-width="1.1"/>
<path d="M207.48 685.53 L209.18 686.68 L207.48 687.83" fill="none" stroke="#2a2a2a" stroke-width="0.6"/>
<line x1="172.12" y1="685.43" x2="172.12" y2="687.93" stroke="#1c1c1c" stroke-width="1.25"/>
<text x="159" y="688.98" font-size="6.7" text-anchor="end" fill="#444" font-style="italic">BCL7A</text>
<line x1="167.01" y1="692.84" x2="208.98" y2="692.84" stroke="#e9a052" stroke-width="1.1"/>
<path d="M207.48 691.69 L209.18 692.84 L207.48 693.99" fill="none" stroke="#2a2a2a" stroke-width="0.6"/>
<line x1="177.59" y1="691.59" x2="177.59" y2="694.09" stroke="#1c1c1c" stroke-width="1.25"/>
<text x="159" y="695.14" font-size="6.7" text-anchor="end" fill="#444" font-style="italic">EP300</text>
<line x1="165.73" y1="699" x2="194.74" y2="699" stroke="#e9a052" stroke-width="1.1"/>
<line x1="166.09" y1="697.75" x2="166.09" y2="700.25" stroke="#1c1c1c" stroke-width="1.25"/>
<text x="159" y="701.3" font-size="6.7" text-anchor="end" fill="#444" font-style="italic">ARMCX4</text>
<line x1="166.64" y1="705.16" x2="208.98" y2="705.16" stroke="#e9a052" stroke-width="1.1"/>
<path d="M207.48 704.01 L209.18 705.16 L207.48 706.31" fill="none" stroke="#2a2a2a" stroke-width="0.6"/>
<line x1="174.31" y1="703.91" x2="174.31" y2="706.41" stroke="#1c1c1c" stroke-width="1.25"/>
<text x="159" y="707.46" font-size="6.7" text-anchor="end" fill="#444" font-style="italic">ARID1A</text>
<line x1="166.64" y1="711.31" x2="208.98" y2="711.31" stroke="#e9a052" stroke-width="1.1"/>
<path d="M207.48 710.16 L209.18 711.31 L207.48 712.46" fill="none" stroke="#2a2a2a" stroke-width="0.6"/>
<line x1="174.31" y1="710.06" x2="174.31" y2="712.56" stroke="#1c1c1c" stroke-width="1.25"/>
<text x="159" y="713.61" font-size="6.7" text-anchor="end" fill="#444" font-style="italic">STAT6</text>
<line x1="170.11" y1="717.47" x2="208.98" y2="717.47" stroke="#8888d8" stroke-width="1.1"/>
<path d="M207.48 716.32 L209.18 717.47 L207.48 718.62" fill="none" stroke="#2a2a2a" stroke-width="0.6"/>
<line x1="204.96" y1="716.22" x2="204.96" y2="718.72" stroke="#1c1c1c" stroke-width="1.25"/>
<text x="159" y="719.77" font-size="6.7" text-anchor="end" fill="#444" font-style="italic">RRAGC</text>
<line x1="166.09" y1="723.63" x2="208.98" y2="723.63" stroke="#e9a052" stroke-width="1.1"/>
<path d="M207.48 722.48 L209.18 723.63 L207.48 724.78" fill="none" stroke="#2a2a2a" stroke-width="0.6"/>
<line x1="171.2" y1="722.38" x2="171.2" y2="724.88" stroke="#1c1c1c" stroke-width="1.25"/>
<text x="159" y="725.93" font-size="6.7" text-anchor="end" fill="#444" font-style="italic">GNA13</text>
<line x1="166.09" y1="729.78" x2="208.98" y2="729.78" stroke="#e9a052" stroke-width="1.1"/>
<path d="M207.48 728.63 L209.18 729.78 L207.48 730.93" fill="none" stroke="#2a2a2a" stroke-width="0.6"/>
<line x1="171.2" y1="728.53" x2="171.2" y2="731.03" stroke="#1c1c1c" stroke-width="1.25"/>
<text x="159" y="732.08" font-size="6.7" text-anchor="end" fill="#444" font-style="italic">CTSS</text>
<line x1="166.09" y1="735.94" x2="208.98" y2="735.94" stroke="#e9a052" stroke-width="1.1"/>
<path d="M207.48 734.79 L209.18 735.94 L207.48 737.09" fill="none" stroke="#2a2a2a" stroke-width="0.6"/>
<line x1="169.74" y1="734.69" x2="169.74" y2="737.19" stroke="#1c1c1c" stroke-width="1.25"/>
<text x="159" y="738.24" font-size="6.7" text-anchor="end" fill="#444" font-style="italic">TRIOBP</text>
<line x1="166.64" y1="742.1" x2="208.98" y2="742.1" stroke="#8888d8" stroke-width="1.1"/>
<path d="M207.48 740.95 L209.18 742.1 L207.48 743.25" fill="none" stroke="#2a2a2a" stroke-width="0.6"/>
<line x1="191.28" y1="740.85" x2="191.28" y2="743.35" stroke="#1c1c1c" stroke-width="1.25"/>
<text x="159" y="744.4" font-size="6.7" text-anchor="end" fill="#444" font-style="italic">TP53</text>
<line x1="166.09" y1="748.25" x2="208.98" y2="748.25" stroke="#e9a052" stroke-width="1.1"/>
<path d="M207.48 747.11 L209.18 748.25 L207.48 749.4" fill="none" stroke="#2a2a2a" stroke-width="0.6"/>
<line x1="173.39" y1="747" x2="173.39" y2="749.5" stroke="#1c1c1c" stroke-width="1.25"/>
<text x="159" y="750.55" font-size="6.7" text-anchor="end" fill="#444" font-style="italic">MEF2B</text>
<line x1="165.73" y1="754.41" x2="208.98" y2="754.41" stroke="#e9a052" stroke-width="1.1"/>
<path d="M207.48 753.26 L209.18 754.41 L207.48 755.56" fill="none" stroke="#2a2a2a" stroke-width="0.6"/>
<line x1="169.74" y1="753.16" x2="169.74" y2="755.66" stroke="#1c1c1c" stroke-width="1.25"/>
<text x="159" y="756.71" font-size="6.7" text-anchor="end" fill="#444" font-style="italic">TUBGCP6</text>
<line x1="165.73" y1="760.57" x2="208.98" y2="760.57" stroke="#8888d8" stroke-width="1.1"/>
<path d="M207.48 759.42 L209.18 760.57 L207.48 761.72" fill="none" stroke="#2a2a2a" stroke-width="0.6"/>
<line x1="204.96" y1="759.32" x2="204.96" y2="761.82" stroke="#1c1c1c" stroke-width="1.25"/>
<text x="159" y="762.87" font-size="6.7" text-anchor="end" fill="#444" font-style="italic">TBL1XR1</text>
<line x1="165.73" y1="766.73" x2="194.74" y2="766.73" stroke="#e9a052" stroke-width="1.1"/>
<line x1="165.73" y1="765.48" x2="165.73" y2="767.98" stroke="#1c1c1c" stroke-width="1.25"/>
<text x="159" y="769.03" font-size="6.7" text-anchor="end" fill="#444" font-style="italic">SOCS1</text>
<line x1="165.73" y1="772.88" x2="208.98" y2="772.88" stroke="#e9a052" stroke-width="1.1"/>
<path d="M207.48 771.73 L209.18 772.88 L207.48 774.03" fill="none" stroke="#2a2a2a" stroke-width="0.6"/>
<line x1="178.32" y1="771.63" x2="178.32" y2="774.13" stroke="#1c1c1c" stroke-width="1.25"/>
<text x="159" y="775.18" font-size="6.7" text-anchor="end" fill="#444" font-style="italic">HIST1H1D</text>
<line x1="165.73" y1="779.04" x2="208.98" y2="779.04" stroke="#e9a052" stroke-width="1.1"/>
<path d="M207.48 777.89 L209.18 779.04 L207.48 780.19" fill="none" stroke="#2a2a2a" stroke-width="0.6"/>
<line x1="165.73" y1="777.79" x2="165.73" y2="780.29" stroke="#1c1c1c" stroke-width="1.25"/>
<text x="159" y="781.34" font-size="6.7" text-anchor="end" fill="#444" font-style="italic">ESX1</text>
<line x1="165.73" y1="785.2" x2="208.98" y2="785.2" stroke="#e9a052" stroke-width="1.1"/>
<path d="M207.48 784.05 L209.18 785.2 L207.48 786.35" fill="none" stroke="#2a2a2a" stroke-width="0.6"/>
<line x1="171.57" y1="783.95" x2="171.57" y2="786.45" stroke="#1c1c1c" stroke-width="1.25"/>
<text x="159" y="787.5" font-size="6.7" text-anchor="end" fill="#444" font-style="italic">CDHR5</text>
<line x1="168.83" y1="791.35" x2="208.98" y2="791.35" stroke="#8888d8" stroke-width="1.1"/>
<path d="M207.48 790.2 L209.18 791.35 L207.48 792.5" fill="none" stroke="#2a2a2a" stroke-width="0.6"/>
<line x1="193.1" y1="790.1" x2="193.1" y2="792.6" stroke="#1c1c1c" stroke-width="1.25"/>
<text x="159" y="793.65" font-size="6.7" text-anchor="end" fill="#444" font-style="italic">ATP6V1B2</text>
<line x1="165.73" y1="797.51" x2="208.98" y2="797.51" stroke="#e9a052" stroke-width="1.1"/>
<path d="M207.48 796.36 L209.18 797.51 L207.48 798.66" fill="none" stroke="#2a2a2a" stroke-width="0.6"/>
<line x1="165.73" y1="796.26" x2="165.73" y2="798.76" stroke="#1c1c1c" stroke-width="1.25"/>
<text x="159" y="799.81" font-size="6.7" text-anchor="end" fill="#444" font-style="italic">ZNF493</text>
<line x1="165.73" y1="803.67" x2="208.98" y2="803.67" stroke="#8888d8" stroke-width="1.1"/>
<path d="M207.48 802.52 L209.18 803.67 L207.48 804.82" fill="none" stroke="#2a2a2a" stroke-width="0.6"/>
<line x1="204.96" y1="802.42" x2="204.96" y2="804.92" stroke="#1c1c1c" stroke-width="1.25"/>
<text x="159" y="805.97" font-size="6.7" text-anchor="end" fill="#444" font-style="italic">TNFAIP3</text>
<line x1="165.73" y1="809.83" x2="208.98" y2="809.83" stroke="#e9a052" stroke-width="1.1"/>
<path d="M207.48 808.68 L209.18 809.83 L207.48 810.98" fill="none" stroke="#2a2a2a" stroke-width="0.6"/>
<line x1="171.57" y1="808.58" x2="171.57" y2="811.08" stroke="#1c1c1c" stroke-width="1.25"/>
<text x="159" y="812.12" font-size="6.7" text-anchor="end" fill="#444" font-style="italic">POU2F2</text>
<line x1="165.73" y1="815.98" x2="208.98" y2="815.98" stroke="#e9a052" stroke-width="1.1"/>
<path d="M207.48 814.83 L209.18 815.98 L207.48 817.13" fill="none" stroke="#2a2a2a" stroke-width="0.6"/>
<line x1="171.57" y1="814.73" x2="171.57" y2="817.23" stroke="#1c1c1c" stroke-width="1.25"/>
<text x="159" y="818.28" font-size="6.7" text-anchor="end" fill="#444" font-style="italic">DMBT1</text>
<line x1="166.09" y1="822.14" x2="208.98" y2="822.14" stroke="#e9a052" stroke-width="1.1"/>
<path d="M207.48 820.99 L209.18 822.14 L207.48 823.29" fill="none" stroke="#2a2a2a" stroke-width="0.6"/>
<line x1="177.96" y1="820.89" x2="177.96" y2="823.39" stroke="#1c1c1c" stroke-width="1.25"/>
<text x="159" y="824.44" font-size="6.7" text-anchor="end" fill="#444" font-style="italic">BTK</text>
<line x1="165.73" y1="828.3" x2="208.98" y2="828.3" stroke="#e9a052" stroke-width="1.1"/>
<path d="M207.48 827.15 L209.18 828.3 L207.48 829.45" fill="none" stroke="#2a2a2a" stroke-width="0.6"/>
<line x1="171.57" y1="827.05" x2="171.57" y2="829.55" stroke="#1c1c1c" stroke-width="1.25"/>
<text x="159" y="830.6" font-size="6.7" text-anchor="end" fill="#444" font-style="italic">SRSF2</text>
<line x1="165.73" y1="834.45" x2="208.98" y2="834.45" stroke="#e9a052" stroke-width="1.1"/>
<path d="M207.48 833.3 L209.18 834.45 L207.48 835.6" fill="none" stroke="#2a2a2a" stroke-width="0.6"/>
<line x1="165.73" y1="833.2" x2="165.73" y2="835.7" stroke="#1c1c1c" stroke-width="1.25"/>
<text x="159" y="836.75" font-size="6.7" text-anchor="end" fill="#444" font-style="italic">POTEH</text>
<line x1="165.73" y1="840.61" x2="194.74" y2="840.61" stroke="#e9a052" stroke-width="1.1"/>
<line x1="165.73" y1="839.36" x2="165.73" y2="841.86" stroke="#1c1c1c" stroke-width="1.25"/>
<text x="159" y="842.91" font-size="6.7" text-anchor="end" fill="#444" font-style="italic">PEX5L</text>
<line x1="167.92" y1="846.77" x2="208.98" y2="846.77" stroke="#8888d8" stroke-width="1.1"/>
<path d="M207.48 845.62 L209.18 846.77 L207.48 847.92" fill="none" stroke="#2a2a2a" stroke-width="0.6"/>
<line x1="204.96" y1="845.52" x2="204.96" y2="848.02" stroke="#1c1c1c" stroke-width="1.25"/>
<text x="159" y="849.07" font-size="6.7" text-anchor="end" fill="#444" font-style="italic">MYD88</text>
<line x1="170.66" y1="852.92" x2="208.98" y2="852.92" stroke="#8888d8" stroke-width="1.1"/>
<path d="M207.48 851.77 L209.18 852.92 L207.48 854.07" fill="none" stroke="#2a2a2a" stroke-width="0.6"/>
<line x1="204.96" y1="851.67" x2="204.96" y2="854.17" stroke="#1c1c1c" stroke-width="1.25"/>
<text x="159" y="855.22" font-size="6.7" text-anchor="end" fill="#444" font-style="italic">HNRNPU</text>
<line x1="165.73" y1="859.08" x2="208.98" y2="859.08" stroke="#e9a052" stroke-width="1.1"/>
<path d="M207.48 857.93 L209.18 859.08 L207.48 860.23" fill="none" stroke="#2a2a2a" stroke-width="0.6"/>
<line x1="165.73" y1="857.83" x2="165.73" y2="860.33" stroke="#1c1c1c" stroke-width="1.25"/>
<text x="159" y="861.38" font-size="6.7" text-anchor="end" fill="#444" font-style="italic">HLA−B</text>
<line x1="167.92" y1="865.24" x2="208.98" y2="865.24" stroke="#8888d8" stroke-width="1.1"/>
<path d="M207.48 864.09 L209.18 865.24 L207.48 866.39" fill="none" stroke="#2a2a2a" stroke-width="0.6"/>
<line x1="204.96" y1="863.99" x2="204.96" y2="866.49" stroke="#1c1c1c" stroke-width="1.25"/>
<text x="159" y="867.54" font-size="6.7" text-anchor="end" fill="#444" font-style="italic">GNAI2</text>
<line x1="165.73" y1="871.39" x2="208.98" y2="871.39" stroke="#e9a052" stroke-width="1.1"/>
<path d="M207.48 870.25 L209.18 871.39 L207.48 872.54" fill="none" stroke="#2a2a2a" stroke-width="0.6"/>
<line x1="165.73" y1="870.14" x2="165.73" y2="872.64" stroke="#1c1c1c" stroke-width="1.25"/>
<text x="159" y="873.69" font-size="6.7" text-anchor="end" fill="#444" font-style="italic">CCND3</text>
<line x1="165.73" y1="877.55" x2="208.98" y2="877.55" stroke="#e9a052" stroke-width="1.1"/>
<path d="M207.48 876.4 L209.18 877.55 L207.48 878.7" fill="none" stroke="#2a2a2a" stroke-width="0.6"/>
<line x1="165.73" y1="876.3" x2="165.73" y2="878.8" stroke="#1c1c1c" stroke-width="1.25"/>
<text x="159" y="879.85" font-size="6.7" text-anchor="end" fill="#444" font-style="italic">B2M</text>
<line x1="165.73" y1="883.71" x2="208.98" y2="883.71" stroke="#e9a052" stroke-width="1.1"/>
<path d="M207.48 882.56 L209.18 883.71 L207.48 884.86" fill="none" stroke="#2a2a2a" stroke-width="0.6"/>
<line x1="165.73" y1="882.46" x2="165.73" y2="884.96" stroke="#1c1c1c" stroke-width="1.25"/>
<text x="159" y="886.01" font-size="6.7" text-anchor="end" fill="#444" font-style="italic">ZNF708</text>
<line x1="167.92" y1="889.87" x2="208.98" y2="889.87" stroke="#8888d8" stroke-width="1.1"/>
<path d="M207.48 888.72 L209.18 889.87 L207.48 891.02" fill="none" stroke="#2a2a2a" stroke-width="0.6"/>
<line x1="204.96" y1="888.62" x2="204.96" y2="891.12" stroke="#1c1c1c" stroke-width="1.25"/>
<text x="159" y="892.17" font-size="6.7" text-anchor="end" fill="#444" font-style="italic">VPS39</text>
<line x1="165.73" y1="896.02" x2="208.98" y2="896.02" stroke="#e9a052" stroke-width="1.1"/>
<path d="M207.48 894.87 L209.18 896.02 L207.48 897.17" fill="none" stroke="#2a2a2a" stroke-width="0.6"/>
<line x1="177.96" y1="894.77" x2="177.96" y2="897.27" stroke="#1c1c1c" stroke-width="1.25"/>
<text x="159" y="898.32" font-size="6.7" text-anchor="end" fill="#444" font-style="italic">VMA21</text>
<line x1="165.73" y1="902.18" x2="208.98" y2="902.18" stroke="#e9a052" stroke-width="1.1"/>
<path d="M207.48 901.03 L209.18 902.18 L207.48 903.33" fill="none" stroke="#2a2a2a" stroke-width="0.6"/>
<line x1="165.73" y1="900.93" x2="165.73" y2="903.43" stroke="#1c1c1c" stroke-width="1.25"/>
<text x="159" y="904.48" font-size="6.7" text-anchor="end" fill="#444" font-style="italic">HLA−A</text>
<line x1="165.73" y1="908.34" x2="208.98" y2="908.34" stroke="#e9a052" stroke-width="1.1"/>
<path d="M207.48 907.19 L209.18 908.34 L207.48 909.49" fill="none" stroke="#2a2a2a" stroke-width="0.6"/>
<line x1="177.96" y1="907.09" x2="177.96" y2="909.59" stroke="#1c1c1c" stroke-width="1.25"/>
<text x="159" y="910.64" font-size="6.7" text-anchor="end" fill="#444" font-style="italic">GET4</text>
<line x1="165.73" y1="914.49" x2="208.98" y2="914.49" stroke="#e9a052" stroke-width="1.1"/>
<path d="M207.48 913.34 L209.18 914.49 L207.48 915.64" fill="none" stroke="#2a2a2a" stroke-width="0.6"/>
<line x1="177.96" y1="913.24" x2="177.96" y2="915.74" stroke="#1c1c1c" stroke-width="1.25"/>
<text x="159" y="916.79" font-size="6.7" text-anchor="end" fill="#444" font-style="italic">FAS</text>
<line x1="165.73" y1="920.65" x2="194.74" y2="920.65" stroke="#e9a052" stroke-width="1.1"/>
<line x1="165.73" y1="919.4" x2="165.73" y2="921.9" stroke="#1c1c1c" stroke-width="1.25"/>
<text x="159" y="922.95" font-size="6.7" text-anchor="end" fill="#444" font-style="italic">DIO2</text>
<line x1="165.73" y1="926.81" x2="208.98" y2="926.81" stroke="#e9a052" stroke-width="1.1"/>
<path d="M207.48 925.66 L209.18 926.81 L207.48 927.96" fill="none" stroke="#2a2a2a" stroke-width="0.6"/>
<line x1="165.73" y1="925.56" x2="165.73" y2="928.06" stroke="#1c1c1c" stroke-width="1.25"/>
<text x="159" y="929.11" font-size="6.7" text-anchor="end" fill="#444" font-style="italic">CPT1C</text>
<line x1="165.73" y1="932.96" x2="208.98" y2="932.96" stroke="#e9a052" stroke-width="1.1"/>
<path d="M207.48 931.81 L209.18 932.96 L207.48 934.11" fill="none" stroke="#2a2a2a" stroke-width="0.6"/>
<line x1="165.73" y1="931.71" x2="165.73" y2="934.21" stroke="#1c1c1c" stroke-width="1.25"/>
<text x="159" y="935.26" font-size="6.7" text-anchor="end" fill="#444" font-style="italic">S1PR2</text>
<line x1="165.73" y1="939.12" x2="208.98" y2="939.12" stroke="#e9a052" stroke-width="1.1"/>
<path d="M207.48 937.97 L209.18 939.12 L207.48 940.27" fill="none" stroke="#2a2a2a" stroke-width="0.6"/>
<line x1="177.96" y1="937.87" x2="177.96" y2="940.37" stroke="#1c1c1c" stroke-width="1.25"/>
<text x="159" y="941.42" font-size="6.7" text-anchor="end" fill="#444" font-style="italic">IL4R</text>
<line x1="167.92" y1="945.28" x2="208.98" y2="945.28" stroke="#8888d8" stroke-width="1.1"/>
<path d="M207.48 944.13 L209.18 945.28 L207.48 946.43" fill="none" stroke="#2a2a2a" stroke-width="0.6"/>
<line x1="204.96" y1="944.03" x2="204.96" y2="946.53" stroke="#1c1c1c" stroke-width="1.25"/>
<text x="159" y="947.58" font-size="6.7" text-anchor="end" fill="#444" font-style="italic">CDH9</text>
<line x1="165.73" y1="951.44" x2="208.98" y2="951.44" stroke="#e9a052" stroke-width="1.1"/>
<path d="M207.48 950.29 L209.18 951.44 L207.48 952.59" fill="none" stroke="#2a2a2a" stroke-width="0.6"/>
<line x1="177.96" y1="950.19" x2="177.96" y2="952.69" stroke="#1c1c1c" stroke-width="1.25"/>
<text x="159" y="953.74" font-size="6.7" text-anchor="end" fill="#444" font-style="italic">CBLB</text>
<line x1="178.4" y1="650" x2="178.4" y2="958.5" stroke="#5c5c5c" stroke-width="0.75" stroke-dasharray="3.3 4.3"/>
<text x="165.7" y="965.4" font-size="7.6" text-anchor="middle" fill="#222">0</text>
<text x="178.4" y="965.4" font-size="7.6" text-anchor="middle" fill="#222">1</text>
<text x="191.1" y="965.4" font-size="7.6" text-anchor="middle" fill="#222">2</text>
<text x="203.9" y="965.4" font-size="7.6" text-anchor="middle" fill="#222">3</text>
<text x="184" y="975.6" font-size="9.4" text-anchor="middle" fill="#222">Odds Ratio</text>
<text x="91.8" y="683" font-size="6.6" fill="#222" font-style="italic" textLength="24.4" lengthAdjust="spacingAndGlyphs">p&lt;0.016</text>
<text x="206.7" y="682" font-size="6.6" fill="#222" font-style="italic" textLength="20.2" lengthAdjust="spacingAndGlyphs">p&lt;0.02</text>
<line x1="263.4" y1="738.7" x2="263.4" y2="934.4" stroke="#333" stroke-width="0.8"/>
<line x1="263.4" y1="934.1" x2="448.3" y2="934.1" stroke="#333" stroke-width="0.8"/>
<line x1="261.6" y1="747.7" x2="263.4" y2="747.7" stroke="#333" stroke-width="0.6"/>
<text x="260" y="750.3" font-size="7.25" text-anchor="end" fill="#222">1.00</text>
<line x1="261.6" y1="792.3" x2="263.4" y2="792.3" stroke="#333" stroke-width="0.6"/>
<text x="260" y="794.9" font-size="7.25" text-anchor="end" fill="#222">0.75</text>
<line x1="261.6" y1="836.5" x2="263.4" y2="836.5" stroke="#333" stroke-width="0.6"/>
<text x="260" y="839.1" font-size="7.25" text-anchor="end" fill="#222">0.50</text>
<line x1="261.6" y1="880.8" x2="263.4" y2="880.8" stroke="#333" stroke-width="0.6"/>
<text x="260" y="883.4" font-size="7.25" text-anchor="end" fill="#222">0.25</text>
<line x1="261.6" y1="925.3" x2="263.4" y2="925.3" stroke="#333" stroke-width="0.6"/>
<text x="260" y="927.9" font-size="7.25" text-anchor="end" fill="#222">0.00</text>
<line x1="271.3" y1="934.1" x2="271.3" y2="936" stroke="#333" stroke-width="0.6"/>
<text x="271.3" y="944.5" font-size="7.25" text-anchor="middle" fill="#222">0</text>
<line x1="304.9" y1="934.1" x2="304.9" y2="936" stroke="#333" stroke-width="0.6"/>
<text x="304.9" y="944.5" font-size="7.25" text-anchor="middle" fill="#222">5</text>
<line x1="338.5" y1="934.1" x2="338.5" y2="936" stroke="#333" stroke-width="0.6"/>
<text x="338.5" y="944.5" font-size="7.25" text-anchor="middle" fill="#222">10</text>
<line x1="372.1" y1="934.1" x2="372.1" y2="936" stroke="#333" stroke-width="0.6"/>
<text x="372.1" y="944.5" font-size="7.25" text-anchor="middle" fill="#222">15</text>
<line x1="405.7" y1="934.1" x2="405.7" y2="936" stroke="#333" stroke-width="0.6"/>
<text x="405.7" y="944.5" font-size="7.25" text-anchor="middle" fill="#222">20</text>
<line x1="439.2" y1="934.1" x2="439.2" y2="936" stroke="#333" stroke-width="0.6"/>
<text x="439.2" y="944.5" font-size="7.25" text-anchor="middle" fill="#222">25</text>
<text x="325.45" y="955.8" font-size="9.6" fill="#222" textLength="57.7" lengthAdjust="spacingAndGlyphs">Time (Years)</text>
<text transform="translate(239.3 893.2) rotate(-90)" font-size="9.3" fill="#222" textLength="24.1" lengthAdjust="spacing">Overall</text>
<text transform="translate(239.3 866.5) rotate(-90)" font-size="9.3" fill="#222" textLength="30" lengthAdjust="spacing">survival</text>
<text transform="translate(239.3 832.6) rotate(-90)" font-size="9.3" fill="#222" textLength="37.8" lengthAdjust="spacing">probability</text>
<text transform="translate(239.3 791.5) rotate(-90)" font-size="9.3" fill="#222" textLength="16.3" lengthAdjust="spacing">(%)</text>
<text x="353.2" y="747.6" font-size="8.8" fill="#222" textLength="86.6" lengthAdjust="spacingAndGlyphs">CREBBP KAT approx.</text>
<line x1="355.7" y1="754.8" x2="364.8" y2="754.8" stroke="#6fcfd0" stroke-width="0.9"/>
<line x1="360.2" y1="751.1" x2="360.2" y2="758.5" stroke="#6fcfd0" stroke-width="0.8"/>
<text x="368.4" y="757.2" font-size="7.4" fill="#222" textLength="64.5" lengthAdjust="spacingAndGlyphs">no (dFL-like, n=25)</text>
<line x1="355.7" y1="764.7" x2="364.8" y2="764.7" stroke="#d9476b" stroke-width="0.9"/>
<line x1="360.2" y1="761" x2="360.2" y2="768.4" stroke="#d9476b" stroke-width="0.8"/>
<text x="368.4" y="767.1" font-size="7.4" fill="#222" textLength="67.2" lengthAdjust="spacingAndGlyphs">yes (cFL like, n=19)</text>
<text x="365" y="920" font-size="8.8" fill="#222" font-style="italic" textLength="37.5" lengthAdjust="spacingAndGlyphs">p = 0.018</text>
<path d="M271.5 747.8 L279.5 747.8 L279.5 754.8 L283.6 754.8 L283.6 761.9 L285.1 761.9 L285.1 776.1 L288.3 776.1 L288.3 783.2 L292.4 783.2 L292.4 790.3 L298.2 790.3 L298.2 797.5 L309.4 797.5 L309.4 811.7 L314.3 811.7 L314.3 818.8 L317 818.8 L317 825.9 L321.6 825.9 L321.6 833 L324 833 L324 840.1 L329.4 840.1 L329.4 847.2 L342.3 847.2 L342.3 854.7 L375.3 854.7 L375.3 878 L409 878 L409 901.5 L419.1 901.5" fill="none" stroke="#6fcfd0" stroke-width="1.15" stroke-linejoin="miter"/>
<line x1="332.1" y1="843.3" x2="332.1" y2="851.1" stroke="#6fcfd0" stroke-width="0.8"/>
<line x1="347.7" y1="850.8" x2="347.7" y2="858.6" stroke="#6fcfd0" stroke-width="0.8"/>
<line x1="349.4" y1="850.8" x2="349.4" y2="858.6" stroke="#6fcfd0" stroke-width="0.8"/>
<line x1="351.3" y1="850.8" x2="351.3" y2="858.6" stroke="#6fcfd0" stroke-width="0.8"/>
<line x1="353.2" y1="850.8" x2="353.2" y2="858.6" stroke="#6fcfd0" stroke-width="0.8"/>
<line x1="373.8" y1="850.8" x2="373.8" y2="858.6" stroke="#6fcfd0" stroke-width="0.8"/>
<line x1="419.1" y1="897.6" x2="419.1" y2="905.4" stroke="#6fcfd0" stroke-width="0.8"/>
<path d="M271.5 747.8 L294.4 747.8 L294.4 757 L310.9 757 L310.9 766.1 L323.6 766.1 L323.6 776.7 L324.8 776.7 L324.8 788.3 L337.9 788.3 L337.9 799.9 L371.2 799.9 L371.2 820.8 L441.7 820.8" fill="none" stroke="#d9476b" stroke-width="1.15" stroke-linejoin="miter"/>
<line x1="318.2" y1="762.2" x2="318.2" y2="770" stroke="#d9476b" stroke-width="0.8"/>
<line x1="322.6" y1="762.2" x2="322.6" y2="770" stroke="#d9476b" stroke-width="0.8"/>
<line x1="343.5" y1="796" x2="343.5" y2="803.8" stroke="#d9476b" stroke-width="0.8"/>
<line x1="346.2" y1="796" x2="346.2" y2="803.8" stroke="#d9476b" stroke-width="0.8"/>
<line x1="354.2" y1="796" x2="354.2" y2="803.8" stroke="#d9476b" stroke-width="0.8"/>
<line x1="361.1" y1="796" x2="361.1" y2="803.8" stroke="#d9476b" stroke-width="0.8"/>
<line x1="366.3" y1="796" x2="366.3" y2="803.8" stroke="#d9476b" stroke-width="0.8"/>
<line x1="371.2" y1="816.9" x2="371.2" y2="824.7" stroke="#d9476b" stroke-width="0.8"/>
<line x1="385.7" y1="816.9" x2="385.7" y2="824.7" stroke="#d9476b" stroke-width="0.8"/>
<line x1="421.5" y1="816.9" x2="421.5" y2="824.7" stroke="#d9476b" stroke-width="0.8"/>
<line x1="441.7" y1="816.9" x2="441.7" y2="824.7" stroke="#d9476b" stroke-width="0.8"/>
<line x1="492.7" y1="738.7" x2="492.7" y2="934.4" stroke="#333" stroke-width="0.8"/>
<line x1="492.7" y1="934.1" x2="677.6" y2="934.1" stroke="#333" stroke-width="0.8"/>
<line x1="490.9" y1="747.7" x2="492.7" y2="747.7" stroke="#333" stroke-width="0.6"/>
<text x="489.3" y="750.3" font-size="7.25" text-anchor="end" fill="#222">1.00</text>
<line x1="490.9" y1="792.3" x2="492.7" y2="792.3" stroke="#333" stroke-width="0.6"/>
<text x="489.3" y="794.9" font-size="7.25" text-anchor="end" fill="#222">0.75</text>
<line x1="490.9" y1="836.5" x2="492.7" y2="836.5" stroke="#333" stroke-width="0.6"/>
<text x="489.3" y="839.1" font-size="7.25" text-anchor="end" fill="#222">0.50</text>
<line x1="490.9" y1="880.8" x2="492.7" y2="880.8" stroke="#333" stroke-width="0.6"/>
<text x="489.3" y="883.4" font-size="7.25" text-anchor="end" fill="#222">0.25</text>
<line x1="490.9" y1="925.3" x2="492.7" y2="925.3" stroke="#333" stroke-width="0.6"/>
<text x="489.3" y="927.9" font-size="7.25" text-anchor="end" fill="#222">0.00</text>
<line x1="501" y1="934.1" x2="501" y2="936" stroke="#333" stroke-width="0.6"/>
<text x="501" y="944.5" font-size="7.25" text-anchor="middle" fill="#222">0</text>
<line x1="534.6" y1="934.1" x2="534.6" y2="936" stroke="#333" stroke-width="0.6"/>
<text x="534.6" y="944.5" font-size="7.25" text-anchor="middle" fill="#222">5</text>
<line x1="568.2" y1="934.1" x2="568.2" y2="936" stroke="#333" stroke-width="0.6"/>
<text x="568.2" y="944.5" font-size="7.25" text-anchor="middle" fill="#222">10</text>
<line x1="602" y1="934.1" x2="602" y2="936" stroke="#333" stroke-width="0.6"/>
<text x="602" y="944.5" font-size="7.25" text-anchor="middle" fill="#222">15</text>
<line x1="635.7" y1="934.1" x2="635.7" y2="936" stroke="#333" stroke-width="0.6"/>
<text x="635.7" y="944.5" font-size="7.25" text-anchor="middle" fill="#222">20</text>
<line x1="669.2" y1="934.1" x2="669.2" y2="936" stroke="#333" stroke-width="0.6"/>
<text x="669.2" y="944.5" font-size="7.25" text-anchor="middle" fill="#222">25</text>
<text x="523.65" y="955.8" font-size="9.6" fill="#222" textLength="136.7" lengthAdjust="spacingAndGlyphs">Time to transformation (Years)</text>
<text transform="translate(469.3 895.8) rotate(-90)" font-size="9.3" fill="#222" textLength="56.7" lengthAdjust="spacing">Transformation</text>
<text transform="translate(469.3 837.1) rotate(-90)" font-size="9.3" fill="#222" textLength="37.8" lengthAdjust="spacing">probability</text>
<text transform="translate(469.3 795.4) rotate(-90)" font-size="9.3" fill="#222" textLength="16.9" lengthAdjust="spacing">(%)</text>
<text x="597" y="746.4" font-size="8.8" fill="#222" textLength="86.6" lengthAdjust="spacingAndGlyphs">CREBBP KAT approx.</text>
<line x1="599.5" y1="753.6" x2="608.6" y2="753.6" stroke="#6fcfd0" stroke-width="0.9"/>
<line x1="604" y1="749.9" x2="604" y2="757.3" stroke="#6fcfd0" stroke-width="0.8"/>
<text x="612.2" y="756" font-size="7.4" fill="#222" textLength="64" lengthAdjust="spacingAndGlyphs">no (dFL-like, n=22)</text>
<line x1="599.5" y1="763.5" x2="608.6" y2="763.5" stroke="#d9476b" stroke-width="0.9"/>
<line x1="604" y1="759.8" x2="604" y2="767.2" stroke="#d9476b" stroke-width="0.8"/>
<text x="612.2" y="765.9" font-size="7.4" fill="#222" textLength="66.4" lengthAdjust="spacingAndGlyphs">yes (cFL like, n=18)</text>
<text x="598.4" y="920" font-size="8.8" fill="#222" font-style="italic" textLength="37.9" lengthAdjust="spacingAndGlyphs">p = 0.033</text>
<line x1="493" y1="836.5" x2="543.8" y2="836.5" stroke="#888" stroke-width="0.7"/>
<line x1="543.8" y1="836.5" x2="543.8" y2="934.1" stroke="#aaa" stroke-width="0.9"/>
<path d="M501.2 747.8 L501.2 747.8 L501.2 755.5 L502.2 755.5 L502.2 763.8 L508.4 763.8 L508.4 771.9 L513.6 771.9 L513.6 780 L515.4 780 L515.4 788.4 L516.5 788.4 L516.5 796.4 L517.5 796.4 L517.5 804.4 L526.6 804.4 L526.6 812.7 L528.5 812.7 L528.5 821.2 L537.5 821.2 L537.5 830 L543.4 830 L543.4 839.5 L547.5 839.5 L547.5 849.2 L556.7 849.2 L556.7 858.6 L648.8 858.6" fill="none" stroke="#6fcfd0" stroke-width="1.15" stroke-linejoin="miter"/>
<line x1="522.4" y1="800.5" x2="522.4" y2="808.3" stroke="#6fcfd0" stroke-width="0.8"/>
<line x1="539.4" y1="826.1" x2="539.4" y2="833.9" stroke="#6fcfd0" stroke-width="0.8"/>
<line x1="571.5" y1="854.7" x2="571.5" y2="862.5" stroke="#6fcfd0" stroke-width="0.8"/>
<line x1="576.8" y1="854.7" x2="576.8" y2="862.5" stroke="#6fcfd0" stroke-width="0.8"/>
<line x1="578.3" y1="854.7" x2="578.3" y2="862.5" stroke="#6fcfd0" stroke-width="0.8"/>
<line x1="579.7" y1="854.7" x2="579.7" y2="862.5" stroke="#6fcfd0" stroke-width="0.8"/>
<line x1="581.2" y1="854.7" x2="581.2" y2="862.5" stroke="#6fcfd0" stroke-width="0.8"/>
<line x1="603.1" y1="854.7" x2="603.1" y2="862.5" stroke="#6fcfd0" stroke-width="0.8"/>
<line x1="648.8" y1="854.7" x2="648.8" y2="862.5" stroke="#6fcfd0" stroke-width="0.8"/>
<path d="M501.2 747.8 L517.5 747.8 L517.5 767.3 L518.7 767.3 L518.7 777.2 L538.4 777.2 L538.4 787.2 L599.4 787.2 L599.4 814.9 L670.9 814.9" fill="none" stroke="#d9476b" stroke-width="1.15" stroke-linejoin="miter"/>
<line x1="547.6" y1="783.3" x2="547.6" y2="791.1" stroke="#d9476b" stroke-width="0.8"/>
<line x1="552.3" y1="783.3" x2="552.3" y2="791.1" stroke="#d9476b" stroke-width="0.8"/>
<line x1="553.4" y1="783.3" x2="553.4" y2="791.1" stroke="#d9476b" stroke-width="0.8"/>
<line x1="554.5" y1="783.3" x2="554.5" y2="791.1" stroke="#d9476b" stroke-width="0.8"/>
<line x1="567.4" y1="783.3" x2="567.4" y2="791.1" stroke="#d9476b" stroke-width="0.8"/>
<line x1="572.6" y1="783.3" x2="572.6" y2="791.1" stroke="#d9476b" stroke-width="0.8"/>
<line x1="583.8" y1="783.3" x2="583.8" y2="791.1" stroke="#d9476b" stroke-width="0.8"/>
<line x1="590.6" y1="783.3" x2="590.6" y2="791.1" stroke="#d9476b" stroke-width="0.8"/>
<line x1="595.4" y1="783.3" x2="595.4" y2="791.1" stroke="#d9476b" stroke-width="0.8"/>
<line x1="599.4" y1="811" x2="599.4" y2="818.8" stroke="#d9476b" stroke-width="0.8"/>
<line x1="615.5" y1="811" x2="615.5" y2="818.8" stroke="#d9476b" stroke-width="0.8"/>
<line x1="670.9" y1="811" x2="670.9" y2="818.8" stroke="#d9476b" stroke-width="0.8"/>
</svg>
</body></html>
